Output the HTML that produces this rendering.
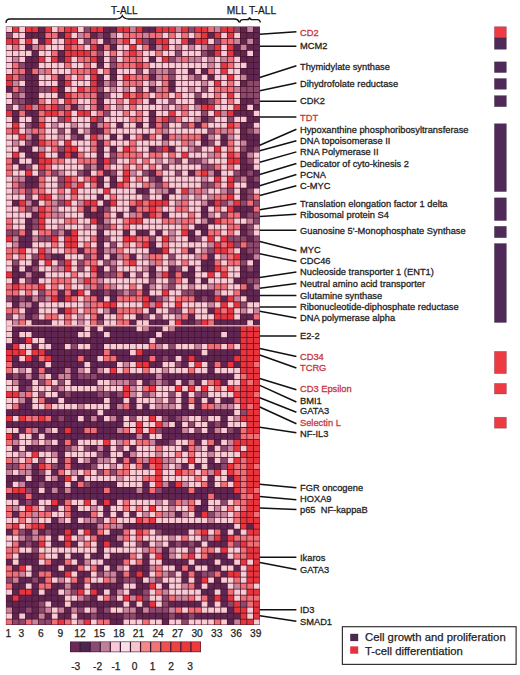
<!DOCTYPE html><html><head><meta charset="utf-8"><style>html,body{margin:0;padding:0;background:#fff;}svg{display:block}</style></head><body>
<svg width="520" height="675" viewBox="0 0 520 675">
<rect width="520" height="675" fill="#fff"/>
<defs><filter id="bl" x="-2%" y="-2%" width="104%" height="104%"><feGaussianBlur stdDeviation="0.35"/></filter></defs>
<g filter="url(#bl)">
<rect x="5.9" y="26.5" width="254.00" height="598.50" fill="#4a1226"/>
<path fill="#5e2652" d="M38.84 26.88h5.75v5.23h-5.75zM103.97 26.88h5.75v5.23h-5.75zM110.49 26.88h5.75v5.23h-5.75zM143.05 26.88h5.75v5.23h-5.75zM149.56 26.88h5.75v5.23h-5.75zM240.74 26.88h5.75v5.23h-5.75zM253.77 26.88h5.75v5.23h-5.75zM25.82 32.87h5.75v5.23h-5.75zM32.33 32.87h5.75v5.23h-5.75zM38.84 32.87h5.75v5.23h-5.75zM58.38 32.87h5.75v5.23h-5.75zM90.95 32.87h5.75v5.23h-5.75zM103.97 32.87h5.75v5.23h-5.75zM208.18 32.87h5.75v5.23h-5.75zM240.74 32.87h5.75v5.23h-5.75zM247.25 32.87h5.75v5.23h-5.75zM253.77 32.87h5.75v5.23h-5.75zM38.84 38.85h5.75v5.23h-5.75zM103.97 38.85h5.75v5.23h-5.75zM149.56 38.85h5.75v5.23h-5.75zM188.64 38.85h5.75v5.23h-5.75zM240.74 38.85h5.75v5.23h-5.75zM253.77 38.85h5.75v5.23h-5.75zM25.82 44.84h5.75v5.23h-5.75zM97.46 44.84h5.75v5.23h-5.75zM110.49 44.84h5.75v5.23h-5.75zM149.56 44.84h5.75v5.23h-5.75zM234.23 44.84h5.75v5.23h-5.75zM247.25 44.84h5.75v5.23h-5.75zM253.77 44.84h5.75v5.23h-5.75zM32.33 50.82h5.75v5.23h-5.75zM58.38 50.82h5.75v5.23h-5.75zM208.18 50.82h5.75v5.23h-5.75zM234.23 50.82h5.75v5.23h-5.75zM240.74 50.82h5.75v5.23h-5.75zM253.77 50.82h5.75v5.23h-5.75zM25.82 56.80h5.75v5.23h-5.75zM32.33 56.80h5.75v5.23h-5.75zM58.38 56.80h5.75v5.23h-5.75zM97.46 56.80h5.75v5.23h-5.75zM149.56 56.80h5.75v5.23h-5.75zM240.74 56.80h5.75v5.23h-5.75zM247.25 56.80h5.75v5.23h-5.75zM253.77 56.80h5.75v5.23h-5.75zM25.82 62.79h5.75v5.23h-5.75zM32.33 62.79h5.75v5.23h-5.75zM97.46 62.79h5.75v5.23h-5.75zM247.25 62.79h5.75v5.23h-5.75zM253.77 62.79h5.75v5.23h-5.75zM25.82 68.78h5.75v5.23h-5.75zM110.49 68.78h5.75v5.23h-5.75zM188.64 68.78h5.75v5.23h-5.75zM201.66 68.78h5.75v5.23h-5.75zM240.74 68.78h5.75v5.23h-5.75zM247.25 68.78h5.75v5.23h-5.75zM253.77 68.78h5.75v5.23h-5.75zM25.82 74.76h5.75v5.23h-5.75zM32.33 74.76h5.75v5.23h-5.75zM58.38 74.76h5.75v5.23h-5.75zM97.46 74.76h5.75v5.23h-5.75zM110.49 74.76h5.75v5.23h-5.75zM149.56 74.76h5.75v5.23h-5.75zM208.18 74.76h5.75v5.23h-5.75zM247.25 74.76h5.75v5.23h-5.75zM253.77 74.76h5.75v5.23h-5.75zM25.82 80.75h5.75v5.23h-5.75zM32.33 80.75h5.75v5.23h-5.75zM58.38 80.75h5.75v5.23h-5.75zM97.46 80.75h5.75v5.23h-5.75zM169.10 80.75h5.75v5.23h-5.75zM240.74 80.75h5.75v5.23h-5.75zM6.28 86.73h5.75v5.23h-5.75zM25.82 86.73h5.75v5.23h-5.75zM32.33 86.73h5.75v5.23h-5.75zM58.38 86.73h5.75v5.23h-5.75zM149.56 86.73h5.75v5.23h-5.75zM169.10 86.73h5.75v5.23h-5.75zM25.82 92.72h5.75v5.23h-5.75zM32.33 92.72h5.75v5.23h-5.75zM58.38 92.72h5.75v5.23h-5.75zM97.46 92.72h5.75v5.23h-5.75zM25.82 98.70h5.75v5.23h-5.75zM32.33 98.70h5.75v5.23h-5.75zM97.46 98.70h5.75v5.23h-5.75zM149.56 98.70h5.75v5.23h-5.75zM195.15 98.70h5.75v5.23h-5.75zM201.66 98.70h5.75v5.23h-5.75zM240.74 98.70h5.75v5.23h-5.75zM247.25 98.70h5.75v5.23h-5.75zM71.41 104.69h5.75v5.23h-5.75zM97.46 104.69h5.75v5.23h-5.75zM240.74 104.69h5.75v5.23h-5.75zM253.77 104.69h5.75v5.23h-5.75zM12.79 110.67h5.75v5.23h-5.75zM25.82 110.67h5.75v5.23h-5.75zM32.33 110.67h5.75v5.23h-5.75zM149.56 110.67h5.75v5.23h-5.75zM234.23 110.67h5.75v5.23h-5.75zM240.74 110.67h5.75v5.23h-5.75zM247.25 110.67h5.75v5.23h-5.75zM12.79 116.66h5.75v5.23h-5.75zM32.33 116.66h5.75v5.23h-5.75zM149.56 116.66h5.75v5.23h-5.75zM201.66 116.66h5.75v5.23h-5.75zM247.25 116.66h5.75v5.23h-5.75zM253.77 116.66h5.75v5.23h-5.75zM32.33 122.64h5.75v5.23h-5.75zM90.95 122.64h5.75v5.23h-5.75zM117.00 122.64h5.75v5.23h-5.75zM136.54 122.64h5.75v5.23h-5.75zM149.56 122.64h5.75v5.23h-5.75zM195.15 122.64h5.75v5.23h-5.75zM240.74 122.64h5.75v5.23h-5.75zM247.25 122.64h5.75v5.23h-5.75zM71.41 128.62h5.75v5.23h-5.75zM90.95 128.62h5.75v5.23h-5.75zM97.46 128.62h5.75v5.23h-5.75zM240.74 128.62h5.75v5.23h-5.75zM32.33 134.61h5.75v5.23h-5.75zM77.92 134.61h5.75v5.23h-5.75zM110.49 134.61h5.75v5.23h-5.75zM123.51 134.61h5.75v5.23h-5.75zM143.05 134.61h5.75v5.23h-5.75zM162.59 134.61h5.75v5.23h-5.75zM201.66 134.61h5.75v5.23h-5.75zM221.20 134.61h5.75v5.23h-5.75zM240.74 134.61h5.75v5.23h-5.75zM247.25 134.61h5.75v5.23h-5.75zM253.77 134.61h5.75v5.23h-5.75zM32.33 140.59h5.75v5.23h-5.75zM97.46 140.59h5.75v5.23h-5.75zM201.66 140.59h5.75v5.23h-5.75zM221.20 140.59h5.75v5.23h-5.75zM247.25 140.59h5.75v5.23h-5.75zM253.77 140.59h5.75v5.23h-5.75zM19.31 146.58h5.75v5.23h-5.75zM25.82 146.58h5.75v5.23h-5.75zM97.46 146.58h5.75v5.23h-5.75zM110.49 146.58h5.75v5.23h-5.75zM149.56 146.58h5.75v5.23h-5.75zM169.10 146.58h5.75v5.23h-5.75zM247.25 146.58h5.75v5.23h-5.75zM25.82 152.56h5.75v5.23h-5.75zM32.33 152.56h5.75v5.23h-5.75zM58.38 152.56h5.75v5.23h-5.75zM71.41 152.56h5.75v5.23h-5.75zM97.46 152.56h5.75v5.23h-5.75zM240.74 152.56h5.75v5.23h-5.75zM12.79 158.55h5.75v5.23h-5.75zM32.33 158.55h5.75v5.23h-5.75zM97.46 158.55h5.75v5.23h-5.75zM240.74 158.55h5.75v5.23h-5.75zM19.31 164.53h5.75v5.23h-5.75zM97.46 164.53h5.75v5.23h-5.75zM240.74 164.53h5.75v5.23h-5.75zM247.25 164.53h5.75v5.23h-5.75zM84.43 170.52h5.75v5.23h-5.75zM103.97 170.52h5.75v5.23h-5.75zM149.56 170.52h5.75v5.23h-5.75zM188.64 170.52h5.75v5.23h-5.75zM214.69 170.52h5.75v5.23h-5.75zM240.74 170.52h5.75v5.23h-5.75zM253.77 170.52h5.75v5.23h-5.75zM25.82 176.50h5.75v5.23h-5.75zM32.33 176.50h5.75v5.23h-5.75zM97.46 176.50h5.75v5.23h-5.75zM110.49 176.50h5.75v5.23h-5.75zM156.07 176.50h5.75v5.23h-5.75zM247.25 176.50h5.75v5.23h-5.75zM25.82 182.49h5.75v5.23h-5.75zM32.33 182.49h5.75v5.23h-5.75zM97.46 182.49h5.75v5.23h-5.75zM110.49 182.49h5.75v5.23h-5.75zM247.25 182.49h5.75v5.23h-5.75zM253.77 182.49h5.75v5.23h-5.75zM136.54 188.47h5.75v5.23h-5.75zM143.05 188.47h5.75v5.23h-5.75zM169.10 188.47h5.75v5.23h-5.75zM240.74 188.47h5.75v5.23h-5.75zM97.46 194.46h5.75v5.23h-5.75zM162.59 194.46h5.75v5.23h-5.75zM240.74 194.46h5.75v5.23h-5.75zM12.79 200.44h5.75v5.23h-5.75zM32.33 200.44h5.75v5.23h-5.75zM103.97 200.44h5.75v5.23h-5.75zM208.18 200.44h5.75v5.23h-5.75zM84.43 206.43h5.75v5.23h-5.75zM97.46 206.43h5.75v5.23h-5.75zM130.02 206.43h5.75v5.23h-5.75zM201.66 206.43h5.75v5.23h-5.75zM234.23 206.43h5.75v5.23h-5.75zM240.74 206.43h5.75v5.23h-5.75zM247.25 206.43h5.75v5.23h-5.75zM32.33 212.41h5.75v5.23h-5.75zM84.43 212.41h5.75v5.23h-5.75zM90.95 212.41h5.75v5.23h-5.75zM97.46 212.41h5.75v5.23h-5.75zM117.00 212.41h5.75v5.23h-5.75zM143.05 212.41h5.75v5.23h-5.75zM162.59 212.41h5.75v5.23h-5.75zM201.66 212.41h5.75v5.23h-5.75zM240.74 212.41h5.75v5.23h-5.75zM25.82 218.40h5.75v5.23h-5.75zM97.46 218.40h5.75v5.23h-5.75zM208.18 218.40h5.75v5.23h-5.75zM25.82 224.39h5.75v5.23h-5.75zM195.15 224.39h5.75v5.23h-5.75zM201.66 224.39h5.75v5.23h-5.75zM240.74 224.39h5.75v5.23h-5.75zM25.82 230.37h5.75v5.23h-5.75zM64.90 230.37h5.75v5.23h-5.75zM97.46 230.37h5.75v5.23h-5.75zM123.51 230.37h5.75v5.23h-5.75zM136.54 230.37h5.75v5.23h-5.75zM143.05 230.37h5.75v5.23h-5.75zM156.07 230.37h5.75v5.23h-5.75zM188.64 230.37h5.75v5.23h-5.75zM201.66 230.37h5.75v5.23h-5.75zM240.74 230.37h5.75v5.23h-5.75zM19.31 236.36h5.75v5.23h-5.75zM25.82 236.36h5.75v5.23h-5.75zM97.46 236.36h5.75v5.23h-5.75zM188.64 236.36h5.75v5.23h-5.75zM247.25 236.36h5.75v5.23h-5.75zM19.31 242.34h5.75v5.23h-5.75zM25.82 242.34h5.75v5.23h-5.75zM97.46 242.34h5.75v5.23h-5.75zM149.56 242.34h5.75v5.23h-5.75zM77.92 248.33h5.75v5.23h-5.75zM97.46 248.33h5.75v5.23h-5.75zM149.56 248.33h5.75v5.23h-5.75zM156.07 248.33h5.75v5.23h-5.75zM188.64 248.33h5.75v5.23h-5.75zM240.74 248.33h5.75v5.23h-5.75zM51.87 254.31h5.75v5.23h-5.75zM58.38 254.31h5.75v5.23h-5.75zM97.46 254.31h5.75v5.23h-5.75zM110.49 254.31h5.75v5.23h-5.75zM130.02 254.31h5.75v5.23h-5.75zM208.18 254.31h5.75v5.23h-5.75zM240.74 254.31h5.75v5.23h-5.75zM247.25 254.31h5.75v5.23h-5.75zM32.33 260.30h5.75v5.23h-5.75zM201.66 260.30h5.75v5.23h-5.75zM208.18 260.30h5.75v5.23h-5.75zM253.77 260.30h5.75v5.23h-5.75zM12.79 266.28h5.75v5.23h-5.75zM25.82 266.28h5.75v5.23h-5.75zM97.46 266.28h5.75v5.23h-5.75zM149.56 266.28h5.75v5.23h-5.75zM169.10 266.28h5.75v5.23h-5.75zM188.64 266.28h5.75v5.23h-5.75zM201.66 266.28h5.75v5.23h-5.75zM208.18 266.28h5.75v5.23h-5.75zM240.74 266.28h5.75v5.23h-5.75zM253.77 266.28h5.75v5.23h-5.75zM12.79 272.26h5.75v5.23h-5.75zM19.31 272.26h5.75v5.23h-5.75zM32.33 272.26h5.75v5.23h-5.75zM38.84 272.26h5.75v5.23h-5.75zM97.46 272.26h5.75v5.23h-5.75zM123.51 272.26h5.75v5.23h-5.75zM149.56 272.26h5.75v5.23h-5.75zM169.10 272.26h5.75v5.23h-5.75zM182.13 272.26h5.75v5.23h-5.75zM188.64 272.26h5.75v5.23h-5.75zM240.74 272.26h5.75v5.23h-5.75zM247.25 272.26h5.75v5.23h-5.75zM253.77 272.26h5.75v5.23h-5.75zM12.79 278.25h5.75v5.23h-5.75zM32.33 278.25h5.75v5.23h-5.75zM188.64 278.25h5.75v5.23h-5.75zM201.66 278.25h5.75v5.23h-5.75zM234.23 278.25h5.75v5.23h-5.75zM240.74 278.25h5.75v5.23h-5.75zM143.05 284.24h5.75v5.23h-5.75zM247.25 284.24h5.75v5.23h-5.75zM58.38 290.22h5.75v5.23h-5.75zM71.41 290.22h5.75v5.23h-5.75zM90.95 290.22h5.75v5.23h-5.75zM97.46 290.22h5.75v5.23h-5.75zM110.49 290.22h5.75v5.23h-5.75zM143.05 290.22h5.75v5.23h-5.75zM195.15 290.22h5.75v5.23h-5.75zM201.66 290.22h5.75v5.23h-5.75zM208.18 290.22h5.75v5.23h-5.75zM240.74 290.22h5.75v5.23h-5.75zM247.25 290.22h5.75v5.23h-5.75zM253.77 290.22h5.75v5.23h-5.75zM12.79 296.20h5.75v5.23h-5.75zM25.82 296.20h5.75v5.23h-5.75zM58.38 296.20h5.75v5.23h-5.75zM97.46 296.20h5.75v5.23h-5.75zM110.49 296.20h5.75v5.23h-5.75zM149.56 296.20h5.75v5.23h-5.75zM195.15 296.20h5.75v5.23h-5.75zM208.18 296.20h5.75v5.23h-5.75zM221.20 296.20h5.75v5.23h-5.75zM247.25 296.20h5.75v5.23h-5.75zM253.77 296.20h5.75v5.23h-5.75zM12.79 302.19h5.75v5.23h-5.75zM32.33 302.19h5.75v5.23h-5.75zM25.82 308.18h5.75v5.23h-5.75zM32.33 308.18h5.75v5.23h-5.75zM58.38 308.18h5.75v5.23h-5.75zM110.49 308.18h5.75v5.23h-5.75zM149.56 308.18h5.75v5.23h-5.75zM208.18 308.18h5.75v5.23h-5.75zM25.82 314.16h5.75v5.23h-5.75zM97.46 314.16h5.75v5.23h-5.75zM136.54 314.16h5.75v5.23h-5.75zM188.64 314.16h5.75v5.23h-5.75zM240.74 314.16h5.75v5.23h-5.75zM247.25 314.16h5.75v5.23h-5.75zM32.33 320.15h5.75v5.23h-5.75zM38.84 320.15h5.75v5.23h-5.75zM45.36 320.15h5.75v5.23h-5.75zM130.02 320.15h5.75v5.23h-5.75zM149.56 320.15h5.75v5.23h-5.75zM156.07 320.15h5.75v5.23h-5.75zM162.59 320.15h5.75v5.23h-5.75zM182.13 320.15h5.75v5.23h-5.75zM188.64 320.15h5.75v5.23h-5.75zM214.69 320.15h5.75v5.23h-5.75zM221.20 320.15h5.75v5.23h-5.75zM227.72 320.15h5.75v5.23h-5.75zM234.23 320.15h5.75v5.23h-5.75zM240.74 320.15h5.75v5.23h-5.75zM253.77 320.15h5.75v5.23h-5.75zM12.79 326.13h5.75v5.23h-5.75zM19.31 326.13h5.75v5.23h-5.75zM25.82 326.13h5.75v5.23h-5.75zM32.33 326.13h5.75v5.23h-5.75zM38.84 326.13h5.75v5.23h-5.75zM45.36 326.13h5.75v5.23h-5.75zM51.87 326.13h5.75v5.23h-5.75zM58.38 326.13h5.75v5.23h-5.75zM64.90 326.13h5.75v5.23h-5.75zM71.41 326.13h5.75v5.23h-5.75zM77.92 326.13h5.75v5.23h-5.75zM90.95 326.13h5.75v5.23h-5.75zM103.97 326.13h5.75v5.23h-5.75zM110.49 326.13h5.75v5.23h-5.75zM117.00 326.13h5.75v5.23h-5.75zM123.51 326.13h5.75v5.23h-5.75zM130.02 326.13h5.75v5.23h-5.75zM149.56 326.13h5.75v5.23h-5.75zM156.07 326.13h5.75v5.23h-5.75zM175.61 326.13h5.75v5.23h-5.75zM182.13 326.13h5.75v5.23h-5.75zM188.64 326.13h5.75v5.23h-5.75zM195.15 326.13h5.75v5.23h-5.75zM201.66 326.13h5.75v5.23h-5.75zM208.18 326.13h5.75v5.23h-5.75zM214.69 326.13h5.75v5.23h-5.75zM221.20 326.13h5.75v5.23h-5.75zM227.72 326.13h5.75v5.23h-5.75zM234.23 326.13h5.75v5.23h-5.75zM12.79 332.12h5.75v5.23h-5.75zM32.33 332.12h5.75v5.23h-5.75zM38.84 332.12h5.75v5.23h-5.75zM45.36 332.12h5.75v5.23h-5.75zM51.87 332.12h5.75v5.23h-5.75zM58.38 332.12h5.75v5.23h-5.75zM64.90 332.12h5.75v5.23h-5.75zM71.41 332.12h5.75v5.23h-5.75zM90.95 332.12h5.75v5.23h-5.75zM97.46 332.12h5.75v5.23h-5.75zM110.49 332.12h5.75v5.23h-5.75zM117.00 332.12h5.75v5.23h-5.75zM123.51 332.12h5.75v5.23h-5.75zM130.02 332.12h5.75v5.23h-5.75zM136.54 332.12h5.75v5.23h-5.75zM143.05 332.12h5.75v5.23h-5.75zM149.56 332.12h5.75v5.23h-5.75zM162.59 332.12h5.75v5.23h-5.75zM169.10 332.12h5.75v5.23h-5.75zM175.61 332.12h5.75v5.23h-5.75zM182.13 332.12h5.75v5.23h-5.75zM188.64 332.12h5.75v5.23h-5.75zM195.15 332.12h5.75v5.23h-5.75zM201.66 332.12h5.75v5.23h-5.75zM208.18 332.12h5.75v5.23h-5.75zM214.69 332.12h5.75v5.23h-5.75zM227.72 332.12h5.75v5.23h-5.75zM234.23 332.12h5.75v5.23h-5.75zM12.79 338.10h5.75v5.23h-5.75zM19.31 338.10h5.75v5.23h-5.75zM45.36 338.10h5.75v5.23h-5.75zM51.87 338.10h5.75v5.23h-5.75zM58.38 338.10h5.75v5.23h-5.75zM64.90 338.10h5.75v5.23h-5.75zM71.41 338.10h5.75v5.23h-5.75zM77.92 338.10h5.75v5.23h-5.75zM84.43 338.10h5.75v5.23h-5.75zM90.95 338.10h5.75v5.23h-5.75zM97.46 338.10h5.75v5.23h-5.75zM103.97 338.10h5.75v5.23h-5.75zM110.49 338.10h5.75v5.23h-5.75zM117.00 338.10h5.75v5.23h-5.75zM123.51 338.10h5.75v5.23h-5.75zM130.02 338.10h5.75v5.23h-5.75zM136.54 338.10h5.75v5.23h-5.75zM143.05 338.10h5.75v5.23h-5.75zM156.07 338.10h5.75v5.23h-5.75zM162.59 338.10h5.75v5.23h-5.75zM169.10 338.10h5.75v5.23h-5.75zM175.61 338.10h5.75v5.23h-5.75zM182.13 338.10h5.75v5.23h-5.75zM188.64 338.10h5.75v5.23h-5.75zM195.15 338.10h5.75v5.23h-5.75zM201.66 338.10h5.75v5.23h-5.75zM208.18 338.10h5.75v5.23h-5.75zM214.69 338.10h5.75v5.23h-5.75zM221.20 338.10h5.75v5.23h-5.75zM227.72 338.10h5.75v5.23h-5.75zM234.23 338.10h5.75v5.23h-5.75zM6.28 344.09h5.75v5.23h-5.75zM32.33 344.09h5.75v5.23h-5.75zM51.87 344.09h5.75v5.23h-5.75zM58.38 344.09h5.75v5.23h-5.75zM90.95 344.09h5.75v5.23h-5.75zM97.46 344.09h5.75v5.23h-5.75zM45.36 350.07h5.75v5.23h-5.75zM51.87 350.07h5.75v5.23h-5.75zM58.38 350.07h5.75v5.23h-5.75zM64.90 350.07h5.75v5.23h-5.75zM71.41 350.07h5.75v5.23h-5.75zM77.92 350.07h5.75v5.23h-5.75zM84.43 350.07h5.75v5.23h-5.75zM90.95 350.07h5.75v5.23h-5.75zM97.46 350.07h5.75v5.23h-5.75zM110.49 350.07h5.75v5.23h-5.75zM117.00 350.07h5.75v5.23h-5.75zM123.51 350.07h5.75v5.23h-5.75zM143.05 350.07h5.75v5.23h-5.75zM149.56 350.07h5.75v5.23h-5.75zM156.07 350.07h5.75v5.23h-5.75zM162.59 350.07h5.75v5.23h-5.75zM169.10 350.07h5.75v5.23h-5.75zM175.61 350.07h5.75v5.23h-5.75zM182.13 350.07h5.75v5.23h-5.75zM188.64 350.07h5.75v5.23h-5.75zM195.15 350.07h5.75v5.23h-5.75zM208.18 350.07h5.75v5.23h-5.75zM214.69 350.07h5.75v5.23h-5.75zM221.20 350.07h5.75v5.23h-5.75zM227.72 350.07h5.75v5.23h-5.75zM234.23 350.07h5.75v5.23h-5.75zM12.79 356.06h5.75v5.23h-5.75zM32.33 356.06h5.75v5.23h-5.75zM51.87 356.06h5.75v5.23h-5.75zM58.38 356.06h5.75v5.23h-5.75zM64.90 356.06h5.75v5.23h-5.75zM71.41 356.06h5.75v5.23h-5.75zM84.43 356.06h5.75v5.23h-5.75zM90.95 356.06h5.75v5.23h-5.75zM117.00 356.06h5.75v5.23h-5.75zM123.51 356.06h5.75v5.23h-5.75zM130.02 356.06h5.75v5.23h-5.75zM136.54 356.06h5.75v5.23h-5.75zM143.05 356.06h5.75v5.23h-5.75zM156.07 356.06h5.75v5.23h-5.75zM169.10 356.06h5.75v5.23h-5.75zM182.13 356.06h5.75v5.23h-5.75zM195.15 356.06h5.75v5.23h-5.75zM201.66 356.06h5.75v5.23h-5.75zM208.18 356.06h5.75v5.23h-5.75zM214.69 356.06h5.75v5.23h-5.75zM221.20 356.06h5.75v5.23h-5.75zM227.72 356.06h5.75v5.23h-5.75zM12.79 362.04h5.75v5.23h-5.75zM19.31 362.04h5.75v5.23h-5.75zM25.82 362.04h5.75v5.23h-5.75zM32.33 362.04h5.75v5.23h-5.75zM38.84 362.04h5.75v5.23h-5.75zM51.87 362.04h5.75v5.23h-5.75zM58.38 362.04h5.75v5.23h-5.75zM64.90 362.04h5.75v5.23h-5.75zM71.41 362.04h5.75v5.23h-5.75zM77.92 362.04h5.75v5.23h-5.75zM90.95 362.04h5.75v5.23h-5.75zM97.46 362.04h5.75v5.23h-5.75zM103.97 362.04h5.75v5.23h-5.75zM110.49 362.04h5.75v5.23h-5.75zM149.56 362.04h5.75v5.23h-5.75zM156.07 362.04h5.75v5.23h-5.75zM182.13 362.04h5.75v5.23h-5.75zM208.18 362.04h5.75v5.23h-5.75zM221.20 362.04h5.75v5.23h-5.75zM234.23 362.04h5.75v5.23h-5.75zM32.33 368.03h5.75v5.23h-5.75zM45.36 368.03h5.75v5.23h-5.75zM51.87 368.03h5.75v5.23h-5.75zM58.38 368.03h5.75v5.23h-5.75zM71.41 368.03h5.75v5.23h-5.75zM90.95 368.03h5.75v5.23h-5.75zM208.18 368.03h5.75v5.23h-5.75zM6.28 374.01h5.75v5.23h-5.75zM19.31 374.01h5.75v5.23h-5.75zM32.33 374.01h5.75v5.23h-5.75zM51.87 374.01h5.75v5.23h-5.75zM71.41 374.01h5.75v5.23h-5.75zM97.46 374.01h5.75v5.23h-5.75zM103.97 374.01h5.75v5.23h-5.75zM110.49 374.01h5.75v5.23h-5.75zM117.00 374.01h5.75v5.23h-5.75zM123.51 374.01h5.75v5.23h-5.75zM130.02 374.01h5.75v5.23h-5.75zM136.54 374.01h5.75v5.23h-5.75zM143.05 374.01h5.75v5.23h-5.75zM149.56 374.01h5.75v5.23h-5.75zM162.59 374.01h5.75v5.23h-5.75zM169.10 374.01h5.75v5.23h-5.75zM175.61 374.01h5.75v5.23h-5.75zM182.13 374.01h5.75v5.23h-5.75zM188.64 374.01h5.75v5.23h-5.75zM195.15 374.01h5.75v5.23h-5.75zM201.66 374.01h5.75v5.23h-5.75zM208.18 374.01h5.75v5.23h-5.75zM214.69 374.01h5.75v5.23h-5.75zM221.20 374.01h5.75v5.23h-5.75zM227.72 374.01h5.75v5.23h-5.75zM19.31 380.00h5.75v5.23h-5.75zM25.82 380.00h5.75v5.23h-5.75zM71.41 380.00h5.75v5.23h-5.75zM77.92 380.00h5.75v5.23h-5.75zM84.43 380.00h5.75v5.23h-5.75zM90.95 380.00h5.75v5.23h-5.75zM143.05 380.00h5.75v5.23h-5.75zM169.10 380.00h5.75v5.23h-5.75zM182.13 380.00h5.75v5.23h-5.75zM195.15 380.00h5.75v5.23h-5.75zM221.20 380.00h5.75v5.23h-5.75zM19.31 385.98h5.75v5.23h-5.75zM58.38 391.97h5.75v5.23h-5.75zM71.41 391.97h5.75v5.23h-5.75zM77.92 391.97h5.75v5.23h-5.75zM84.43 391.97h5.75v5.23h-5.75zM90.95 391.97h5.75v5.23h-5.75zM110.49 391.97h5.75v5.23h-5.75zM182.13 391.97h5.75v5.23h-5.75zM25.82 397.95h5.75v5.23h-5.75zM45.36 397.95h5.75v5.23h-5.75zM51.87 397.95h5.75v5.23h-5.75zM64.90 397.95h5.75v5.23h-5.75zM71.41 397.95h5.75v5.23h-5.75zM77.92 397.95h5.75v5.23h-5.75zM84.43 397.95h5.75v5.23h-5.75zM90.95 397.95h5.75v5.23h-5.75zM97.46 397.95h5.75v5.23h-5.75zM110.49 397.95h5.75v5.23h-5.75zM117.00 397.95h5.75v5.23h-5.75zM130.02 397.95h5.75v5.23h-5.75zM182.13 397.95h5.75v5.23h-5.75zM195.15 397.95h5.75v5.23h-5.75zM208.18 397.95h5.75v5.23h-5.75zM221.20 397.95h5.75v5.23h-5.75zM227.72 397.95h5.75v5.23h-5.75zM19.31 403.94h5.75v5.23h-5.75zM25.82 403.94h5.75v5.23h-5.75zM110.49 403.94h5.75v5.23h-5.75zM130.02 403.94h5.75v5.23h-5.75zM143.05 403.94h5.75v5.23h-5.75zM182.13 403.94h5.75v5.23h-5.75zM195.15 403.94h5.75v5.23h-5.75zM6.28 409.92h5.75v5.23h-5.75zM12.79 409.92h5.75v5.23h-5.75zM19.31 409.92h5.75v5.23h-5.75zM25.82 409.92h5.75v5.23h-5.75zM32.33 409.92h5.75v5.23h-5.75zM38.84 409.92h5.75v5.23h-5.75zM45.36 409.92h5.75v5.23h-5.75zM51.87 409.92h5.75v5.23h-5.75zM58.38 409.92h5.75v5.23h-5.75zM64.90 409.92h5.75v5.23h-5.75zM71.41 409.92h5.75v5.23h-5.75zM77.92 409.92h5.75v5.23h-5.75zM84.43 409.92h5.75v5.23h-5.75zM90.95 409.92h5.75v5.23h-5.75zM103.97 409.92h5.75v5.23h-5.75zM110.49 409.92h5.75v5.23h-5.75zM117.00 409.92h5.75v5.23h-5.75zM123.51 409.92h5.75v5.23h-5.75zM130.02 409.92h5.75v5.23h-5.75zM136.54 409.92h5.75v5.23h-5.75zM143.05 409.92h5.75v5.23h-5.75zM149.56 409.92h5.75v5.23h-5.75zM156.07 409.92h5.75v5.23h-5.75zM162.59 409.92h5.75v5.23h-5.75zM169.10 409.92h5.75v5.23h-5.75zM175.61 409.92h5.75v5.23h-5.75zM182.13 409.92h5.75v5.23h-5.75zM188.64 409.92h5.75v5.23h-5.75zM195.15 409.92h5.75v5.23h-5.75zM201.66 409.92h5.75v5.23h-5.75zM208.18 409.92h5.75v5.23h-5.75zM214.69 409.92h5.75v5.23h-5.75zM221.20 409.92h5.75v5.23h-5.75zM227.72 409.92h5.75v5.23h-5.75zM51.87 415.91h5.75v5.23h-5.75zM64.90 415.91h5.75v5.23h-5.75zM71.41 415.91h5.75v5.23h-5.75zM84.43 415.91h5.75v5.23h-5.75zM97.46 415.91h5.75v5.23h-5.75zM117.00 415.91h5.75v5.23h-5.75zM169.10 415.91h5.75v5.23h-5.75zM221.20 415.91h5.75v5.23h-5.75zM6.28 421.89h5.75v5.23h-5.75zM12.79 421.89h5.75v5.23h-5.75zM19.31 421.89h5.75v5.23h-5.75zM25.82 421.89h5.75v5.23h-5.75zM32.33 421.89h5.75v5.23h-5.75zM38.84 421.89h5.75v5.23h-5.75zM45.36 421.89h5.75v5.23h-5.75zM51.87 421.89h5.75v5.23h-5.75zM58.38 421.89h5.75v5.23h-5.75zM64.90 421.89h5.75v5.23h-5.75zM71.41 421.89h5.75v5.23h-5.75zM77.92 421.89h5.75v5.23h-5.75zM84.43 421.89h5.75v5.23h-5.75zM90.95 421.89h5.75v5.23h-5.75zM97.46 421.89h5.75v5.23h-5.75zM103.97 421.89h5.75v5.23h-5.75zM110.49 421.89h5.75v5.23h-5.75zM117.00 421.89h5.75v5.23h-5.75zM175.61 421.89h5.75v5.23h-5.75zM208.18 421.89h5.75v5.23h-5.75zM221.20 421.89h5.75v5.23h-5.75zM19.31 427.88h5.75v5.23h-5.75zM38.84 427.88h5.75v5.23h-5.75zM58.38 427.88h5.75v5.23h-5.75zM71.41 427.88h5.75v5.23h-5.75zM77.92 427.88h5.75v5.23h-5.75zM97.46 427.88h5.75v5.23h-5.75zM103.97 427.88h5.75v5.23h-5.75zM110.49 427.88h5.75v5.23h-5.75zM162.59 427.88h5.75v5.23h-5.75zM169.10 427.88h5.75v5.23h-5.75zM175.61 427.88h5.75v5.23h-5.75zM208.18 427.88h5.75v5.23h-5.75zM234.23 427.88h5.75v5.23h-5.75zM12.79 433.86h5.75v5.23h-5.75zM32.33 433.86h5.75v5.23h-5.75zM45.36 433.86h5.75v5.23h-5.75zM51.87 433.86h5.75v5.23h-5.75zM58.38 433.86h5.75v5.23h-5.75zM64.90 433.86h5.75v5.23h-5.75zM71.41 433.86h5.75v5.23h-5.75zM77.92 433.86h5.75v5.23h-5.75zM84.43 433.86h5.75v5.23h-5.75zM90.95 433.86h5.75v5.23h-5.75zM97.46 433.86h5.75v5.23h-5.75zM103.97 433.86h5.75v5.23h-5.75zM110.49 433.86h5.75v5.23h-5.75zM117.00 433.86h5.75v5.23h-5.75zM123.51 433.86h5.75v5.23h-5.75zM130.02 433.86h5.75v5.23h-5.75zM143.05 433.86h5.75v5.23h-5.75zM162.59 433.86h5.75v5.23h-5.75zM169.10 433.86h5.75v5.23h-5.75zM175.61 433.86h5.75v5.23h-5.75zM182.13 433.86h5.75v5.23h-5.75zM188.64 433.86h5.75v5.23h-5.75zM195.15 433.86h5.75v5.23h-5.75zM201.66 433.86h5.75v5.23h-5.75zM208.18 433.86h5.75v5.23h-5.75zM214.69 433.86h5.75v5.23h-5.75zM221.20 433.86h5.75v5.23h-5.75zM227.72 433.86h5.75v5.23h-5.75zM234.23 433.86h5.75v5.23h-5.75zM58.38 439.85h5.75v5.23h-5.75zM71.41 439.85h5.75v5.23h-5.75zM156.07 439.85h5.75v5.23h-5.75zM162.59 439.85h5.75v5.23h-5.75zM195.15 439.85h5.75v5.23h-5.75zM214.69 439.85h5.75v5.23h-5.75zM12.79 445.83h5.75v5.23h-5.75zM25.82 445.83h5.75v5.23h-5.75zM32.33 445.83h5.75v5.23h-5.75zM38.84 445.83h5.75v5.23h-5.75zM51.87 445.83h5.75v5.23h-5.75zM58.38 445.83h5.75v5.23h-5.75zM90.95 445.83h5.75v5.23h-5.75zM103.97 445.83h5.75v5.23h-5.75zM130.02 445.83h5.75v5.23h-5.75zM182.13 445.83h5.75v5.23h-5.75zM208.18 445.83h5.75v5.23h-5.75zM58.38 451.81h5.75v5.23h-5.75zM103.97 451.81h5.75v5.23h-5.75zM123.51 451.81h5.75v5.23h-5.75zM58.38 457.80h5.75v5.23h-5.75zM71.41 457.80h5.75v5.23h-5.75zM90.95 457.80h5.75v5.23h-5.75zM117.00 457.80h5.75v5.23h-5.75zM130.02 457.80h5.75v5.23h-5.75zM208.18 457.80h5.75v5.23h-5.75zM32.33 463.79h5.75v5.23h-5.75zM58.38 463.79h5.75v5.23h-5.75zM71.41 463.79h5.75v5.23h-5.75zM77.92 463.79h5.75v5.23h-5.75zM84.43 463.79h5.75v5.23h-5.75zM143.05 463.79h5.75v5.23h-5.75zM182.13 463.79h5.75v5.23h-5.75zM195.15 463.79h5.75v5.23h-5.75zM208.18 463.79h5.75v5.23h-5.75zM214.69 463.79h5.75v5.23h-5.75zM32.33 469.77h5.75v5.23h-5.75zM51.87 469.77h5.75v5.23h-5.75zM6.28 475.75h5.75v5.23h-5.75zM12.79 475.75h5.75v5.23h-5.75zM19.31 475.75h5.75v5.23h-5.75zM32.33 475.75h5.75v5.23h-5.75zM38.84 475.75h5.75v5.23h-5.75zM58.38 475.75h5.75v5.23h-5.75zM77.92 475.75h5.75v5.23h-5.75zM208.18 475.75h5.75v5.23h-5.75zM227.72 475.75h5.75v5.23h-5.75zM6.28 481.74h5.75v5.23h-5.75zM25.82 481.74h5.75v5.23h-5.75zM32.33 481.74h5.75v5.23h-5.75zM45.36 481.74h5.75v5.23h-5.75zM51.87 481.74h5.75v5.23h-5.75zM58.38 481.74h5.75v5.23h-5.75zM71.41 481.74h5.75v5.23h-5.75zM90.95 481.74h5.75v5.23h-5.75zM97.46 481.74h5.75v5.23h-5.75zM103.97 481.74h5.75v5.23h-5.75zM110.49 481.74h5.75v5.23h-5.75zM143.05 481.74h5.75v5.23h-5.75zM169.10 481.74h5.75v5.23h-5.75zM208.18 481.74h5.75v5.23h-5.75zM32.33 487.73h5.75v5.23h-5.75zM45.36 487.73h5.75v5.23h-5.75zM58.38 487.73h5.75v5.23h-5.75zM71.41 487.73h5.75v5.23h-5.75zM77.92 487.73h5.75v5.23h-5.75zM84.43 487.73h5.75v5.23h-5.75zM90.95 487.73h5.75v5.23h-5.75zM97.46 487.73h5.75v5.23h-5.75zM110.49 487.73h5.75v5.23h-5.75zM117.00 487.73h5.75v5.23h-5.75zM123.51 487.73h5.75v5.23h-5.75zM130.02 487.73h5.75v5.23h-5.75zM143.05 487.73h5.75v5.23h-5.75zM162.59 487.73h5.75v5.23h-5.75zM169.10 487.73h5.75v5.23h-5.75zM175.61 487.73h5.75v5.23h-5.75zM182.13 487.73h5.75v5.23h-5.75zM195.15 487.73h5.75v5.23h-5.75zM201.66 487.73h5.75v5.23h-5.75zM208.18 487.73h5.75v5.23h-5.75zM214.69 487.73h5.75v5.23h-5.75zM221.20 487.73h5.75v5.23h-5.75zM227.72 487.73h5.75v5.23h-5.75zM6.28 493.71h5.75v5.23h-5.75zM12.79 493.71h5.75v5.23h-5.75zM19.31 493.71h5.75v5.23h-5.75zM32.33 493.71h5.75v5.23h-5.75zM38.84 493.71h5.75v5.23h-5.75zM45.36 493.71h5.75v5.23h-5.75zM51.87 493.71h5.75v5.23h-5.75zM58.38 493.71h5.75v5.23h-5.75zM64.90 493.71h5.75v5.23h-5.75zM71.41 493.71h5.75v5.23h-5.75zM77.92 493.71h5.75v5.23h-5.75zM84.43 493.71h5.75v5.23h-5.75zM90.95 493.71h5.75v5.23h-5.75zM97.46 493.71h5.75v5.23h-5.75zM103.97 493.71h5.75v5.23h-5.75zM110.49 493.71h5.75v5.23h-5.75zM117.00 493.71h5.75v5.23h-5.75zM123.51 493.71h5.75v5.23h-5.75zM130.02 493.71h5.75v5.23h-5.75zM136.54 493.71h5.75v5.23h-5.75zM143.05 493.71h5.75v5.23h-5.75zM149.56 493.71h5.75v5.23h-5.75zM156.07 493.71h5.75v5.23h-5.75zM162.59 493.71h5.75v5.23h-5.75zM169.10 493.71h5.75v5.23h-5.75zM175.61 493.71h5.75v5.23h-5.75zM182.13 493.71h5.75v5.23h-5.75zM188.64 493.71h5.75v5.23h-5.75zM195.15 493.71h5.75v5.23h-5.75zM201.66 493.71h5.75v5.23h-5.75zM214.69 493.71h5.75v5.23h-5.75zM221.20 493.71h5.75v5.23h-5.75zM227.72 493.71h5.75v5.23h-5.75zM234.23 493.71h5.75v5.23h-5.75zM19.31 499.69h5.75v5.23h-5.75zM32.33 499.69h5.75v5.23h-5.75zM58.38 499.69h5.75v5.23h-5.75zM97.46 499.69h5.75v5.23h-5.75zM110.49 499.69h5.75v5.23h-5.75zM201.66 499.69h5.75v5.23h-5.75zM51.87 505.68h5.75v5.23h-5.75zM71.41 505.68h5.75v5.23h-5.75zM103.97 505.68h5.75v5.23h-5.75zM195.15 505.68h5.75v5.23h-5.75zM201.66 505.68h5.75v5.23h-5.75zM12.79 511.67h5.75v5.23h-5.75zM71.41 511.67h5.75v5.23h-5.75zM77.92 511.67h5.75v5.23h-5.75zM84.43 511.67h5.75v5.23h-5.75zM103.97 511.67h5.75v5.23h-5.75zM117.00 511.67h5.75v5.23h-5.75zM130.02 511.67h5.75v5.23h-5.75zM175.61 511.67h5.75v5.23h-5.75zM195.15 511.67h5.75v5.23h-5.75zM51.87 517.65h5.75v5.23h-5.75zM71.41 517.65h5.75v5.23h-5.75zM45.36 523.64h5.75v5.23h-5.75zM51.87 523.64h5.75v5.23h-5.75zM58.38 523.64h5.75v5.23h-5.75zM64.90 523.64h5.75v5.23h-5.75zM71.41 523.64h5.75v5.23h-5.75zM77.92 523.64h5.75v5.23h-5.75zM84.43 523.64h5.75v5.23h-5.75zM90.95 523.64h5.75v5.23h-5.75zM123.51 523.64h5.75v5.23h-5.75zM130.02 523.64h5.75v5.23h-5.75zM136.54 523.64h5.75v5.23h-5.75zM143.05 523.64h5.75v5.23h-5.75zM149.56 523.64h5.75v5.23h-5.75zM156.07 523.64h5.75v5.23h-5.75zM162.59 523.64h5.75v5.23h-5.75zM169.10 523.64h5.75v5.23h-5.75zM175.61 523.64h5.75v5.23h-5.75zM182.13 523.64h5.75v5.23h-5.75zM188.64 523.64h5.75v5.23h-5.75zM195.15 523.64h5.75v5.23h-5.75zM201.66 523.64h5.75v5.23h-5.75zM208.18 523.64h5.75v5.23h-5.75zM214.69 523.64h5.75v5.23h-5.75zM221.20 523.64h5.75v5.23h-5.75zM227.72 523.64h5.75v5.23h-5.75zM247.25 523.64h5.75v5.23h-5.75zM6.28 529.62h5.75v5.23h-5.75zM25.82 529.62h5.75v5.23h-5.75zM38.84 529.62h5.75v5.23h-5.75zM51.87 529.62h5.75v5.23h-5.75zM58.38 529.62h5.75v5.23h-5.75zM71.41 529.62h5.75v5.23h-5.75zM90.95 529.62h5.75v5.23h-5.75zM110.49 529.62h5.75v5.23h-5.75zM117.00 529.62h5.75v5.23h-5.75zM162.59 529.62h5.75v5.23h-5.75zM169.10 529.62h5.75v5.23h-5.75zM175.61 529.62h5.75v5.23h-5.75zM182.13 529.62h5.75v5.23h-5.75zM221.20 529.62h5.75v5.23h-5.75zM234.23 529.62h5.75v5.23h-5.75zM51.87 535.61h5.75v5.23h-5.75zM97.46 535.61h5.75v5.23h-5.75zM103.97 535.61h5.75v5.23h-5.75zM110.49 535.61h5.75v5.23h-5.75zM221.20 535.61h5.75v5.23h-5.75zM19.31 541.59h5.75v5.23h-5.75zM32.33 541.59h5.75v5.23h-5.75zM51.87 541.59h5.75v5.23h-5.75zM58.38 541.59h5.75v5.23h-5.75zM71.41 541.59h5.75v5.23h-5.75zM97.46 541.59h5.75v5.23h-5.75zM110.49 541.59h5.75v5.23h-5.75zM117.00 541.59h5.75v5.23h-5.75zM143.05 541.59h5.75v5.23h-5.75zM169.10 541.59h5.75v5.23h-5.75zM182.13 541.59h5.75v5.23h-5.75zM195.15 541.59h5.75v5.23h-5.75zM208.18 541.59h5.75v5.23h-5.75zM214.69 541.59h5.75v5.23h-5.75zM221.20 541.59h5.75v5.23h-5.75zM97.46 547.58h5.75v5.23h-5.75zM162.59 547.58h5.75v5.23h-5.75zM19.31 553.56h5.75v5.23h-5.75zM25.82 553.56h5.75v5.23h-5.75zM32.33 553.56h5.75v5.23h-5.75zM58.38 553.56h5.75v5.23h-5.75zM71.41 553.56h5.75v5.23h-5.75zM77.92 553.56h5.75v5.23h-5.75zM90.95 553.56h5.75v5.23h-5.75zM97.46 553.56h5.75v5.23h-5.75zM110.49 553.56h5.75v5.23h-5.75zM117.00 553.56h5.75v5.23h-5.75zM123.51 553.56h5.75v5.23h-5.75zM143.05 553.56h5.75v5.23h-5.75zM162.59 553.56h5.75v5.23h-5.75zM208.18 553.56h5.75v5.23h-5.75zM214.69 553.56h5.75v5.23h-5.75zM221.20 553.56h5.75v5.23h-5.75zM6.28 559.55h5.75v5.23h-5.75zM19.31 559.55h5.75v5.23h-5.75zM25.82 559.55h5.75v5.23h-5.75zM32.33 559.55h5.75v5.23h-5.75zM51.87 559.55h5.75v5.23h-5.75zM58.38 559.55h5.75v5.23h-5.75zM77.92 559.55h5.75v5.23h-5.75zM103.97 559.55h5.75v5.23h-5.75zM110.49 559.55h5.75v5.23h-5.75zM117.00 559.55h5.75v5.23h-5.75zM143.05 559.55h5.75v5.23h-5.75zM162.59 559.55h5.75v5.23h-5.75zM169.10 559.55h5.75v5.23h-5.75zM175.61 559.55h5.75v5.23h-5.75zM182.13 559.55h5.75v5.23h-5.75zM195.15 559.55h5.75v5.23h-5.75zM201.66 559.55h5.75v5.23h-5.75zM208.18 559.55h5.75v5.23h-5.75zM221.20 559.55h5.75v5.23h-5.75zM227.72 559.55h5.75v5.23h-5.75zM12.79 565.53h5.75v5.23h-5.75zM32.33 565.53h5.75v5.23h-5.75zM38.84 565.53h5.75v5.23h-5.75zM45.36 565.53h5.75v5.23h-5.75zM51.87 565.53h5.75v5.23h-5.75zM64.90 565.53h5.75v5.23h-5.75zM71.41 565.53h5.75v5.23h-5.75zM97.46 565.53h5.75v5.23h-5.75zM110.49 565.53h5.75v5.23h-5.75zM130.02 565.53h5.75v5.23h-5.75zM136.54 565.53h5.75v5.23h-5.75zM143.05 565.53h5.75v5.23h-5.75zM175.61 565.53h5.75v5.23h-5.75zM188.64 565.53h5.75v5.23h-5.75zM208.18 565.53h5.75v5.23h-5.75zM214.69 565.53h5.75v5.23h-5.75zM234.23 565.53h5.75v5.23h-5.75zM32.33 571.51h5.75v5.23h-5.75zM51.87 571.51h5.75v5.23h-5.75zM58.38 571.51h5.75v5.23h-5.75zM77.92 571.51h5.75v5.23h-5.75zM84.43 571.51h5.75v5.23h-5.75zM117.00 571.51h5.75v5.23h-5.75zM130.02 571.51h5.75v5.23h-5.75zM143.05 571.51h5.75v5.23h-5.75zM182.13 571.51h5.75v5.23h-5.75zM195.15 571.51h5.75v5.23h-5.75zM221.20 571.51h5.75v5.23h-5.75zM19.31 577.50h5.75v5.23h-5.75zM25.82 577.50h5.75v5.23h-5.75zM38.84 577.50h5.75v5.23h-5.75zM77.92 577.50h5.75v5.23h-5.75zM117.00 577.50h5.75v5.23h-5.75zM136.54 577.50h5.75v5.23h-5.75zM182.13 577.50h5.75v5.23h-5.75zM195.15 577.50h5.75v5.23h-5.75zM214.69 577.50h5.75v5.23h-5.75zM12.79 583.49h5.75v5.23h-5.75zM19.31 583.49h5.75v5.23h-5.75zM32.33 583.49h5.75v5.23h-5.75zM51.87 583.49h5.75v5.23h-5.75zM58.38 583.49h5.75v5.23h-5.75zM71.41 583.49h5.75v5.23h-5.75zM77.92 583.49h5.75v5.23h-5.75zM90.95 583.49h5.75v5.23h-5.75zM97.46 583.49h5.75v5.23h-5.75zM103.97 583.49h5.75v5.23h-5.75zM110.49 583.49h5.75v5.23h-5.75zM117.00 583.49h5.75v5.23h-5.75zM136.54 583.49h5.75v5.23h-5.75zM143.05 583.49h5.75v5.23h-5.75zM162.59 583.49h5.75v5.23h-5.75zM195.15 583.49h5.75v5.23h-5.75zM208.18 583.49h5.75v5.23h-5.75zM214.69 583.49h5.75v5.23h-5.75zM221.20 583.49h5.75v5.23h-5.75zM12.79 589.47h5.75v5.23h-5.75zM32.33 589.47h5.75v5.23h-5.75zM45.36 589.47h5.75v5.23h-5.75zM51.87 589.47h5.75v5.23h-5.75zM97.46 589.47h5.75v5.23h-5.75zM110.49 589.47h5.75v5.23h-5.75zM130.02 589.47h5.75v5.23h-5.75zM136.54 589.47h5.75v5.23h-5.75zM201.66 589.47h5.75v5.23h-5.75zM208.18 589.47h5.75v5.23h-5.75zM221.20 589.47h5.75v5.23h-5.75zM6.28 595.46h5.75v5.23h-5.75zM19.31 595.46h5.75v5.23h-5.75zM25.82 595.46h5.75v5.23h-5.75zM32.33 595.46h5.75v5.23h-5.75zM38.84 595.46h5.75v5.23h-5.75zM45.36 595.46h5.75v5.23h-5.75zM51.87 595.46h5.75v5.23h-5.75zM58.38 595.46h5.75v5.23h-5.75zM90.95 595.46h5.75v5.23h-5.75zM208.18 595.46h5.75v5.23h-5.75zM221.20 595.46h5.75v5.23h-5.75zM6.28 601.44h5.75v5.23h-5.75zM12.79 601.44h5.75v5.23h-5.75zM19.31 601.44h5.75v5.23h-5.75zM25.82 601.44h5.75v5.23h-5.75zM32.33 601.44h5.75v5.23h-5.75zM51.87 601.44h5.75v5.23h-5.75zM58.38 601.44h5.75v5.23h-5.75zM71.41 601.44h5.75v5.23h-5.75zM77.92 601.44h5.75v5.23h-5.75zM84.43 601.44h5.75v5.23h-5.75zM90.95 601.44h5.75v5.23h-5.75zM97.46 601.44h5.75v5.23h-5.75zM103.97 601.44h5.75v5.23h-5.75zM110.49 601.44h5.75v5.23h-5.75zM117.00 601.44h5.75v5.23h-5.75zM130.02 601.44h5.75v5.23h-5.75zM143.05 601.44h5.75v5.23h-5.75zM169.10 601.44h5.75v5.23h-5.75zM175.61 601.44h5.75v5.23h-5.75zM182.13 601.44h5.75v5.23h-5.75zM188.64 601.44h5.75v5.23h-5.75zM195.15 601.44h5.75v5.23h-5.75zM208.18 601.44h5.75v5.23h-5.75zM221.20 601.44h5.75v5.23h-5.75zM12.79 607.43h5.75v5.23h-5.75zM19.31 607.43h5.75v5.23h-5.75zM32.33 607.43h5.75v5.23h-5.75zM64.90 607.43h5.75v5.23h-5.75zM97.46 607.43h5.75v5.23h-5.75zM136.54 607.43h5.75v5.23h-5.75zM227.72 607.43h5.75v5.23h-5.75zM12.79 613.41h5.75v5.23h-5.75zM25.82 613.41h5.75v5.23h-5.75zM32.33 613.41h5.75v5.23h-5.75zM45.36 613.41h5.75v5.23h-5.75zM58.38 613.41h5.75v5.23h-5.75zM64.90 613.41h5.75v5.23h-5.75zM77.92 613.41h5.75v5.23h-5.75zM84.43 613.41h5.75v5.23h-5.75zM97.46 613.41h5.75v5.23h-5.75zM103.97 613.41h5.75v5.23h-5.75zM110.49 613.41h5.75v5.23h-5.75zM117.00 613.41h5.75v5.23h-5.75zM136.54 613.41h5.75v5.23h-5.75zM143.05 613.41h5.75v5.23h-5.75zM149.56 613.41h5.75v5.23h-5.75zM156.07 613.41h5.75v5.23h-5.75zM162.59 613.41h5.75v5.23h-5.75zM175.61 613.41h5.75v5.23h-5.75zM182.13 613.41h5.75v5.23h-5.75zM195.15 613.41h5.75v5.23h-5.75zM201.66 613.41h5.75v5.23h-5.75zM208.18 613.41h5.75v5.23h-5.75zM214.69 613.41h5.75v5.23h-5.75zM221.20 613.41h5.75v5.23h-5.75zM227.72 613.41h5.75v5.23h-5.75zM234.23 613.41h5.75v5.23h-5.75zM110.49 619.39h5.75v5.23h-5.75zM117.00 619.39h5.75v5.23h-5.75zM162.59 619.39h5.75v5.23h-5.75zM227.72 619.39h5.75v5.23h-5.75z"/>
<path fill="#8c4a6e" d="M84.43 26.88h5.75v5.23h-5.75zM188.64 26.88h5.75v5.23h-5.75zM234.23 26.88h5.75v5.23h-5.75zM6.28 32.87h5.75v5.23h-5.75zM97.46 32.87h5.75v5.23h-5.75zM84.43 38.85h5.75v5.23h-5.75zM110.49 38.85h5.75v5.23h-5.75zM143.05 38.85h5.75v5.23h-5.75zM214.69 38.85h5.75v5.23h-5.75zM208.18 44.84h5.75v5.23h-5.75zM97.46 50.82h5.75v5.23h-5.75zM175.61 50.82h5.75v5.23h-5.75zM201.66 50.82h5.75v5.23h-5.75zM110.49 56.80h5.75v5.23h-5.75zM169.10 56.80h5.75v5.23h-5.75zM19.31 62.79h5.75v5.23h-5.75zM110.49 62.79h5.75v5.23h-5.75zM136.54 68.78h5.75v5.23h-5.75zM149.56 68.78h5.75v5.23h-5.75zM169.10 68.78h5.75v5.23h-5.75zM19.31 74.76h5.75v5.23h-5.75zM169.10 74.76h5.75v5.23h-5.75zM195.15 74.76h5.75v5.23h-5.75zM110.49 80.75h5.75v5.23h-5.75zM247.25 80.75h5.75v5.23h-5.75zM253.77 80.75h5.75v5.23h-5.75zM19.31 86.73h5.75v5.23h-5.75zM38.84 86.73h5.75v5.23h-5.75zM45.36 86.73h5.75v5.23h-5.75zM97.46 86.73h5.75v5.23h-5.75zM136.54 86.73h5.75v5.23h-5.75zM201.66 86.73h5.75v5.23h-5.75zM240.74 86.73h5.75v5.23h-5.75zM247.25 86.73h5.75v5.23h-5.75zM253.77 86.73h5.75v5.23h-5.75zM12.79 92.72h5.75v5.23h-5.75zM103.97 92.72h5.75v5.23h-5.75zM195.15 92.72h5.75v5.23h-5.75zM240.74 92.72h5.75v5.23h-5.75zM247.25 92.72h5.75v5.23h-5.75zM253.77 92.72h5.75v5.23h-5.75zM12.79 98.70h5.75v5.23h-5.75zM19.31 98.70h5.75v5.23h-5.75zM169.10 98.70h5.75v5.23h-5.75zM208.18 98.70h5.75v5.23h-5.75zM253.77 98.70h5.75v5.23h-5.75zM6.28 104.69h5.75v5.23h-5.75zM19.31 104.69h5.75v5.23h-5.75zM58.38 104.69h5.75v5.23h-5.75zM103.97 110.67h5.75v5.23h-5.75zM201.66 110.67h5.75v5.23h-5.75zM58.38 116.66h5.75v5.23h-5.75zM97.46 116.66h5.75v5.23h-5.75zM169.10 116.66h5.75v5.23h-5.75zM208.18 116.66h5.75v5.23h-5.75zM227.72 116.66h5.75v5.23h-5.75zM25.82 122.64h5.75v5.23h-5.75zM162.59 122.64h5.75v5.23h-5.75zM182.13 122.64h5.75v5.23h-5.75zM58.38 128.62h5.75v5.23h-5.75zM208.18 128.62h5.75v5.23h-5.75zM247.25 128.62h5.75v5.23h-5.75zM71.41 134.61h5.75v5.23h-5.75zM25.82 140.59h5.75v5.23h-5.75zM208.18 140.59h5.75v5.23h-5.75zM58.38 146.58h5.75v5.23h-5.75zM156.07 146.58h5.75v5.23h-5.75zM195.15 146.58h5.75v5.23h-5.75zM240.74 146.58h5.75v5.23h-5.75zM253.77 146.58h5.75v5.23h-5.75zM110.49 152.56h5.75v5.23h-5.75zM110.49 158.55h5.75v5.23h-5.75zM175.61 158.55h5.75v5.23h-5.75zM188.64 158.55h5.75v5.23h-5.75zM195.15 158.55h5.75v5.23h-5.75zM247.25 158.55h5.75v5.23h-5.75zM25.82 164.53h5.75v5.23h-5.75zM84.43 164.53h5.75v5.23h-5.75zM162.59 164.53h5.75v5.23h-5.75zM201.66 164.53h5.75v5.23h-5.75zM208.18 164.53h5.75v5.23h-5.75zM38.84 170.52h5.75v5.23h-5.75zM51.87 170.52h5.75v5.23h-5.75zM77.92 170.52h5.75v5.23h-5.75zM110.49 170.52h5.75v5.23h-5.75zM143.05 170.52h5.75v5.23h-5.75zM175.61 170.52h5.75v5.23h-5.75zM234.23 170.52h5.75v5.23h-5.75zM247.25 170.52h5.75v5.23h-5.75zM58.38 176.50h5.75v5.23h-5.75zM149.56 176.50h5.75v5.23h-5.75zM234.23 176.50h5.75v5.23h-5.75zM253.77 176.50h5.75v5.23h-5.75zM19.31 182.49h5.75v5.23h-5.75zM58.38 182.49h5.75v5.23h-5.75zM156.07 182.49h5.75v5.23h-5.75zM201.66 182.49h5.75v5.23h-5.75zM208.18 182.49h5.75v5.23h-5.75zM25.82 188.47h5.75v5.23h-5.75zM227.72 188.47h5.75v5.23h-5.75zM247.25 188.47h5.75v5.23h-5.75zM25.82 194.46h5.75v5.23h-5.75zM143.05 194.46h5.75v5.23h-5.75zM247.25 194.46h5.75v5.23h-5.75zM58.38 200.44h5.75v5.23h-5.75zM221.20 200.44h5.75v5.23h-5.75zM240.74 200.44h5.75v5.23h-5.75zM253.77 200.44h5.75v5.23h-5.75zM25.82 206.43h5.75v5.23h-5.75zM103.97 206.43h5.75v5.23h-5.75zM221.20 212.41h5.75v5.23h-5.75zM247.25 212.41h5.75v5.23h-5.75zM253.77 212.41h5.75v5.23h-5.75zM32.33 218.40h5.75v5.23h-5.75zM253.77 218.40h5.75v5.23h-5.75zM32.33 224.39h5.75v5.23h-5.75zM97.46 224.39h5.75v5.23h-5.75zM103.97 224.39h5.75v5.23h-5.75zM247.25 224.39h5.75v5.23h-5.75zM6.28 230.37h5.75v5.23h-5.75zM12.79 230.37h5.75v5.23h-5.75zM51.87 230.37h5.75v5.23h-5.75zM247.25 230.37h5.75v5.23h-5.75zM38.84 236.36h5.75v5.23h-5.75zM45.36 236.36h5.75v5.23h-5.75zM103.97 236.36h5.75v5.23h-5.75zM149.56 236.36h5.75v5.23h-5.75zM195.15 236.36h5.75v5.23h-5.75zM227.72 236.36h5.75v5.23h-5.75zM234.23 236.36h5.75v5.23h-5.75zM240.74 236.36h5.75v5.23h-5.75zM253.77 236.36h5.75v5.23h-5.75zM110.49 242.34h5.75v5.23h-5.75zM234.23 242.34h5.75v5.23h-5.75zM247.25 242.34h5.75v5.23h-5.75zM253.77 242.34h5.75v5.23h-5.75zM208.18 248.33h5.75v5.23h-5.75zM247.25 248.33h5.75v5.23h-5.75zM253.77 248.33h5.75v5.23h-5.75zM32.33 254.31h5.75v5.23h-5.75zM45.36 254.31h5.75v5.23h-5.75zM84.43 254.31h5.75v5.23h-5.75zM169.10 254.31h5.75v5.23h-5.75zM12.79 260.30h5.75v5.23h-5.75zM58.38 260.30h5.75v5.23h-5.75zM77.92 260.30h5.75v5.23h-5.75zM103.97 260.30h5.75v5.23h-5.75zM240.74 260.30h5.75v5.23h-5.75zM32.33 266.28h5.75v5.23h-5.75zM77.92 266.28h5.75v5.23h-5.75zM110.49 266.28h5.75v5.23h-5.75zM175.61 266.28h5.75v5.23h-5.75zM247.25 266.28h5.75v5.23h-5.75zM103.97 272.26h5.75v5.23h-5.75zM110.49 272.26h5.75v5.23h-5.75zM136.54 272.26h5.75v5.23h-5.75zM25.82 278.25h5.75v5.23h-5.75zM149.56 278.25h5.75v5.23h-5.75zM169.10 278.25h5.75v5.23h-5.75zM247.25 278.25h5.75v5.23h-5.75zM253.77 278.25h5.75v5.23h-5.75zM97.46 284.24h5.75v5.23h-5.75zM169.10 284.24h5.75v5.23h-5.75zM38.84 290.22h5.75v5.23h-5.75zM103.97 290.22h5.75v5.23h-5.75zM117.00 290.22h5.75v5.23h-5.75zM130.02 290.22h5.75v5.23h-5.75zM182.13 290.22h5.75v5.23h-5.75zM188.64 290.22h5.75v5.23h-5.75zM6.28 296.20h5.75v5.23h-5.75zM19.31 296.20h5.75v5.23h-5.75zM38.84 296.20h5.75v5.23h-5.75zM156.07 296.20h5.75v5.23h-5.75zM201.66 296.20h5.75v5.23h-5.75zM240.74 302.19h5.75v5.23h-5.75zM169.10 308.18h5.75v5.23h-5.75zM175.61 308.18h5.75v5.23h-5.75zM6.28 314.16h5.75v5.23h-5.75zM32.33 314.16h5.75v5.23h-5.75zM143.05 314.16h5.75v5.23h-5.75zM156.07 314.16h5.75v5.23h-5.75zM97.46 320.15h5.75v5.23h-5.75zM195.15 320.15h5.75v5.23h-5.75zM71.41 344.09h5.75v5.23h-5.75zM169.10 344.09h5.75v5.23h-5.75zM162.59 356.06h5.75v5.23h-5.75zM175.61 362.04h5.75v5.23h-5.75zM12.79 374.01h5.75v5.23h-5.75zM77.92 374.01h5.75v5.23h-5.75zM84.43 374.01h5.75v5.23h-5.75zM90.95 374.01h5.75v5.23h-5.75zM38.84 380.00h5.75v5.23h-5.75zM58.38 380.00h5.75v5.23h-5.75zM130.02 380.00h5.75v5.23h-5.75zM149.56 380.00h5.75v5.23h-5.75zM162.59 380.00h5.75v5.23h-5.75zM25.82 385.98h5.75v5.23h-5.75zM51.87 385.98h5.75v5.23h-5.75zM38.84 391.97h5.75v5.23h-5.75zM64.90 391.97h5.75v5.23h-5.75zM97.46 391.97h5.75v5.23h-5.75zM103.97 391.97h5.75v5.23h-5.75zM117.00 391.97h5.75v5.23h-5.75zM143.05 391.97h5.75v5.23h-5.75zM169.10 391.97h5.75v5.23h-5.75zM195.15 391.97h5.75v5.23h-5.75zM201.66 391.97h5.75v5.23h-5.75zM169.10 397.95h5.75v5.23h-5.75zM240.74 409.92h5.75v5.23h-5.75zM58.38 415.91h5.75v5.23h-5.75zM130.02 415.91h5.75v5.23h-5.75zM162.59 415.91h5.75v5.23h-5.75zM175.61 415.91h5.75v5.23h-5.75zM201.66 415.91h5.75v5.23h-5.75zM188.64 421.89h5.75v5.23h-5.75zM214.69 421.89h5.75v5.23h-5.75zM156.07 427.88h5.75v5.23h-5.75zM195.15 427.88h5.75v5.23h-5.75zM227.72 427.88h5.75v5.23h-5.75zM169.10 439.85h5.75v5.23h-5.75zM45.36 445.83h5.75v5.23h-5.75zM64.90 445.83h5.75v5.23h-5.75zM84.43 445.83h5.75v5.23h-5.75zM117.00 445.83h5.75v5.23h-5.75zM221.20 445.83h5.75v5.23h-5.75zM97.46 451.81h5.75v5.23h-5.75zM38.84 457.80h5.75v5.23h-5.75zM221.20 457.80h5.75v5.23h-5.75zM6.28 463.79h5.75v5.23h-5.75zM12.79 463.79h5.75v5.23h-5.75zM51.87 463.79h5.75v5.23h-5.75zM90.95 463.79h5.75v5.23h-5.75zM221.20 463.79h5.75v5.23h-5.75zM38.84 469.77h5.75v5.23h-5.75zM97.46 469.77h5.75v5.23h-5.75zM110.49 469.77h5.75v5.23h-5.75zM38.84 481.74h5.75v5.23h-5.75zM84.43 481.74h5.75v5.23h-5.75zM25.82 487.73h5.75v5.23h-5.75zM156.07 487.73h5.75v5.23h-5.75zM25.82 499.69h5.75v5.23h-5.75zM169.10 499.69h5.75v5.23h-5.75zM221.20 499.69h5.75v5.23h-5.75zM45.36 505.68h5.75v5.23h-5.75zM208.18 511.67h5.75v5.23h-5.75zM97.46 517.65h5.75v5.23h-5.75zM19.31 529.62h5.75v5.23h-5.75zM45.36 529.62h5.75v5.23h-5.75zM156.07 529.62h5.75v5.23h-5.75zM25.82 535.61h5.75v5.23h-5.75zM201.66 535.61h5.75v5.23h-5.75zM25.82 541.59h5.75v5.23h-5.75zM136.54 541.59h5.75v5.23h-5.75zM175.61 541.59h5.75v5.23h-5.75zM188.64 541.59h5.75v5.23h-5.75zM234.23 541.59h5.75v5.23h-5.75zM32.33 547.58h5.75v5.23h-5.75zM188.64 547.58h5.75v5.23h-5.75zM97.46 571.51h5.75v5.23h-5.75zM169.10 571.51h5.75v5.23h-5.75zM201.66 571.51h5.75v5.23h-5.75zM208.18 571.51h5.75v5.23h-5.75zM6.28 577.50h5.75v5.23h-5.75zM32.33 577.50h5.75v5.23h-5.75zM123.51 577.50h5.75v5.23h-5.75zM130.02 577.50h5.75v5.23h-5.75zM156.07 577.50h5.75v5.23h-5.75zM71.41 589.47h5.75v5.23h-5.75zM143.05 589.47h5.75v5.23h-5.75zM84.43 595.46h5.75v5.23h-5.75zM110.49 595.46h5.75v5.23h-5.75zM143.05 595.46h5.75v5.23h-5.75zM162.59 595.46h5.75v5.23h-5.75zM38.84 601.44h5.75v5.23h-5.75zM162.59 601.44h5.75v5.23h-5.75zM227.72 601.44h5.75v5.23h-5.75zM240.74 601.44h5.75v5.23h-5.75zM25.82 607.43h5.75v5.23h-5.75zM38.84 607.43h5.75v5.23h-5.75zM77.92 607.43h5.75v5.23h-5.75zM103.97 607.43h5.75v5.23h-5.75zM149.56 607.43h5.75v5.23h-5.75zM156.07 607.43h5.75v5.23h-5.75zM162.59 607.43h5.75v5.23h-5.75zM90.95 613.41h5.75v5.23h-5.75zM123.51 613.41h5.75v5.23h-5.75zM130.02 613.41h5.75v5.23h-5.75zM169.10 613.41h5.75v5.23h-5.75zM188.64 613.41h5.75v5.23h-5.75zM12.79 619.39h5.75v5.23h-5.75zM19.31 619.39h5.75v5.23h-5.75zM38.84 619.39h5.75v5.23h-5.75zM45.36 619.39h5.75v5.23h-5.75zM182.13 619.39h5.75v5.23h-5.75z"/>
<path fill="#c8849c" d="M130.02 26.88h5.75v5.23h-5.75zM175.61 26.88h5.75v5.23h-5.75zM214.69 26.88h5.75v5.23h-5.75zM247.25 26.88h5.75v5.23h-5.75zM77.92 32.87h5.75v5.23h-5.75zM110.49 32.87h5.75v5.23h-5.75zM143.05 32.87h5.75v5.23h-5.75zM234.23 38.85h5.75v5.23h-5.75zM247.25 38.85h5.75v5.23h-5.75zM32.33 44.84h5.75v5.23h-5.75zM156.07 44.84h5.75v5.23h-5.75zM175.61 44.84h5.75v5.23h-5.75zM188.64 44.84h5.75v5.23h-5.75zM201.66 44.84h5.75v5.23h-5.75zM240.74 44.84h5.75v5.23h-5.75zM12.79 56.80h5.75v5.23h-5.75zM175.61 56.80h5.75v5.23h-5.75zM188.64 56.80h5.75v5.23h-5.75zM195.15 56.80h5.75v5.23h-5.75zM208.18 56.80h5.75v5.23h-5.75zM221.20 56.80h5.75v5.23h-5.75zM208.18 62.79h5.75v5.23h-5.75zM38.84 68.78h5.75v5.23h-5.75zM156.07 68.78h5.75v5.23h-5.75zM162.59 68.78h5.75v5.23h-5.75zM156.07 74.76h5.75v5.23h-5.75zM188.64 74.76h5.75v5.23h-5.75zM240.74 74.76h5.75v5.23h-5.75zM12.79 80.75h5.75v5.23h-5.75zM103.97 80.75h5.75v5.23h-5.75zM149.56 80.75h5.75v5.23h-5.75zM201.66 80.75h5.75v5.23h-5.75zM110.49 86.73h5.75v5.23h-5.75zM123.51 86.73h5.75v5.23h-5.75zM156.07 86.73h5.75v5.23h-5.75zM188.64 86.73h5.75v5.23h-5.75zM234.23 86.73h5.75v5.23h-5.75zM19.31 92.72h5.75v5.23h-5.75zM32.33 104.69h5.75v5.23h-5.75zM77.92 104.69h5.75v5.23h-5.75zM117.00 104.69h5.75v5.23h-5.75zM162.59 104.69h5.75v5.23h-5.75zM175.61 104.69h5.75v5.23h-5.75zM195.15 104.69h5.75v5.23h-5.75zM221.20 110.67h5.75v5.23h-5.75zM195.15 116.66h5.75v5.23h-5.75zM51.87 122.64h5.75v5.23h-5.75zM71.41 122.64h5.75v5.23h-5.75zM97.46 122.64h5.75v5.23h-5.75zM25.82 128.62h5.75v5.23h-5.75zM84.43 128.62h5.75v5.23h-5.75zM162.59 128.62h5.75v5.23h-5.75zM221.20 128.62h5.75v5.23h-5.75zM253.77 128.62h5.75v5.23h-5.75zM25.82 134.61h5.75v5.23h-5.75zM58.38 134.61h5.75v5.23h-5.75zM97.46 134.61h5.75v5.23h-5.75zM175.61 134.61h5.75v5.23h-5.75zM208.18 134.61h5.75v5.23h-5.75zM227.72 134.61h5.75v5.23h-5.75zM12.79 140.59h5.75v5.23h-5.75zM162.59 140.59h5.75v5.23h-5.75zM188.64 140.59h5.75v5.23h-5.75zM240.74 140.59h5.75v5.23h-5.75zM38.84 146.58h5.75v5.23h-5.75zM188.64 146.58h5.75v5.23h-5.75zM208.18 152.56h5.75v5.23h-5.75zM247.25 152.56h5.75v5.23h-5.75zM156.07 158.55h5.75v5.23h-5.75zM169.10 158.55h5.75v5.23h-5.75zM201.66 158.55h5.75v5.23h-5.75zM90.95 164.53h5.75v5.23h-5.75zM58.38 170.52h5.75v5.23h-5.75zM130.02 170.52h5.75v5.23h-5.75zM208.18 170.52h5.75v5.23h-5.75zM12.79 176.50h5.75v5.23h-5.75zM19.31 176.50h5.75v5.23h-5.75zM201.66 176.50h5.75v5.23h-5.75zM240.74 176.50h5.75v5.23h-5.75zM71.41 182.49h5.75v5.23h-5.75zM149.56 182.49h5.75v5.23h-5.75zM12.79 188.47h5.75v5.23h-5.75zM156.07 188.47h5.75v5.23h-5.75zM162.59 188.47h5.75v5.23h-5.75zM188.64 188.47h5.75v5.23h-5.75zM201.66 188.47h5.75v5.23h-5.75zM221.20 188.47h5.75v5.23h-5.75zM58.38 194.46h5.75v5.23h-5.75zM182.13 194.46h5.75v5.23h-5.75zM195.15 194.46h5.75v5.23h-5.75zM208.18 194.46h5.75v5.23h-5.75zM25.82 200.44h5.75v5.23h-5.75zM51.87 200.44h5.75v5.23h-5.75zM77.92 200.44h5.75v5.23h-5.75zM175.61 200.44h5.75v5.23h-5.75zM201.66 200.44h5.75v5.23h-5.75zM227.72 200.44h5.75v5.23h-5.75zM32.33 206.43h5.75v5.23h-5.75zM51.87 206.43h5.75v5.23h-5.75zM51.87 212.41h5.75v5.23h-5.75zM58.38 212.41h5.75v5.23h-5.75zM130.02 212.41h5.75v5.23h-5.75zM208.18 212.41h5.75v5.23h-5.75zM103.97 218.40h5.75v5.23h-5.75zM175.61 218.40h5.75v5.23h-5.75zM201.66 218.40h5.75v5.23h-5.75zM247.25 218.40h5.75v5.23h-5.75zM58.38 224.39h5.75v5.23h-5.75zM84.43 224.39h5.75v5.23h-5.75zM58.38 230.37h5.75v5.23h-5.75zM169.10 230.37h5.75v5.23h-5.75zM12.79 236.36h5.75v5.23h-5.75zM32.33 236.36h5.75v5.23h-5.75zM169.10 236.36h5.75v5.23h-5.75zM12.79 242.34h5.75v5.23h-5.75zM208.18 242.34h5.75v5.23h-5.75zM45.36 248.33h5.75v5.23h-5.75zM103.97 248.33h5.75v5.23h-5.75zM110.49 248.33h5.75v5.23h-5.75zM201.66 248.33h5.75v5.23h-5.75zM117.00 254.31h5.75v5.23h-5.75zM143.05 254.31h5.75v5.23h-5.75zM195.15 254.31h5.75v5.23h-5.75zM221.20 254.31h5.75v5.23h-5.75zM253.77 254.31h5.75v5.23h-5.75zM110.49 260.30h5.75v5.23h-5.75zM149.56 260.30h5.75v5.23h-5.75zM169.10 260.30h5.75v5.23h-5.75zM51.87 266.28h5.75v5.23h-5.75zM58.38 266.28h5.75v5.23h-5.75zM143.05 266.28h5.75v5.23h-5.75zM25.82 272.26h5.75v5.23h-5.75zM156.07 272.26h5.75v5.23h-5.75zM77.92 278.25h5.75v5.23h-5.75zM97.46 278.25h5.75v5.23h-5.75zM84.43 284.24h5.75v5.23h-5.75zM110.49 284.24h5.75v5.23h-5.75zM149.56 284.24h5.75v5.23h-5.75zM162.59 284.24h5.75v5.23h-5.75zM188.64 284.24h5.75v5.23h-5.75zM208.18 284.24h5.75v5.23h-5.75zM253.77 284.24h5.75v5.23h-5.75zM123.51 290.22h5.75v5.23h-5.75zM214.69 290.22h5.75v5.23h-5.75zM32.33 296.20h5.75v5.23h-5.75zM45.36 296.20h5.75v5.23h-5.75zM162.59 296.20h5.75v5.23h-5.75zM234.23 296.20h5.75v5.23h-5.75zM19.31 302.19h5.75v5.23h-5.75zM25.82 302.19h5.75v5.23h-5.75zM84.43 302.19h5.75v5.23h-5.75zM149.56 302.19h5.75v5.23h-5.75zM208.18 302.19h5.75v5.23h-5.75zM103.97 308.18h5.75v5.23h-5.75zM240.74 308.18h5.75v5.23h-5.75zM253.77 308.18h5.75v5.23h-5.75zM19.31 314.16h5.75v5.23h-5.75zM77.92 314.16h5.75v5.23h-5.75zM175.61 314.16h5.75v5.23h-5.75zM12.79 320.15h5.75v5.23h-5.75zM77.92 320.15h5.75v5.23h-5.75zM143.05 326.13h5.75v5.23h-5.75zM169.10 326.13h5.75v5.23h-5.75zM156.07 344.09h5.75v5.23h-5.75zM195.15 344.09h5.75v5.23h-5.75zM123.51 362.04h5.75v5.23h-5.75zM19.31 368.03h5.75v5.23h-5.75zM64.90 368.03h5.75v5.23h-5.75zM77.92 368.03h5.75v5.23h-5.75zM97.46 368.03h5.75v5.23h-5.75zM162.59 368.03h5.75v5.23h-5.75zM25.82 374.01h5.75v5.23h-5.75zM38.84 374.01h5.75v5.23h-5.75zM58.38 374.01h5.75v5.23h-5.75zM64.90 374.01h5.75v5.23h-5.75zM156.07 374.01h5.75v5.23h-5.75zM12.79 380.00h5.75v5.23h-5.75zM110.49 380.00h5.75v5.23h-5.75zM117.00 380.00h5.75v5.23h-5.75zM123.51 380.00h5.75v5.23h-5.75zM156.07 380.00h5.75v5.23h-5.75zM188.64 380.00h5.75v5.23h-5.75zM58.38 385.98h5.75v5.23h-5.75zM97.46 385.98h5.75v5.23h-5.75zM130.02 385.98h5.75v5.23h-5.75zM19.31 391.97h5.75v5.23h-5.75zM130.02 391.97h5.75v5.23h-5.75zM149.56 391.97h5.75v5.23h-5.75zM19.31 397.95h5.75v5.23h-5.75zM156.07 397.95h5.75v5.23h-5.75zM77.92 403.94h5.75v5.23h-5.75zM117.00 403.94h5.75v5.23h-5.75zM156.07 403.94h5.75v5.23h-5.75zM162.59 403.94h5.75v5.23h-5.75zM169.10 403.94h5.75v5.23h-5.75zM214.69 403.94h5.75v5.23h-5.75zM221.20 403.94h5.75v5.23h-5.75zM227.72 403.94h5.75v5.23h-5.75zM90.95 415.91h5.75v5.23h-5.75zM110.49 415.91h5.75v5.23h-5.75zM182.13 415.91h5.75v5.23h-5.75zM234.23 415.91h5.75v5.23h-5.75zM162.59 421.89h5.75v5.23h-5.75zM32.33 427.88h5.75v5.23h-5.75zM45.36 427.88h5.75v5.23h-5.75zM117.00 427.88h5.75v5.23h-5.75zM182.13 427.88h5.75v5.23h-5.75zM214.69 427.88h5.75v5.23h-5.75zM136.54 433.86h5.75v5.23h-5.75zM12.79 439.85h5.75v5.23h-5.75zM32.33 439.85h5.75v5.23h-5.75zM45.36 439.85h5.75v5.23h-5.75zM117.00 439.85h5.75v5.23h-5.75zM149.56 439.85h5.75v5.23h-5.75zM227.72 439.85h5.75v5.23h-5.75zM71.41 445.83h5.75v5.23h-5.75zM97.46 445.83h5.75v5.23h-5.75zM195.15 445.83h5.75v5.23h-5.75zM227.72 445.83h5.75v5.23h-5.75zM19.31 451.81h5.75v5.23h-5.75zM51.87 451.81h5.75v5.23h-5.75zM130.02 451.81h5.75v5.23h-5.75zM156.07 451.81h5.75v5.23h-5.75zM208.18 451.81h5.75v5.23h-5.75zM12.79 457.80h5.75v5.23h-5.75zM84.43 457.80h5.75v5.23h-5.75zM97.46 457.80h5.75v5.23h-5.75zM103.97 457.80h5.75v5.23h-5.75zM143.05 457.80h5.75v5.23h-5.75zM162.59 457.80h5.75v5.23h-5.75zM169.10 457.80h5.75v5.23h-5.75zM25.82 463.79h5.75v5.23h-5.75zM110.49 463.79h5.75v5.23h-5.75zM162.59 463.79h5.75v5.23h-5.75zM175.61 463.79h5.75v5.23h-5.75zM6.28 469.77h5.75v5.23h-5.75zM19.31 469.77h5.75v5.23h-5.75zM25.82 469.77h5.75v5.23h-5.75zM71.41 469.77h5.75v5.23h-5.75zM208.18 469.77h5.75v5.23h-5.75zM51.87 475.75h5.75v5.23h-5.75zM117.00 475.75h5.75v5.23h-5.75zM19.31 481.74h5.75v5.23h-5.75zM162.59 481.74h5.75v5.23h-5.75zM182.13 481.74h5.75v5.23h-5.75zM51.87 487.73h5.75v5.23h-5.75zM64.90 487.73h5.75v5.23h-5.75zM136.54 487.73h5.75v5.23h-5.75zM156.07 499.69h5.75v5.23h-5.75zM182.13 499.69h5.75v5.23h-5.75zM12.79 505.68h5.75v5.23h-5.75zM90.95 505.68h5.75v5.23h-5.75zM169.10 505.68h5.75v5.23h-5.75zM214.69 505.68h5.75v5.23h-5.75zM32.33 511.67h5.75v5.23h-5.75zM143.05 511.67h5.75v5.23h-5.75zM162.59 511.67h5.75v5.23h-5.75zM169.10 511.67h5.75v5.23h-5.75zM182.13 511.67h5.75v5.23h-5.75zM214.69 511.67h5.75v5.23h-5.75zM221.20 511.67h5.75v5.23h-5.75zM32.33 517.65h5.75v5.23h-5.75zM58.38 517.65h5.75v5.23h-5.75zM84.43 517.65h5.75v5.23h-5.75zM90.95 517.65h5.75v5.23h-5.75zM208.18 517.65h5.75v5.23h-5.75zM97.46 523.64h5.75v5.23h-5.75zM110.49 523.64h5.75v5.23h-5.75zM117.00 523.64h5.75v5.23h-5.75zM32.33 529.62h5.75v5.23h-5.75zM19.31 535.61h5.75v5.23h-5.75zM32.33 535.61h5.75v5.23h-5.75zM77.92 535.61h5.75v5.23h-5.75zM117.00 535.61h5.75v5.23h-5.75zM169.10 535.61h5.75v5.23h-5.75zM208.18 535.61h5.75v5.23h-5.75zM156.07 541.59h5.75v5.23h-5.75zM143.05 547.58h5.75v5.23h-5.75zM156.07 547.58h5.75v5.23h-5.75zM169.10 547.58h5.75v5.23h-5.75zM169.10 553.56h5.75v5.23h-5.75zM84.43 559.55h5.75v5.23h-5.75zM117.00 565.53h5.75v5.23h-5.75zM149.56 565.53h5.75v5.23h-5.75zM19.31 571.51h5.75v5.23h-5.75zM103.97 571.51h5.75v5.23h-5.75zM110.49 571.51h5.75v5.23h-5.75zM162.59 571.51h5.75v5.23h-5.75zM12.79 577.50h5.75v5.23h-5.75zM58.38 577.50h5.75v5.23h-5.75zM110.49 577.50h5.75v5.23h-5.75zM149.56 577.50h5.75v5.23h-5.75zM64.90 583.49h5.75v5.23h-5.75zM182.13 583.49h5.75v5.23h-5.75zM234.23 583.49h5.75v5.23h-5.75zM64.90 589.47h5.75v5.23h-5.75zM117.00 589.47h5.75v5.23h-5.75zM162.59 589.47h5.75v5.23h-5.75zM77.92 595.46h5.75v5.23h-5.75zM130.02 595.46h5.75v5.23h-5.75zM175.61 595.46h5.75v5.23h-5.75zM182.13 595.46h5.75v5.23h-5.75zM6.28 607.43h5.75v5.23h-5.75zM45.36 607.43h5.75v5.23h-5.75zM58.38 607.43h5.75v5.23h-5.75zM71.41 607.43h5.75v5.23h-5.75zM90.95 607.43h5.75v5.23h-5.75zM123.51 607.43h5.75v5.23h-5.75zM130.02 607.43h5.75v5.23h-5.75zM143.05 607.43h5.75v5.23h-5.75zM169.10 607.43h5.75v5.23h-5.75zM38.84 613.41h5.75v5.23h-5.75zM32.33 619.39h5.75v5.23h-5.75zM77.92 619.39h5.75v5.23h-5.75zM234.23 619.39h5.75v5.23h-5.75z"/>
<path fill="#f8ccd5" d="M6.28 26.88h5.75v5.23h-5.75zM19.31 26.88h5.75v5.23h-5.75zM51.87 26.88h5.75v5.23h-5.75zM77.92 26.88h5.75v5.23h-5.75zM12.79 32.87h5.75v5.23h-5.75zM19.31 32.87h5.75v5.23h-5.75zM71.41 32.87h5.75v5.23h-5.75zM117.00 32.87h5.75v5.23h-5.75zM162.59 32.87h5.75v5.23h-5.75zM175.61 32.87h5.75v5.23h-5.75zM188.64 32.87h5.75v5.23h-5.75zM221.20 32.87h5.75v5.23h-5.75zM234.23 32.87h5.75v5.23h-5.75zM19.31 38.85h5.75v5.23h-5.75zM32.33 38.85h5.75v5.23h-5.75zM51.87 38.85h5.75v5.23h-5.75zM58.38 38.85h5.75v5.23h-5.75zM77.92 38.85h5.75v5.23h-5.75zM97.46 38.85h5.75v5.23h-5.75zM130.02 38.85h5.75v5.23h-5.75zM169.10 38.85h5.75v5.23h-5.75zM175.61 38.85h5.75v5.23h-5.75zM208.18 38.85h5.75v5.23h-5.75zM6.28 44.84h5.75v5.23h-5.75zM19.31 44.84h5.75v5.23h-5.75zM45.36 44.84h5.75v5.23h-5.75zM51.87 44.84h5.75v5.23h-5.75zM58.38 44.84h5.75v5.23h-5.75zM84.43 44.84h5.75v5.23h-5.75zM117.00 44.84h5.75v5.23h-5.75zM123.51 44.84h5.75v5.23h-5.75zM136.54 44.84h5.75v5.23h-5.75zM169.10 44.84h5.75v5.23h-5.75zM182.13 44.84h5.75v5.23h-5.75zM195.15 44.84h5.75v5.23h-5.75zM221.20 44.84h5.75v5.23h-5.75zM6.28 50.82h5.75v5.23h-5.75zM12.79 50.82h5.75v5.23h-5.75zM19.31 50.82h5.75v5.23h-5.75zM25.82 50.82h5.75v5.23h-5.75zM38.84 50.82h5.75v5.23h-5.75zM45.36 50.82h5.75v5.23h-5.75zM103.97 50.82h5.75v5.23h-5.75zM117.00 50.82h5.75v5.23h-5.75zM143.05 50.82h5.75v5.23h-5.75zM149.56 50.82h5.75v5.23h-5.75zM162.59 50.82h5.75v5.23h-5.75zM169.10 50.82h5.75v5.23h-5.75zM182.13 50.82h5.75v5.23h-5.75zM188.64 50.82h5.75v5.23h-5.75zM195.15 50.82h5.75v5.23h-5.75zM221.20 50.82h5.75v5.23h-5.75zM247.25 50.82h5.75v5.23h-5.75zM6.28 56.80h5.75v5.23h-5.75zM19.31 56.80h5.75v5.23h-5.75zM45.36 56.80h5.75v5.23h-5.75zM71.41 56.80h5.75v5.23h-5.75zM103.97 56.80h5.75v5.23h-5.75zM117.00 56.80h5.75v5.23h-5.75zM143.05 56.80h5.75v5.23h-5.75zM156.07 56.80h5.75v5.23h-5.75zM201.66 56.80h5.75v5.23h-5.75zM214.69 56.80h5.75v5.23h-5.75zM234.23 56.80h5.75v5.23h-5.75zM6.28 62.79h5.75v5.23h-5.75zM38.84 62.79h5.75v5.23h-5.75zM45.36 62.79h5.75v5.23h-5.75zM51.87 62.79h5.75v5.23h-5.75zM58.38 62.79h5.75v5.23h-5.75zM71.41 62.79h5.75v5.23h-5.75zM77.92 62.79h5.75v5.23h-5.75zM90.95 62.79h5.75v5.23h-5.75zM103.97 62.79h5.75v5.23h-5.75zM149.56 62.79h5.75v5.23h-5.75zM156.07 62.79h5.75v5.23h-5.75zM162.59 62.79h5.75v5.23h-5.75zM169.10 62.79h5.75v5.23h-5.75zM175.61 62.79h5.75v5.23h-5.75zM182.13 62.79h5.75v5.23h-5.75zM188.64 62.79h5.75v5.23h-5.75zM195.15 62.79h5.75v5.23h-5.75zM201.66 62.79h5.75v5.23h-5.75zM214.69 62.79h5.75v5.23h-5.75zM234.23 62.79h5.75v5.23h-5.75zM240.74 62.79h5.75v5.23h-5.75zM6.28 68.78h5.75v5.23h-5.75zM51.87 68.78h5.75v5.23h-5.75zM58.38 68.78h5.75v5.23h-5.75zM64.90 68.78h5.75v5.23h-5.75zM97.46 68.78h5.75v5.23h-5.75zM117.00 68.78h5.75v5.23h-5.75zM123.51 68.78h5.75v5.23h-5.75zM130.02 68.78h5.75v5.23h-5.75zM143.05 68.78h5.75v5.23h-5.75zM175.61 68.78h5.75v5.23h-5.75zM182.13 68.78h5.75v5.23h-5.75zM195.15 68.78h5.75v5.23h-5.75zM214.69 68.78h5.75v5.23h-5.75zM227.72 68.78h5.75v5.23h-5.75zM234.23 68.78h5.75v5.23h-5.75zM38.84 74.76h5.75v5.23h-5.75zM45.36 74.76h5.75v5.23h-5.75zM71.41 74.76h5.75v5.23h-5.75zM84.43 74.76h5.75v5.23h-5.75zM103.97 74.76h5.75v5.23h-5.75zM117.00 74.76h5.75v5.23h-5.75zM175.61 74.76h5.75v5.23h-5.75zM182.13 74.76h5.75v5.23h-5.75zM201.66 74.76h5.75v5.23h-5.75zM214.69 74.76h5.75v5.23h-5.75zM221.20 74.76h5.75v5.23h-5.75zM234.23 74.76h5.75v5.23h-5.75zM19.31 80.75h5.75v5.23h-5.75zM38.84 80.75h5.75v5.23h-5.75zM45.36 80.75h5.75v5.23h-5.75zM51.87 80.75h5.75v5.23h-5.75zM71.41 80.75h5.75v5.23h-5.75zM77.92 80.75h5.75v5.23h-5.75zM84.43 80.75h5.75v5.23h-5.75zM117.00 80.75h5.75v5.23h-5.75zM143.05 80.75h5.75v5.23h-5.75zM156.07 80.75h5.75v5.23h-5.75zM175.61 80.75h5.75v5.23h-5.75zM182.13 80.75h5.75v5.23h-5.75zM188.64 80.75h5.75v5.23h-5.75zM195.15 80.75h5.75v5.23h-5.75zM208.18 80.75h5.75v5.23h-5.75zM221.20 80.75h5.75v5.23h-5.75zM234.23 80.75h5.75v5.23h-5.75zM64.90 86.73h5.75v5.23h-5.75zM71.41 86.73h5.75v5.23h-5.75zM103.97 86.73h5.75v5.23h-5.75zM117.00 86.73h5.75v5.23h-5.75zM130.02 86.73h5.75v5.23h-5.75zM143.05 86.73h5.75v5.23h-5.75zM175.61 86.73h5.75v5.23h-5.75zM182.13 86.73h5.75v5.23h-5.75zM195.15 86.73h5.75v5.23h-5.75zM208.18 86.73h5.75v5.23h-5.75zM6.28 92.72h5.75v5.23h-5.75zM38.84 92.72h5.75v5.23h-5.75zM45.36 92.72h5.75v5.23h-5.75zM51.87 92.72h5.75v5.23h-5.75zM110.49 92.72h5.75v5.23h-5.75zM117.00 92.72h5.75v5.23h-5.75zM149.56 92.72h5.75v5.23h-5.75zM169.10 92.72h5.75v5.23h-5.75zM182.13 92.72h5.75v5.23h-5.75zM188.64 92.72h5.75v5.23h-5.75zM201.66 92.72h5.75v5.23h-5.75zM208.18 92.72h5.75v5.23h-5.75zM221.20 92.72h5.75v5.23h-5.75zM234.23 92.72h5.75v5.23h-5.75zM6.28 98.70h5.75v5.23h-5.75zM45.36 98.70h5.75v5.23h-5.75zM58.38 98.70h5.75v5.23h-5.75zM77.92 98.70h5.75v5.23h-5.75zM84.43 98.70h5.75v5.23h-5.75zM103.97 98.70h5.75v5.23h-5.75zM110.49 98.70h5.75v5.23h-5.75zM123.51 98.70h5.75v5.23h-5.75zM143.05 98.70h5.75v5.23h-5.75zM156.07 98.70h5.75v5.23h-5.75zM162.59 98.70h5.75v5.23h-5.75zM175.61 98.70h5.75v5.23h-5.75zM182.13 98.70h5.75v5.23h-5.75zM188.64 98.70h5.75v5.23h-5.75zM221.20 98.70h5.75v5.23h-5.75zM234.23 98.70h5.75v5.23h-5.75zM12.79 104.69h5.75v5.23h-5.75zM84.43 104.69h5.75v5.23h-5.75zM110.49 104.69h5.75v5.23h-5.75zM123.51 104.69h5.75v5.23h-5.75zM136.54 104.69h5.75v5.23h-5.75zM143.05 104.69h5.75v5.23h-5.75zM149.56 104.69h5.75v5.23h-5.75zM156.07 104.69h5.75v5.23h-5.75zM169.10 104.69h5.75v5.23h-5.75zM188.64 104.69h5.75v5.23h-5.75zM214.69 104.69h5.75v5.23h-5.75zM221.20 104.69h5.75v5.23h-5.75zM227.72 104.69h5.75v5.23h-5.75zM247.25 104.69h5.75v5.23h-5.75zM71.41 110.67h5.75v5.23h-5.75zM90.95 110.67h5.75v5.23h-5.75zM110.49 110.67h5.75v5.23h-5.75zM117.00 110.67h5.75v5.23h-5.75zM130.02 110.67h5.75v5.23h-5.75zM143.05 110.67h5.75v5.23h-5.75zM156.07 110.67h5.75v5.23h-5.75zM162.59 110.67h5.75v5.23h-5.75zM175.61 110.67h5.75v5.23h-5.75zM188.64 110.67h5.75v5.23h-5.75zM195.15 110.67h5.75v5.23h-5.75zM208.18 110.67h5.75v5.23h-5.75zM253.77 110.67h5.75v5.23h-5.75zM6.28 116.66h5.75v5.23h-5.75zM19.31 116.66h5.75v5.23h-5.75zM25.82 116.66h5.75v5.23h-5.75zM45.36 116.66h5.75v5.23h-5.75zM51.87 116.66h5.75v5.23h-5.75zM71.41 116.66h5.75v5.23h-5.75zM77.92 116.66h5.75v5.23h-5.75zM84.43 116.66h5.75v5.23h-5.75zM103.97 116.66h5.75v5.23h-5.75zM110.49 116.66h5.75v5.23h-5.75zM117.00 116.66h5.75v5.23h-5.75zM123.51 116.66h5.75v5.23h-5.75zM143.05 116.66h5.75v5.23h-5.75zM182.13 116.66h5.75v5.23h-5.75zM188.64 116.66h5.75v5.23h-5.75zM214.69 116.66h5.75v5.23h-5.75zM221.20 116.66h5.75v5.23h-5.75zM234.23 116.66h5.75v5.23h-5.75zM240.74 116.66h5.75v5.23h-5.75zM6.28 122.64h5.75v5.23h-5.75zM19.31 122.64h5.75v5.23h-5.75zM45.36 122.64h5.75v5.23h-5.75zM58.38 122.64h5.75v5.23h-5.75zM64.90 122.64h5.75v5.23h-5.75zM77.92 122.64h5.75v5.23h-5.75zM84.43 122.64h5.75v5.23h-5.75zM110.49 122.64h5.75v5.23h-5.75zM123.51 122.64h5.75v5.23h-5.75zM130.02 122.64h5.75v5.23h-5.75zM143.05 122.64h5.75v5.23h-5.75zM169.10 122.64h5.75v5.23h-5.75zM175.61 122.64h5.75v5.23h-5.75zM208.18 122.64h5.75v5.23h-5.75zM214.69 122.64h5.75v5.23h-5.75zM221.20 122.64h5.75v5.23h-5.75zM253.77 122.64h5.75v5.23h-5.75zM19.31 128.62h5.75v5.23h-5.75zM45.36 128.62h5.75v5.23h-5.75zM51.87 128.62h5.75v5.23h-5.75zM64.90 128.62h5.75v5.23h-5.75zM77.92 128.62h5.75v5.23h-5.75zM110.49 128.62h5.75v5.23h-5.75zM117.00 128.62h5.75v5.23h-5.75zM123.51 128.62h5.75v5.23h-5.75zM130.02 128.62h5.75v5.23h-5.75zM136.54 128.62h5.75v5.23h-5.75zM143.05 128.62h5.75v5.23h-5.75zM149.56 128.62h5.75v5.23h-5.75zM169.10 128.62h5.75v5.23h-5.75zM175.61 128.62h5.75v5.23h-5.75zM182.13 128.62h5.75v5.23h-5.75zM188.64 128.62h5.75v5.23h-5.75zM195.15 128.62h5.75v5.23h-5.75zM201.66 128.62h5.75v5.23h-5.75zM234.23 128.62h5.75v5.23h-5.75zM6.28 134.61h5.75v5.23h-5.75zM12.79 134.61h5.75v5.23h-5.75zM45.36 134.61h5.75v5.23h-5.75zM51.87 134.61h5.75v5.23h-5.75zM64.90 134.61h5.75v5.23h-5.75zM84.43 134.61h5.75v5.23h-5.75zM103.97 134.61h5.75v5.23h-5.75zM117.00 134.61h5.75v5.23h-5.75zM130.02 134.61h5.75v5.23h-5.75zM156.07 134.61h5.75v5.23h-5.75zM214.69 134.61h5.75v5.23h-5.75zM234.23 134.61h5.75v5.23h-5.75zM6.28 140.59h5.75v5.23h-5.75zM19.31 140.59h5.75v5.23h-5.75zM58.38 140.59h5.75v5.23h-5.75zM71.41 140.59h5.75v5.23h-5.75zM77.92 140.59h5.75v5.23h-5.75zM84.43 140.59h5.75v5.23h-5.75zM110.49 140.59h5.75v5.23h-5.75zM117.00 140.59h5.75v5.23h-5.75zM123.51 140.59h5.75v5.23h-5.75zM136.54 140.59h5.75v5.23h-5.75zM143.05 140.59h5.75v5.23h-5.75zM149.56 140.59h5.75v5.23h-5.75zM156.07 140.59h5.75v5.23h-5.75zM169.10 140.59h5.75v5.23h-5.75zM175.61 140.59h5.75v5.23h-5.75zM195.15 140.59h5.75v5.23h-5.75zM214.69 140.59h5.75v5.23h-5.75zM234.23 140.59h5.75v5.23h-5.75zM6.28 146.58h5.75v5.23h-5.75zM12.79 146.58h5.75v5.23h-5.75zM32.33 146.58h5.75v5.23h-5.75zM45.36 146.58h5.75v5.23h-5.75zM77.92 146.58h5.75v5.23h-5.75zM84.43 146.58h5.75v5.23h-5.75zM103.97 146.58h5.75v5.23h-5.75zM117.00 146.58h5.75v5.23h-5.75zM136.54 146.58h5.75v5.23h-5.75zM143.05 146.58h5.75v5.23h-5.75zM175.61 146.58h5.75v5.23h-5.75zM182.13 146.58h5.75v5.23h-5.75zM201.66 146.58h5.75v5.23h-5.75zM208.18 146.58h5.75v5.23h-5.75zM221.20 146.58h5.75v5.23h-5.75zM234.23 146.58h5.75v5.23h-5.75zM6.28 152.56h5.75v5.23h-5.75zM19.31 152.56h5.75v5.23h-5.75zM45.36 152.56h5.75v5.23h-5.75zM51.87 152.56h5.75v5.23h-5.75zM84.43 152.56h5.75v5.23h-5.75zM90.95 152.56h5.75v5.23h-5.75zM103.97 152.56h5.75v5.23h-5.75zM143.05 152.56h5.75v5.23h-5.75zM162.59 152.56h5.75v5.23h-5.75zM175.61 152.56h5.75v5.23h-5.75zM188.64 152.56h5.75v5.23h-5.75zM195.15 152.56h5.75v5.23h-5.75zM201.66 152.56h5.75v5.23h-5.75zM221.20 152.56h5.75v5.23h-5.75zM253.77 152.56h5.75v5.23h-5.75zM19.31 158.55h5.75v5.23h-5.75zM25.82 158.55h5.75v5.23h-5.75zM64.90 158.55h5.75v5.23h-5.75zM71.41 158.55h5.75v5.23h-5.75zM117.00 158.55h5.75v5.23h-5.75zM123.51 158.55h5.75v5.23h-5.75zM136.54 158.55h5.75v5.23h-5.75zM149.56 158.55h5.75v5.23h-5.75zM162.59 158.55h5.75v5.23h-5.75zM182.13 158.55h5.75v5.23h-5.75zM208.18 158.55h5.75v5.23h-5.75zM214.69 158.55h5.75v5.23h-5.75zM221.20 158.55h5.75v5.23h-5.75zM253.77 158.55h5.75v5.23h-5.75zM12.79 164.53h5.75v5.23h-5.75zM32.33 164.53h5.75v5.23h-5.75zM51.87 164.53h5.75v5.23h-5.75zM58.38 164.53h5.75v5.23h-5.75zM64.90 164.53h5.75v5.23h-5.75zM71.41 164.53h5.75v5.23h-5.75zM77.92 164.53h5.75v5.23h-5.75zM110.49 164.53h5.75v5.23h-5.75zM117.00 164.53h5.75v5.23h-5.75zM130.02 164.53h5.75v5.23h-5.75zM143.05 164.53h5.75v5.23h-5.75zM156.07 164.53h5.75v5.23h-5.75zM169.10 164.53h5.75v5.23h-5.75zM175.61 164.53h5.75v5.23h-5.75zM182.13 164.53h5.75v5.23h-5.75zM188.64 164.53h5.75v5.23h-5.75zM195.15 164.53h5.75v5.23h-5.75zM221.20 164.53h5.75v5.23h-5.75zM234.23 164.53h5.75v5.23h-5.75zM253.77 164.53h5.75v5.23h-5.75zM12.79 170.52h5.75v5.23h-5.75zM19.31 170.52h5.75v5.23h-5.75zM32.33 170.52h5.75v5.23h-5.75zM64.90 170.52h5.75v5.23h-5.75zM71.41 170.52h5.75v5.23h-5.75zM90.95 170.52h5.75v5.23h-5.75zM117.00 170.52h5.75v5.23h-5.75zM136.54 170.52h5.75v5.23h-5.75zM162.59 170.52h5.75v5.23h-5.75zM169.10 170.52h5.75v5.23h-5.75zM182.13 170.52h5.75v5.23h-5.75zM221.20 170.52h5.75v5.23h-5.75zM227.72 170.52h5.75v5.23h-5.75zM6.28 176.50h5.75v5.23h-5.75zM45.36 176.50h5.75v5.23h-5.75zM51.87 176.50h5.75v5.23h-5.75zM77.92 176.50h5.75v5.23h-5.75zM103.97 176.50h5.75v5.23h-5.75zM117.00 176.50h5.75v5.23h-5.75zM130.02 176.50h5.75v5.23h-5.75zM143.05 176.50h5.75v5.23h-5.75zM162.59 176.50h5.75v5.23h-5.75zM169.10 176.50h5.75v5.23h-5.75zM175.61 176.50h5.75v5.23h-5.75zM182.13 176.50h5.75v5.23h-5.75zM188.64 176.50h5.75v5.23h-5.75zM195.15 176.50h5.75v5.23h-5.75zM208.18 176.50h5.75v5.23h-5.75zM221.20 176.50h5.75v5.23h-5.75zM6.28 182.49h5.75v5.23h-5.75zM45.36 182.49h5.75v5.23h-5.75zM51.87 182.49h5.75v5.23h-5.75zM84.43 182.49h5.75v5.23h-5.75zM103.97 182.49h5.75v5.23h-5.75zM130.02 182.49h5.75v5.23h-5.75zM136.54 182.49h5.75v5.23h-5.75zM169.10 182.49h5.75v5.23h-5.75zM175.61 182.49h5.75v5.23h-5.75zM182.13 182.49h5.75v5.23h-5.75zM188.64 182.49h5.75v5.23h-5.75zM195.15 182.49h5.75v5.23h-5.75zM221.20 182.49h5.75v5.23h-5.75zM234.23 182.49h5.75v5.23h-5.75zM240.74 182.49h5.75v5.23h-5.75zM6.28 188.47h5.75v5.23h-5.75zM45.36 188.47h5.75v5.23h-5.75zM51.87 188.47h5.75v5.23h-5.75zM64.90 188.47h5.75v5.23h-5.75zM77.92 188.47h5.75v5.23h-5.75zM84.43 188.47h5.75v5.23h-5.75zM90.95 188.47h5.75v5.23h-5.75zM97.46 188.47h5.75v5.23h-5.75zM110.49 188.47h5.75v5.23h-5.75zM117.00 188.47h5.75v5.23h-5.75zM123.51 188.47h5.75v5.23h-5.75zM130.02 188.47h5.75v5.23h-5.75zM149.56 188.47h5.75v5.23h-5.75zM175.61 188.47h5.75v5.23h-5.75zM208.18 188.47h5.75v5.23h-5.75zM214.69 188.47h5.75v5.23h-5.75zM234.23 188.47h5.75v5.23h-5.75zM253.77 188.47h5.75v5.23h-5.75zM6.28 194.46h5.75v5.23h-5.75zM12.79 194.46h5.75v5.23h-5.75zM19.31 194.46h5.75v5.23h-5.75zM32.33 194.46h5.75v5.23h-5.75zM51.87 194.46h5.75v5.23h-5.75zM64.90 194.46h5.75v5.23h-5.75zM77.92 194.46h5.75v5.23h-5.75zM84.43 194.46h5.75v5.23h-5.75zM90.95 194.46h5.75v5.23h-5.75zM103.97 194.46h5.75v5.23h-5.75zM117.00 194.46h5.75v5.23h-5.75zM123.51 194.46h5.75v5.23h-5.75zM130.02 194.46h5.75v5.23h-5.75zM136.54 194.46h5.75v5.23h-5.75zM149.56 194.46h5.75v5.23h-5.75zM156.07 194.46h5.75v5.23h-5.75zM169.10 194.46h5.75v5.23h-5.75zM175.61 194.46h5.75v5.23h-5.75zM188.64 194.46h5.75v5.23h-5.75zM201.66 194.46h5.75v5.23h-5.75zM234.23 194.46h5.75v5.23h-5.75zM6.28 200.44h5.75v5.23h-5.75zM38.84 200.44h5.75v5.23h-5.75zM71.41 200.44h5.75v5.23h-5.75zM97.46 200.44h5.75v5.23h-5.75zM117.00 200.44h5.75v5.23h-5.75zM123.51 200.44h5.75v5.23h-5.75zM169.10 200.44h5.75v5.23h-5.75zM188.64 200.44h5.75v5.23h-5.75zM195.15 200.44h5.75v5.23h-5.75zM6.28 206.43h5.75v5.23h-5.75zM12.79 206.43h5.75v5.23h-5.75zM58.38 206.43h5.75v5.23h-5.75zM64.90 206.43h5.75v5.23h-5.75zM71.41 206.43h5.75v5.23h-5.75zM110.49 206.43h5.75v5.23h-5.75zM117.00 206.43h5.75v5.23h-5.75zM123.51 206.43h5.75v5.23h-5.75zM162.59 206.43h5.75v5.23h-5.75zM169.10 206.43h5.75v5.23h-5.75zM188.64 206.43h5.75v5.23h-5.75zM195.15 206.43h5.75v5.23h-5.75zM208.18 206.43h5.75v5.23h-5.75zM221.20 206.43h5.75v5.23h-5.75zM6.28 212.41h5.75v5.23h-5.75zM12.79 212.41h5.75v5.23h-5.75zM19.31 212.41h5.75v5.23h-5.75zM25.82 212.41h5.75v5.23h-5.75zM64.90 212.41h5.75v5.23h-5.75zM71.41 212.41h5.75v5.23h-5.75zM77.92 212.41h5.75v5.23h-5.75zM110.49 212.41h5.75v5.23h-5.75zM123.51 212.41h5.75v5.23h-5.75zM169.10 212.41h5.75v5.23h-5.75zM175.61 212.41h5.75v5.23h-5.75zM182.13 212.41h5.75v5.23h-5.75zM195.15 212.41h5.75v5.23h-5.75zM214.69 212.41h5.75v5.23h-5.75zM12.79 218.40h5.75v5.23h-5.75zM19.31 218.40h5.75v5.23h-5.75zM45.36 218.40h5.75v5.23h-5.75zM51.87 218.40h5.75v5.23h-5.75zM58.38 218.40h5.75v5.23h-5.75zM77.92 218.40h5.75v5.23h-5.75zM84.43 218.40h5.75v5.23h-5.75zM110.49 218.40h5.75v5.23h-5.75zM117.00 218.40h5.75v5.23h-5.75zM143.05 218.40h5.75v5.23h-5.75zM149.56 218.40h5.75v5.23h-5.75zM156.07 218.40h5.75v5.23h-5.75zM195.15 218.40h5.75v5.23h-5.75zM234.23 218.40h5.75v5.23h-5.75zM240.74 218.40h5.75v5.23h-5.75zM12.79 224.39h5.75v5.23h-5.75zM19.31 224.39h5.75v5.23h-5.75zM45.36 224.39h5.75v5.23h-5.75zM51.87 224.39h5.75v5.23h-5.75zM64.90 224.39h5.75v5.23h-5.75zM71.41 224.39h5.75v5.23h-5.75zM77.92 224.39h5.75v5.23h-5.75zM90.95 224.39h5.75v5.23h-5.75zM117.00 224.39h5.75v5.23h-5.75zM130.02 224.39h5.75v5.23h-5.75zM136.54 224.39h5.75v5.23h-5.75zM143.05 224.39h5.75v5.23h-5.75zM149.56 224.39h5.75v5.23h-5.75zM156.07 224.39h5.75v5.23h-5.75zM162.59 224.39h5.75v5.23h-5.75zM169.10 224.39h5.75v5.23h-5.75zM175.61 224.39h5.75v5.23h-5.75zM188.64 224.39h5.75v5.23h-5.75zM208.18 224.39h5.75v5.23h-5.75zM214.69 224.39h5.75v5.23h-5.75zM221.20 224.39h5.75v5.23h-5.75zM253.77 224.39h5.75v5.23h-5.75zM32.33 230.37h5.75v5.23h-5.75zM77.92 230.37h5.75v5.23h-5.75zM84.43 230.37h5.75v5.23h-5.75zM90.95 230.37h5.75v5.23h-5.75zM103.97 230.37h5.75v5.23h-5.75zM110.49 230.37h5.75v5.23h-5.75zM117.00 230.37h5.75v5.23h-5.75zM130.02 230.37h5.75v5.23h-5.75zM149.56 230.37h5.75v5.23h-5.75zM162.59 230.37h5.75v5.23h-5.75zM175.61 230.37h5.75v5.23h-5.75zM195.15 230.37h5.75v5.23h-5.75zM221.20 230.37h5.75v5.23h-5.75zM234.23 230.37h5.75v5.23h-5.75zM253.77 230.37h5.75v5.23h-5.75zM58.38 236.36h5.75v5.23h-5.75zM77.92 236.36h5.75v5.23h-5.75zM84.43 236.36h5.75v5.23h-5.75zM110.49 236.36h5.75v5.23h-5.75zM117.00 236.36h5.75v5.23h-5.75zM156.07 236.36h5.75v5.23h-5.75zM175.61 236.36h5.75v5.23h-5.75zM182.13 236.36h5.75v5.23h-5.75zM201.66 236.36h5.75v5.23h-5.75zM214.69 236.36h5.75v5.23h-5.75zM6.28 242.34h5.75v5.23h-5.75zM32.33 242.34h5.75v5.23h-5.75zM38.84 242.34h5.75v5.23h-5.75zM45.36 242.34h5.75v5.23h-5.75zM58.38 242.34h5.75v5.23h-5.75zM77.92 242.34h5.75v5.23h-5.75zM90.95 242.34h5.75v5.23h-5.75zM103.97 242.34h5.75v5.23h-5.75zM117.00 242.34h5.75v5.23h-5.75zM130.02 242.34h5.75v5.23h-5.75zM156.07 242.34h5.75v5.23h-5.75zM169.10 242.34h5.75v5.23h-5.75zM175.61 242.34h5.75v5.23h-5.75zM182.13 242.34h5.75v5.23h-5.75zM188.64 242.34h5.75v5.23h-5.75zM195.15 242.34h5.75v5.23h-5.75zM201.66 242.34h5.75v5.23h-5.75zM25.82 248.33h5.75v5.23h-5.75zM32.33 248.33h5.75v5.23h-5.75zM51.87 248.33h5.75v5.23h-5.75zM58.38 248.33h5.75v5.23h-5.75zM123.51 248.33h5.75v5.23h-5.75zM130.02 248.33h5.75v5.23h-5.75zM136.54 248.33h5.75v5.23h-5.75zM143.05 248.33h5.75v5.23h-5.75zM169.10 248.33h5.75v5.23h-5.75zM175.61 248.33h5.75v5.23h-5.75zM195.15 248.33h5.75v5.23h-5.75zM234.23 248.33h5.75v5.23h-5.75zM12.79 254.31h5.75v5.23h-5.75zM25.82 254.31h5.75v5.23h-5.75zM64.90 254.31h5.75v5.23h-5.75zM71.41 254.31h5.75v5.23h-5.75zM77.92 254.31h5.75v5.23h-5.75zM103.97 254.31h5.75v5.23h-5.75zM136.54 254.31h5.75v5.23h-5.75zM162.59 254.31h5.75v5.23h-5.75zM175.61 254.31h5.75v5.23h-5.75zM182.13 254.31h5.75v5.23h-5.75zM188.64 254.31h5.75v5.23h-5.75zM214.69 254.31h5.75v5.23h-5.75zM6.28 260.30h5.75v5.23h-5.75zM19.31 260.30h5.75v5.23h-5.75zM25.82 260.30h5.75v5.23h-5.75zM38.84 260.30h5.75v5.23h-5.75zM51.87 260.30h5.75v5.23h-5.75zM71.41 260.30h5.75v5.23h-5.75zM97.46 260.30h5.75v5.23h-5.75zM117.00 260.30h5.75v5.23h-5.75zM136.54 260.30h5.75v5.23h-5.75zM143.05 260.30h5.75v5.23h-5.75zM162.59 260.30h5.75v5.23h-5.75zM175.61 260.30h5.75v5.23h-5.75zM188.64 260.30h5.75v5.23h-5.75zM195.15 260.30h5.75v5.23h-5.75zM221.20 260.30h5.75v5.23h-5.75zM247.25 260.30h5.75v5.23h-5.75zM6.28 266.28h5.75v5.23h-5.75zM19.31 266.28h5.75v5.23h-5.75zM38.84 266.28h5.75v5.23h-5.75zM45.36 266.28h5.75v5.23h-5.75zM71.41 266.28h5.75v5.23h-5.75zM84.43 266.28h5.75v5.23h-5.75zM103.97 266.28h5.75v5.23h-5.75zM117.00 266.28h5.75v5.23h-5.75zM123.51 266.28h5.75v5.23h-5.75zM130.02 266.28h5.75v5.23h-5.75zM136.54 266.28h5.75v5.23h-5.75zM156.07 266.28h5.75v5.23h-5.75zM162.59 266.28h5.75v5.23h-5.75zM182.13 266.28h5.75v5.23h-5.75zM195.15 266.28h5.75v5.23h-5.75zM227.72 266.28h5.75v5.23h-5.75zM234.23 266.28h5.75v5.23h-5.75zM45.36 272.26h5.75v5.23h-5.75zM51.87 272.26h5.75v5.23h-5.75zM58.38 272.26h5.75v5.23h-5.75zM64.90 272.26h5.75v5.23h-5.75zM77.92 272.26h5.75v5.23h-5.75zM84.43 272.26h5.75v5.23h-5.75zM130.02 272.26h5.75v5.23h-5.75zM143.05 272.26h5.75v5.23h-5.75zM195.15 272.26h5.75v5.23h-5.75zM201.66 272.26h5.75v5.23h-5.75zM214.69 272.26h5.75v5.23h-5.75zM227.72 272.26h5.75v5.23h-5.75zM234.23 272.26h5.75v5.23h-5.75zM6.28 278.25h5.75v5.23h-5.75zM19.31 278.25h5.75v5.23h-5.75zM38.84 278.25h5.75v5.23h-5.75zM45.36 278.25h5.75v5.23h-5.75zM71.41 278.25h5.75v5.23h-5.75zM103.97 278.25h5.75v5.23h-5.75zM110.49 278.25h5.75v5.23h-5.75zM117.00 278.25h5.75v5.23h-5.75zM123.51 278.25h5.75v5.23h-5.75zM130.02 278.25h5.75v5.23h-5.75zM136.54 278.25h5.75v5.23h-5.75zM143.05 278.25h5.75v5.23h-5.75zM156.07 278.25h5.75v5.23h-5.75zM162.59 278.25h5.75v5.23h-5.75zM182.13 278.25h5.75v5.23h-5.75zM195.15 278.25h5.75v5.23h-5.75zM208.18 278.25h5.75v5.23h-5.75zM214.69 278.25h5.75v5.23h-5.75zM221.20 278.25h5.75v5.23h-5.75zM227.72 278.25h5.75v5.23h-5.75zM45.36 284.24h5.75v5.23h-5.75zM58.38 284.24h5.75v5.23h-5.75zM71.41 284.24h5.75v5.23h-5.75zM77.92 284.24h5.75v5.23h-5.75zM117.00 284.24h5.75v5.23h-5.75zM123.51 284.24h5.75v5.23h-5.75zM136.54 284.24h5.75v5.23h-5.75zM156.07 284.24h5.75v5.23h-5.75zM175.61 284.24h5.75v5.23h-5.75zM182.13 284.24h5.75v5.23h-5.75zM195.15 284.24h5.75v5.23h-5.75zM201.66 284.24h5.75v5.23h-5.75zM227.72 284.24h5.75v5.23h-5.75zM234.23 284.24h5.75v5.23h-5.75zM19.31 290.22h5.75v5.23h-5.75zM32.33 290.22h5.75v5.23h-5.75zM84.43 290.22h5.75v5.23h-5.75zM149.56 290.22h5.75v5.23h-5.75zM156.07 290.22h5.75v5.23h-5.75zM169.10 290.22h5.75v5.23h-5.75zM175.61 290.22h5.75v5.23h-5.75zM221.20 290.22h5.75v5.23h-5.75zM227.72 290.22h5.75v5.23h-5.75zM77.92 296.20h5.75v5.23h-5.75zM103.97 296.20h5.75v5.23h-5.75zM169.10 296.20h5.75v5.23h-5.75zM240.74 296.20h5.75v5.23h-5.75zM6.28 302.19h5.75v5.23h-5.75zM38.84 302.19h5.75v5.23h-5.75zM45.36 302.19h5.75v5.23h-5.75zM51.87 302.19h5.75v5.23h-5.75zM58.38 302.19h5.75v5.23h-5.75zM64.90 302.19h5.75v5.23h-5.75zM71.41 302.19h5.75v5.23h-5.75zM77.92 302.19h5.75v5.23h-5.75zM117.00 302.19h5.75v5.23h-5.75zM123.51 302.19h5.75v5.23h-5.75zM130.02 302.19h5.75v5.23h-5.75zM136.54 302.19h5.75v5.23h-5.75zM162.59 302.19h5.75v5.23h-5.75zM169.10 302.19h5.75v5.23h-5.75zM182.13 302.19h5.75v5.23h-5.75zM188.64 302.19h5.75v5.23h-5.75zM195.15 302.19h5.75v5.23h-5.75zM201.66 302.19h5.75v5.23h-5.75zM214.69 302.19h5.75v5.23h-5.75zM227.72 302.19h5.75v5.23h-5.75zM247.25 302.19h5.75v5.23h-5.75zM253.77 302.19h5.75v5.23h-5.75zM19.31 308.18h5.75v5.23h-5.75zM38.84 308.18h5.75v5.23h-5.75zM45.36 308.18h5.75v5.23h-5.75zM51.87 308.18h5.75v5.23h-5.75zM77.92 308.18h5.75v5.23h-5.75zM97.46 308.18h5.75v5.23h-5.75zM143.05 308.18h5.75v5.23h-5.75zM156.07 308.18h5.75v5.23h-5.75zM162.59 308.18h5.75v5.23h-5.75zM182.13 308.18h5.75v5.23h-5.75zM195.15 308.18h5.75v5.23h-5.75zM201.66 308.18h5.75v5.23h-5.75zM234.23 308.18h5.75v5.23h-5.75zM247.25 308.18h5.75v5.23h-5.75zM12.79 314.16h5.75v5.23h-5.75zM38.84 314.16h5.75v5.23h-5.75zM58.38 314.16h5.75v5.23h-5.75zM71.41 314.16h5.75v5.23h-5.75zM84.43 314.16h5.75v5.23h-5.75zM103.97 314.16h5.75v5.23h-5.75zM110.49 314.16h5.75v5.23h-5.75zM123.51 314.16h5.75v5.23h-5.75zM130.02 314.16h5.75v5.23h-5.75zM149.56 314.16h5.75v5.23h-5.75zM162.59 314.16h5.75v5.23h-5.75zM169.10 314.16h5.75v5.23h-5.75zM195.15 314.16h5.75v5.23h-5.75zM201.66 314.16h5.75v5.23h-5.75zM208.18 314.16h5.75v5.23h-5.75zM234.23 314.16h5.75v5.23h-5.75zM6.28 320.15h5.75v5.23h-5.75zM25.82 320.15h5.75v5.23h-5.75zM51.87 320.15h5.75v5.23h-5.75zM58.38 320.15h5.75v5.23h-5.75zM71.41 320.15h5.75v5.23h-5.75zM84.43 320.15h5.75v5.23h-5.75zM103.97 320.15h5.75v5.23h-5.75zM110.49 320.15h5.75v5.23h-5.75zM136.54 320.15h5.75v5.23h-5.75zM143.05 320.15h5.75v5.23h-5.75zM169.10 320.15h5.75v5.23h-5.75zM247.25 320.15h5.75v5.23h-5.75zM6.28 326.13h5.75v5.23h-5.75zM84.43 326.13h5.75v5.23h-5.75zM97.46 326.13h5.75v5.23h-5.75zM136.54 326.13h5.75v5.23h-5.75zM162.59 326.13h5.75v5.23h-5.75zM6.28 332.12h5.75v5.23h-5.75zM19.31 332.12h5.75v5.23h-5.75zM25.82 332.12h5.75v5.23h-5.75zM77.92 332.12h5.75v5.23h-5.75zM84.43 332.12h5.75v5.23h-5.75zM103.97 332.12h5.75v5.23h-5.75zM156.07 332.12h5.75v5.23h-5.75zM221.20 332.12h5.75v5.23h-5.75zM6.28 338.10h5.75v5.23h-5.75zM32.33 338.10h5.75v5.23h-5.75zM38.84 338.10h5.75v5.23h-5.75zM149.56 338.10h5.75v5.23h-5.75zM19.31 344.09h5.75v5.23h-5.75zM25.82 344.09h5.75v5.23h-5.75zM38.84 344.09h5.75v5.23h-5.75zM45.36 344.09h5.75v5.23h-5.75zM64.90 344.09h5.75v5.23h-5.75zM77.92 344.09h5.75v5.23h-5.75zM84.43 344.09h5.75v5.23h-5.75zM103.97 344.09h5.75v5.23h-5.75zM110.49 344.09h5.75v5.23h-5.75zM117.00 344.09h5.75v5.23h-5.75zM123.51 344.09h5.75v5.23h-5.75zM130.02 344.09h5.75v5.23h-5.75zM136.54 344.09h5.75v5.23h-5.75zM143.05 344.09h5.75v5.23h-5.75zM162.59 344.09h5.75v5.23h-5.75zM175.61 344.09h5.75v5.23h-5.75zM182.13 344.09h5.75v5.23h-5.75zM188.64 344.09h5.75v5.23h-5.75zM201.66 344.09h5.75v5.23h-5.75zM221.20 344.09h5.75v5.23h-5.75zM234.23 344.09h5.75v5.23h-5.75zM25.82 350.07h5.75v5.23h-5.75zM130.02 350.07h5.75v5.23h-5.75zM201.66 350.07h5.75v5.23h-5.75zM19.31 356.06h5.75v5.23h-5.75zM97.46 356.06h5.75v5.23h-5.75zM175.61 356.06h5.75v5.23h-5.75zM45.36 362.04h5.75v5.23h-5.75zM84.43 362.04h5.75v5.23h-5.75zM117.00 362.04h5.75v5.23h-5.75zM130.02 362.04h5.75v5.23h-5.75zM162.59 362.04h5.75v5.23h-5.75zM169.10 362.04h5.75v5.23h-5.75zM188.64 362.04h5.75v5.23h-5.75zM201.66 362.04h5.75v5.23h-5.75zM12.79 368.03h5.75v5.23h-5.75zM25.82 368.03h5.75v5.23h-5.75zM84.43 368.03h5.75v5.23h-5.75zM103.97 368.03h5.75v5.23h-5.75zM117.00 368.03h5.75v5.23h-5.75zM130.02 368.03h5.75v5.23h-5.75zM136.54 368.03h5.75v5.23h-5.75zM149.56 368.03h5.75v5.23h-5.75zM156.07 368.03h5.75v5.23h-5.75zM169.10 368.03h5.75v5.23h-5.75zM175.61 368.03h5.75v5.23h-5.75zM182.13 368.03h5.75v5.23h-5.75zM195.15 368.03h5.75v5.23h-5.75zM201.66 368.03h5.75v5.23h-5.75zM214.69 368.03h5.75v5.23h-5.75zM221.20 368.03h5.75v5.23h-5.75zM227.72 368.03h5.75v5.23h-5.75zM234.23 368.03h5.75v5.23h-5.75zM45.36 374.01h5.75v5.23h-5.75zM234.23 374.01h5.75v5.23h-5.75zM6.28 380.00h5.75v5.23h-5.75zM32.33 380.00h5.75v5.23h-5.75zM51.87 380.00h5.75v5.23h-5.75zM64.90 380.00h5.75v5.23h-5.75zM97.46 380.00h5.75v5.23h-5.75zM103.97 380.00h5.75v5.23h-5.75zM136.54 380.00h5.75v5.23h-5.75zM175.61 380.00h5.75v5.23h-5.75zM201.66 380.00h5.75v5.23h-5.75zM227.72 380.00h5.75v5.23h-5.75zM234.23 380.00h5.75v5.23h-5.75zM6.28 385.98h5.75v5.23h-5.75zM12.79 385.98h5.75v5.23h-5.75zM32.33 385.98h5.75v5.23h-5.75zM38.84 385.98h5.75v5.23h-5.75zM45.36 385.98h5.75v5.23h-5.75zM64.90 385.98h5.75v5.23h-5.75zM71.41 385.98h5.75v5.23h-5.75zM77.92 385.98h5.75v5.23h-5.75zM84.43 385.98h5.75v5.23h-5.75zM90.95 385.98h5.75v5.23h-5.75zM103.97 385.98h5.75v5.23h-5.75zM110.49 385.98h5.75v5.23h-5.75zM117.00 385.98h5.75v5.23h-5.75zM136.54 385.98h5.75v5.23h-5.75zM156.07 385.98h5.75v5.23h-5.75zM162.59 385.98h5.75v5.23h-5.75zM169.10 385.98h5.75v5.23h-5.75zM182.13 385.98h5.75v5.23h-5.75zM195.15 385.98h5.75v5.23h-5.75zM208.18 385.98h5.75v5.23h-5.75zM221.20 385.98h5.75v5.23h-5.75zM32.33 391.97h5.75v5.23h-5.75zM45.36 391.97h5.75v5.23h-5.75zM51.87 391.97h5.75v5.23h-5.75zM136.54 391.97h5.75v5.23h-5.75zM156.07 391.97h5.75v5.23h-5.75zM162.59 391.97h5.75v5.23h-5.75zM175.61 391.97h5.75v5.23h-5.75zM188.64 391.97h5.75v5.23h-5.75zM208.18 391.97h5.75v5.23h-5.75zM214.69 391.97h5.75v5.23h-5.75zM221.20 391.97h5.75v5.23h-5.75zM227.72 391.97h5.75v5.23h-5.75zM6.28 397.95h5.75v5.23h-5.75zM12.79 397.95h5.75v5.23h-5.75zM32.33 397.95h5.75v5.23h-5.75zM58.38 397.95h5.75v5.23h-5.75zM103.97 397.95h5.75v5.23h-5.75zM123.51 397.95h5.75v5.23h-5.75zM136.54 397.95h5.75v5.23h-5.75zM143.05 397.95h5.75v5.23h-5.75zM149.56 397.95h5.75v5.23h-5.75zM162.59 397.95h5.75v5.23h-5.75zM175.61 397.95h5.75v5.23h-5.75zM201.66 397.95h5.75v5.23h-5.75zM214.69 397.95h5.75v5.23h-5.75zM6.28 403.94h5.75v5.23h-5.75zM32.33 403.94h5.75v5.23h-5.75zM38.84 403.94h5.75v5.23h-5.75zM51.87 403.94h5.75v5.23h-5.75zM58.38 403.94h5.75v5.23h-5.75zM64.90 403.94h5.75v5.23h-5.75zM71.41 403.94h5.75v5.23h-5.75zM84.43 403.94h5.75v5.23h-5.75zM90.95 403.94h5.75v5.23h-5.75zM97.46 403.94h5.75v5.23h-5.75zM103.97 403.94h5.75v5.23h-5.75zM136.54 403.94h5.75v5.23h-5.75zM149.56 403.94h5.75v5.23h-5.75zM175.61 403.94h5.75v5.23h-5.75zM188.64 403.94h5.75v5.23h-5.75zM234.23 403.94h5.75v5.23h-5.75zM97.46 409.92h5.75v5.23h-5.75zM234.23 409.92h5.75v5.23h-5.75zM12.79 415.91h5.75v5.23h-5.75zM77.92 415.91h5.75v5.23h-5.75zM103.97 415.91h5.75v5.23h-5.75zM123.51 415.91h5.75v5.23h-5.75zM136.54 415.91h5.75v5.23h-5.75zM143.05 415.91h5.75v5.23h-5.75zM156.07 415.91h5.75v5.23h-5.75zM188.64 415.91h5.75v5.23h-5.75zM195.15 415.91h5.75v5.23h-5.75zM208.18 415.91h5.75v5.23h-5.75zM214.69 415.91h5.75v5.23h-5.75zM227.72 415.91h5.75v5.23h-5.75zM123.51 421.89h5.75v5.23h-5.75zM130.02 421.89h5.75v5.23h-5.75zM143.05 421.89h5.75v5.23h-5.75zM149.56 421.89h5.75v5.23h-5.75zM169.10 421.89h5.75v5.23h-5.75zM182.13 421.89h5.75v5.23h-5.75zM195.15 421.89h5.75v5.23h-5.75zM201.66 421.89h5.75v5.23h-5.75zM227.72 421.89h5.75v5.23h-5.75zM234.23 421.89h5.75v5.23h-5.75zM240.74 421.89h5.75v5.23h-5.75zM6.28 427.88h5.75v5.23h-5.75zM12.79 427.88h5.75v5.23h-5.75zM51.87 427.88h5.75v5.23h-5.75zM130.02 427.88h5.75v5.23h-5.75zM143.05 427.88h5.75v5.23h-5.75zM188.64 427.88h5.75v5.23h-5.75zM201.66 427.88h5.75v5.23h-5.75zM221.20 427.88h5.75v5.23h-5.75zM19.31 433.86h5.75v5.23h-5.75zM25.82 433.86h5.75v5.23h-5.75zM38.84 433.86h5.75v5.23h-5.75zM149.56 433.86h5.75v5.23h-5.75zM156.07 433.86h5.75v5.23h-5.75zM19.31 439.85h5.75v5.23h-5.75zM25.82 439.85h5.75v5.23h-5.75zM38.84 439.85h5.75v5.23h-5.75zM51.87 439.85h5.75v5.23h-5.75zM77.92 439.85h5.75v5.23h-5.75zM84.43 439.85h5.75v5.23h-5.75zM90.95 439.85h5.75v5.23h-5.75zM97.46 439.85h5.75v5.23h-5.75zM110.49 439.85h5.75v5.23h-5.75zM130.02 439.85h5.75v5.23h-5.75zM175.61 439.85h5.75v5.23h-5.75zM182.13 439.85h5.75v5.23h-5.75zM201.66 439.85h5.75v5.23h-5.75zM221.20 439.85h5.75v5.23h-5.75zM6.28 445.83h5.75v5.23h-5.75zM19.31 445.83h5.75v5.23h-5.75zM77.92 445.83h5.75v5.23h-5.75zM110.49 445.83h5.75v5.23h-5.75zM123.51 445.83h5.75v5.23h-5.75zM136.54 445.83h5.75v5.23h-5.75zM143.05 445.83h5.75v5.23h-5.75zM149.56 445.83h5.75v5.23h-5.75zM162.59 445.83h5.75v5.23h-5.75zM169.10 445.83h5.75v5.23h-5.75zM175.61 445.83h5.75v5.23h-5.75zM201.66 445.83h5.75v5.23h-5.75zM214.69 445.83h5.75v5.23h-5.75zM240.74 445.83h5.75v5.23h-5.75zM6.28 451.81h5.75v5.23h-5.75zM12.79 451.81h5.75v5.23h-5.75zM25.82 451.81h5.75v5.23h-5.75zM38.84 451.81h5.75v5.23h-5.75zM45.36 451.81h5.75v5.23h-5.75zM64.90 451.81h5.75v5.23h-5.75zM71.41 451.81h5.75v5.23h-5.75zM77.92 451.81h5.75v5.23h-5.75zM84.43 451.81h5.75v5.23h-5.75zM90.95 451.81h5.75v5.23h-5.75zM110.49 451.81h5.75v5.23h-5.75zM117.00 451.81h5.75v5.23h-5.75zM136.54 451.81h5.75v5.23h-5.75zM143.05 451.81h5.75v5.23h-5.75zM149.56 451.81h5.75v5.23h-5.75zM162.59 451.81h5.75v5.23h-5.75zM169.10 451.81h5.75v5.23h-5.75zM182.13 451.81h5.75v5.23h-5.75zM195.15 451.81h5.75v5.23h-5.75zM201.66 451.81h5.75v5.23h-5.75zM214.69 451.81h5.75v5.23h-5.75zM221.20 451.81h5.75v5.23h-5.75zM227.72 451.81h5.75v5.23h-5.75zM234.23 451.81h5.75v5.23h-5.75zM19.31 457.80h5.75v5.23h-5.75zM32.33 457.80h5.75v5.23h-5.75zM45.36 457.80h5.75v5.23h-5.75zM51.87 457.80h5.75v5.23h-5.75zM77.92 457.80h5.75v5.23h-5.75zM110.49 457.80h5.75v5.23h-5.75zM175.61 457.80h5.75v5.23h-5.75zM182.13 457.80h5.75v5.23h-5.75zM195.15 457.80h5.75v5.23h-5.75zM201.66 457.80h5.75v5.23h-5.75zM214.69 457.80h5.75v5.23h-5.75zM227.72 457.80h5.75v5.23h-5.75zM97.46 463.79h5.75v5.23h-5.75zM103.97 463.79h5.75v5.23h-5.75zM117.00 463.79h5.75v5.23h-5.75zM130.02 463.79h5.75v5.23h-5.75zM169.10 463.79h5.75v5.23h-5.75zM188.64 463.79h5.75v5.23h-5.75zM201.66 463.79h5.75v5.23h-5.75zM12.79 469.77h5.75v5.23h-5.75zM45.36 469.77h5.75v5.23h-5.75zM64.90 469.77h5.75v5.23h-5.75zM77.92 469.77h5.75v5.23h-5.75zM90.95 469.77h5.75v5.23h-5.75zM130.02 469.77h5.75v5.23h-5.75zM136.54 469.77h5.75v5.23h-5.75zM143.05 469.77h5.75v5.23h-5.75zM149.56 469.77h5.75v5.23h-5.75zM162.59 469.77h5.75v5.23h-5.75zM169.10 469.77h5.75v5.23h-5.75zM195.15 469.77h5.75v5.23h-5.75zM221.20 469.77h5.75v5.23h-5.75zM25.82 475.75h5.75v5.23h-5.75zM45.36 475.75h5.75v5.23h-5.75zM71.41 475.75h5.75v5.23h-5.75zM84.43 475.75h5.75v5.23h-5.75zM90.95 475.75h5.75v5.23h-5.75zM97.46 475.75h5.75v5.23h-5.75zM103.97 475.75h5.75v5.23h-5.75zM110.49 475.75h5.75v5.23h-5.75zM123.51 475.75h5.75v5.23h-5.75zM130.02 475.75h5.75v5.23h-5.75zM136.54 475.75h5.75v5.23h-5.75zM162.59 475.75h5.75v5.23h-5.75zM169.10 475.75h5.75v5.23h-5.75zM175.61 475.75h5.75v5.23h-5.75zM182.13 475.75h5.75v5.23h-5.75zM188.64 475.75h5.75v5.23h-5.75zM201.66 475.75h5.75v5.23h-5.75zM214.69 475.75h5.75v5.23h-5.75zM221.20 475.75h5.75v5.23h-5.75zM12.79 481.74h5.75v5.23h-5.75zM64.90 481.74h5.75v5.23h-5.75zM117.00 481.74h5.75v5.23h-5.75zM123.51 481.74h5.75v5.23h-5.75zM130.02 481.74h5.75v5.23h-5.75zM136.54 481.74h5.75v5.23h-5.75zM149.56 481.74h5.75v5.23h-5.75zM188.64 481.74h5.75v5.23h-5.75zM195.15 481.74h5.75v5.23h-5.75zM214.69 481.74h5.75v5.23h-5.75zM227.72 481.74h5.75v5.23h-5.75zM38.84 487.73h5.75v5.23h-5.75zM6.28 499.69h5.75v5.23h-5.75zM12.79 499.69h5.75v5.23h-5.75zM38.84 499.69h5.75v5.23h-5.75zM45.36 499.69h5.75v5.23h-5.75zM71.41 499.69h5.75v5.23h-5.75zM77.92 499.69h5.75v5.23h-5.75zM90.95 499.69h5.75v5.23h-5.75zM117.00 499.69h5.75v5.23h-5.75zM130.02 499.69h5.75v5.23h-5.75zM136.54 499.69h5.75v5.23h-5.75zM143.05 499.69h5.75v5.23h-5.75zM149.56 499.69h5.75v5.23h-5.75zM162.59 499.69h5.75v5.23h-5.75zM195.15 499.69h5.75v5.23h-5.75zM208.18 499.69h5.75v5.23h-5.75zM214.69 499.69h5.75v5.23h-5.75zM227.72 499.69h5.75v5.23h-5.75zM19.31 505.68h5.75v5.23h-5.75zM38.84 505.68h5.75v5.23h-5.75zM58.38 505.68h5.75v5.23h-5.75zM77.92 505.68h5.75v5.23h-5.75zM84.43 505.68h5.75v5.23h-5.75zM97.46 505.68h5.75v5.23h-5.75zM110.49 505.68h5.75v5.23h-5.75zM117.00 505.68h5.75v5.23h-5.75zM130.02 505.68h5.75v5.23h-5.75zM143.05 505.68h5.75v5.23h-5.75zM156.07 505.68h5.75v5.23h-5.75zM162.59 505.68h5.75v5.23h-5.75zM175.61 505.68h5.75v5.23h-5.75zM182.13 505.68h5.75v5.23h-5.75zM208.18 505.68h5.75v5.23h-5.75zM221.20 505.68h5.75v5.23h-5.75zM234.23 505.68h5.75v5.23h-5.75zM51.87 511.67h5.75v5.23h-5.75zM58.38 511.67h5.75v5.23h-5.75zM97.46 511.67h5.75v5.23h-5.75zM110.49 511.67h5.75v5.23h-5.75zM123.51 511.67h5.75v5.23h-5.75zM136.54 511.67h5.75v5.23h-5.75zM149.56 511.67h5.75v5.23h-5.75zM188.64 511.67h5.75v5.23h-5.75zM227.72 511.67h5.75v5.23h-5.75zM6.28 517.65h5.75v5.23h-5.75zM12.79 517.65h5.75v5.23h-5.75zM25.82 517.65h5.75v5.23h-5.75zM38.84 517.65h5.75v5.23h-5.75zM45.36 517.65h5.75v5.23h-5.75zM64.90 517.65h5.75v5.23h-5.75zM77.92 517.65h5.75v5.23h-5.75zM103.97 517.65h5.75v5.23h-5.75zM117.00 517.65h5.75v5.23h-5.75zM123.51 517.65h5.75v5.23h-5.75zM130.02 517.65h5.75v5.23h-5.75zM156.07 517.65h5.75v5.23h-5.75zM162.59 517.65h5.75v5.23h-5.75zM169.10 517.65h5.75v5.23h-5.75zM175.61 517.65h5.75v5.23h-5.75zM182.13 517.65h5.75v5.23h-5.75zM188.64 517.65h5.75v5.23h-5.75zM195.15 517.65h5.75v5.23h-5.75zM201.66 517.65h5.75v5.23h-5.75zM214.69 517.65h5.75v5.23h-5.75zM221.20 517.65h5.75v5.23h-5.75zM227.72 517.65h5.75v5.23h-5.75zM19.31 523.64h5.75v5.23h-5.75zM234.23 523.64h5.75v5.23h-5.75zM77.92 529.62h5.75v5.23h-5.75zM103.97 529.62h5.75v5.23h-5.75zM130.02 529.62h5.75v5.23h-5.75zM149.56 529.62h5.75v5.23h-5.75zM188.64 529.62h5.75v5.23h-5.75zM208.18 529.62h5.75v5.23h-5.75zM227.72 529.62h5.75v5.23h-5.75zM240.74 529.62h5.75v5.23h-5.75zM6.28 535.61h5.75v5.23h-5.75zM12.79 535.61h5.75v5.23h-5.75zM45.36 535.61h5.75v5.23h-5.75zM58.38 535.61h5.75v5.23h-5.75zM71.41 535.61h5.75v5.23h-5.75zM84.43 535.61h5.75v5.23h-5.75zM130.02 535.61h5.75v5.23h-5.75zM143.05 535.61h5.75v5.23h-5.75zM149.56 535.61h5.75v5.23h-5.75zM156.07 535.61h5.75v5.23h-5.75zM162.59 535.61h5.75v5.23h-5.75zM175.61 535.61h5.75v5.23h-5.75zM188.64 535.61h5.75v5.23h-5.75zM195.15 535.61h5.75v5.23h-5.75zM6.28 541.59h5.75v5.23h-5.75zM45.36 541.59h5.75v5.23h-5.75zM77.92 541.59h5.75v5.23h-5.75zM90.95 541.59h5.75v5.23h-5.75zM123.51 541.59h5.75v5.23h-5.75zM130.02 541.59h5.75v5.23h-5.75zM149.56 541.59h5.75v5.23h-5.75zM162.59 541.59h5.75v5.23h-5.75zM201.66 541.59h5.75v5.23h-5.75zM19.31 547.58h5.75v5.23h-5.75zM25.82 547.58h5.75v5.23h-5.75zM38.84 547.58h5.75v5.23h-5.75zM45.36 547.58h5.75v5.23h-5.75zM51.87 547.58h5.75v5.23h-5.75zM58.38 547.58h5.75v5.23h-5.75zM64.90 547.58h5.75v5.23h-5.75zM71.41 547.58h5.75v5.23h-5.75zM77.92 547.58h5.75v5.23h-5.75zM84.43 547.58h5.75v5.23h-5.75zM90.95 547.58h5.75v5.23h-5.75zM103.97 547.58h5.75v5.23h-5.75zM110.49 547.58h5.75v5.23h-5.75zM117.00 547.58h5.75v5.23h-5.75zM123.51 547.58h5.75v5.23h-5.75zM130.02 547.58h5.75v5.23h-5.75zM136.54 547.58h5.75v5.23h-5.75zM175.61 547.58h5.75v5.23h-5.75zM182.13 547.58h5.75v5.23h-5.75zM195.15 547.58h5.75v5.23h-5.75zM214.69 547.58h5.75v5.23h-5.75zM227.72 547.58h5.75v5.23h-5.75zM234.23 547.58h5.75v5.23h-5.75zM12.79 553.56h5.75v5.23h-5.75zM45.36 553.56h5.75v5.23h-5.75zM51.87 553.56h5.75v5.23h-5.75zM64.90 553.56h5.75v5.23h-5.75zM84.43 553.56h5.75v5.23h-5.75zM103.97 553.56h5.75v5.23h-5.75zM136.54 553.56h5.75v5.23h-5.75zM149.56 553.56h5.75v5.23h-5.75zM175.61 553.56h5.75v5.23h-5.75zM195.15 553.56h5.75v5.23h-5.75zM227.72 553.56h5.75v5.23h-5.75zM12.79 559.55h5.75v5.23h-5.75zM38.84 559.55h5.75v5.23h-5.75zM71.41 559.55h5.75v5.23h-5.75zM90.95 559.55h5.75v5.23h-5.75zM97.46 559.55h5.75v5.23h-5.75zM130.02 559.55h5.75v5.23h-5.75zM149.56 559.55h5.75v5.23h-5.75zM156.07 559.55h5.75v5.23h-5.75zM188.64 559.55h5.75v5.23h-5.75zM214.69 559.55h5.75v5.23h-5.75zM234.23 559.55h5.75v5.23h-5.75zM247.25 559.55h5.75v5.23h-5.75zM25.82 565.53h5.75v5.23h-5.75zM58.38 565.53h5.75v5.23h-5.75zM84.43 565.53h5.75v5.23h-5.75zM103.97 565.53h5.75v5.23h-5.75zM123.51 565.53h5.75v5.23h-5.75zM162.59 565.53h5.75v5.23h-5.75zM169.10 565.53h5.75v5.23h-5.75zM195.15 565.53h5.75v5.23h-5.75zM201.66 565.53h5.75v5.23h-5.75zM221.20 565.53h5.75v5.23h-5.75zM227.72 565.53h5.75v5.23h-5.75zM240.74 565.53h5.75v5.23h-5.75zM25.82 571.51h5.75v5.23h-5.75zM71.41 571.51h5.75v5.23h-5.75zM90.95 571.51h5.75v5.23h-5.75zM149.56 571.51h5.75v5.23h-5.75zM175.61 571.51h5.75v5.23h-5.75zM240.74 571.51h5.75v5.23h-5.75zM51.87 577.50h5.75v5.23h-5.75zM64.90 577.50h5.75v5.23h-5.75zM90.95 577.50h5.75v5.23h-5.75zM97.46 577.50h5.75v5.23h-5.75zM143.05 577.50h5.75v5.23h-5.75zM162.59 577.50h5.75v5.23h-5.75zM169.10 577.50h5.75v5.23h-5.75zM175.61 577.50h5.75v5.23h-5.75zM188.64 577.50h5.75v5.23h-5.75zM208.18 577.50h5.75v5.23h-5.75zM221.20 577.50h5.75v5.23h-5.75zM227.72 577.50h5.75v5.23h-5.75zM240.74 577.50h5.75v5.23h-5.75zM25.82 583.49h5.75v5.23h-5.75zM84.43 583.49h5.75v5.23h-5.75zM123.51 583.49h5.75v5.23h-5.75zM130.02 583.49h5.75v5.23h-5.75zM156.07 583.49h5.75v5.23h-5.75zM169.10 583.49h5.75v5.23h-5.75zM175.61 583.49h5.75v5.23h-5.75zM201.66 583.49h5.75v5.23h-5.75zM227.72 583.49h5.75v5.23h-5.75zM253.77 583.49h5.75v5.23h-5.75zM6.28 589.47h5.75v5.23h-5.75zM38.84 589.47h5.75v5.23h-5.75zM58.38 589.47h5.75v5.23h-5.75zM84.43 589.47h5.75v5.23h-5.75zM103.97 589.47h5.75v5.23h-5.75zM123.51 589.47h5.75v5.23h-5.75zM149.56 589.47h5.75v5.23h-5.75zM169.10 589.47h5.75v5.23h-5.75zM175.61 589.47h5.75v5.23h-5.75zM182.13 589.47h5.75v5.23h-5.75zM188.64 589.47h5.75v5.23h-5.75zM195.15 589.47h5.75v5.23h-5.75zM214.69 589.47h5.75v5.23h-5.75zM234.23 589.47h5.75v5.23h-5.75zM240.74 589.47h5.75v5.23h-5.75zM64.90 595.46h5.75v5.23h-5.75zM71.41 595.46h5.75v5.23h-5.75zM97.46 595.46h5.75v5.23h-5.75zM117.00 595.46h5.75v5.23h-5.75zM149.56 595.46h5.75v5.23h-5.75zM156.07 595.46h5.75v5.23h-5.75zM195.15 595.46h5.75v5.23h-5.75zM234.23 595.46h5.75v5.23h-5.75zM45.36 601.44h5.75v5.23h-5.75zM64.90 601.44h5.75v5.23h-5.75zM123.51 601.44h5.75v5.23h-5.75zM136.54 601.44h5.75v5.23h-5.75zM156.07 601.44h5.75v5.23h-5.75zM201.66 601.44h5.75v5.23h-5.75zM214.69 601.44h5.75v5.23h-5.75zM51.87 607.43h5.75v5.23h-5.75zM84.43 607.43h5.75v5.23h-5.75zM110.49 607.43h5.75v5.23h-5.75zM117.00 607.43h5.75v5.23h-5.75zM182.13 607.43h5.75v5.23h-5.75zM201.66 607.43h5.75v5.23h-5.75zM208.18 607.43h5.75v5.23h-5.75zM214.69 607.43h5.75v5.23h-5.75zM221.20 607.43h5.75v5.23h-5.75zM247.25 607.43h5.75v5.23h-5.75zM6.28 613.41h5.75v5.23h-5.75zM19.31 613.41h5.75v5.23h-5.75zM51.87 613.41h5.75v5.23h-5.75zM71.41 613.41h5.75v5.23h-5.75zM247.25 613.41h5.75v5.23h-5.75zM71.41 619.39h5.75v5.23h-5.75zM90.95 619.39h5.75v5.23h-5.75zM123.51 619.39h5.75v5.23h-5.75zM130.02 619.39h5.75v5.23h-5.75zM136.54 619.39h5.75v5.23h-5.75zM149.56 619.39h5.75v5.23h-5.75zM156.07 619.39h5.75v5.23h-5.75zM169.10 619.39h5.75v5.23h-5.75zM175.61 619.39h5.75v5.23h-5.75zM188.64 619.39h5.75v5.23h-5.75zM195.15 619.39h5.75v5.23h-5.75zM201.66 619.39h5.75v5.23h-5.75zM208.18 619.39h5.75v5.23h-5.75zM221.20 619.39h5.75v5.23h-5.75zM253.77 619.39h5.75v5.23h-5.75z"/>
<path fill="#f06e74" d="M58.38 26.88h5.75v5.23h-5.75zM208.18 26.88h5.75v5.23h-5.75zM45.36 32.87h5.75v5.23h-5.75zM51.87 32.87h5.75v5.23h-5.75zM84.43 32.87h5.75v5.23h-5.75zM123.51 32.87h5.75v5.23h-5.75zM130.02 32.87h5.75v5.23h-5.75zM136.54 32.87h5.75v5.23h-5.75zM149.56 32.87h5.75v5.23h-5.75zM156.07 32.87h5.75v5.23h-5.75zM169.10 32.87h5.75v5.23h-5.75zM182.13 32.87h5.75v5.23h-5.75zM195.15 32.87h5.75v5.23h-5.75zM90.95 38.85h5.75v5.23h-5.75zM117.00 38.85h5.75v5.23h-5.75zM221.20 38.85h5.75v5.23h-5.75zM227.72 38.85h5.75v5.23h-5.75zM12.79 44.84h5.75v5.23h-5.75zM38.84 44.84h5.75v5.23h-5.75zM71.41 44.84h5.75v5.23h-5.75zM77.92 44.84h5.75v5.23h-5.75zM103.97 44.84h5.75v5.23h-5.75zM143.05 44.84h5.75v5.23h-5.75zM51.87 50.82h5.75v5.23h-5.75zM90.95 50.82h5.75v5.23h-5.75zM110.49 50.82h5.75v5.23h-5.75zM123.51 50.82h5.75v5.23h-5.75zM136.54 50.82h5.75v5.23h-5.75zM156.07 50.82h5.75v5.23h-5.75zM77.92 56.80h5.75v5.23h-5.75zM84.43 56.80h5.75v5.23h-5.75zM123.51 56.80h5.75v5.23h-5.75zM130.02 56.80h5.75v5.23h-5.75zM136.54 56.80h5.75v5.23h-5.75zM182.13 56.80h5.75v5.23h-5.75zM227.72 56.80h5.75v5.23h-5.75zM12.79 62.79h5.75v5.23h-5.75zM64.90 62.79h5.75v5.23h-5.75zM84.43 62.79h5.75v5.23h-5.75zM117.00 62.79h5.75v5.23h-5.75zM123.51 62.79h5.75v5.23h-5.75zM130.02 62.79h5.75v5.23h-5.75zM143.05 62.79h5.75v5.23h-5.75zM227.72 62.79h5.75v5.23h-5.75zM12.79 68.78h5.75v5.23h-5.75zM19.31 68.78h5.75v5.23h-5.75zM32.33 68.78h5.75v5.23h-5.75zM45.36 68.78h5.75v5.23h-5.75zM71.41 68.78h5.75v5.23h-5.75zM77.92 68.78h5.75v5.23h-5.75zM84.43 68.78h5.75v5.23h-5.75zM103.97 68.78h5.75v5.23h-5.75zM208.18 68.78h5.75v5.23h-5.75zM12.79 74.76h5.75v5.23h-5.75zM51.87 74.76h5.75v5.23h-5.75zM64.90 74.76h5.75v5.23h-5.75zM77.92 74.76h5.75v5.23h-5.75zM130.02 74.76h5.75v5.23h-5.75zM136.54 74.76h5.75v5.23h-5.75zM143.05 74.76h5.75v5.23h-5.75zM162.59 74.76h5.75v5.23h-5.75zM123.51 80.75h5.75v5.23h-5.75zM130.02 80.75h5.75v5.23h-5.75zM136.54 80.75h5.75v5.23h-5.75zM162.59 80.75h5.75v5.23h-5.75zM227.72 80.75h5.75v5.23h-5.75zM12.79 86.73h5.75v5.23h-5.75zM84.43 86.73h5.75v5.23h-5.75zM162.59 86.73h5.75v5.23h-5.75zM214.69 86.73h5.75v5.23h-5.75zM221.20 86.73h5.75v5.23h-5.75zM227.72 86.73h5.75v5.23h-5.75zM71.41 92.72h5.75v5.23h-5.75zM77.92 92.72h5.75v5.23h-5.75zM84.43 92.72h5.75v5.23h-5.75zM90.95 92.72h5.75v5.23h-5.75zM130.02 92.72h5.75v5.23h-5.75zM143.05 92.72h5.75v5.23h-5.75zM156.07 92.72h5.75v5.23h-5.75zM162.59 92.72h5.75v5.23h-5.75zM175.61 92.72h5.75v5.23h-5.75zM214.69 92.72h5.75v5.23h-5.75zM38.84 98.70h5.75v5.23h-5.75zM51.87 98.70h5.75v5.23h-5.75zM71.41 98.70h5.75v5.23h-5.75zM90.95 98.70h5.75v5.23h-5.75zM117.00 98.70h5.75v5.23h-5.75zM136.54 98.70h5.75v5.23h-5.75zM214.69 98.70h5.75v5.23h-5.75zM227.72 98.70h5.75v5.23h-5.75zM45.36 104.69h5.75v5.23h-5.75zM64.90 104.69h5.75v5.23h-5.75zM90.95 104.69h5.75v5.23h-5.75zM103.97 104.69h5.75v5.23h-5.75zM130.02 104.69h5.75v5.23h-5.75zM182.13 104.69h5.75v5.23h-5.75zM19.31 110.67h5.75v5.23h-5.75zM38.84 110.67h5.75v5.23h-5.75zM58.38 110.67h5.75v5.23h-5.75zM97.46 110.67h5.75v5.23h-5.75zM123.51 110.67h5.75v5.23h-5.75zM136.54 110.67h5.75v5.23h-5.75zM182.13 110.67h5.75v5.23h-5.75zM38.84 116.66h5.75v5.23h-5.75zM130.02 116.66h5.75v5.23h-5.75zM136.54 116.66h5.75v5.23h-5.75zM156.07 116.66h5.75v5.23h-5.75zM175.61 116.66h5.75v5.23h-5.75zM103.97 122.64h5.75v5.23h-5.75zM156.07 122.64h5.75v5.23h-5.75zM188.64 122.64h5.75v5.23h-5.75zM201.66 122.64h5.75v5.23h-5.75zM234.23 122.64h5.75v5.23h-5.75zM6.28 128.62h5.75v5.23h-5.75zM32.33 128.62h5.75v5.23h-5.75zM38.84 128.62h5.75v5.23h-5.75zM103.97 128.62h5.75v5.23h-5.75zM156.07 128.62h5.75v5.23h-5.75zM214.69 128.62h5.75v5.23h-5.75zM227.72 128.62h5.75v5.23h-5.75zM38.84 134.61h5.75v5.23h-5.75zM136.54 134.61h5.75v5.23h-5.75zM149.56 134.61h5.75v5.23h-5.75zM169.10 134.61h5.75v5.23h-5.75zM182.13 134.61h5.75v5.23h-5.75zM188.64 134.61h5.75v5.23h-5.75zM195.15 134.61h5.75v5.23h-5.75zM45.36 140.59h5.75v5.23h-5.75zM51.87 140.59h5.75v5.23h-5.75zM90.95 140.59h5.75v5.23h-5.75zM103.97 140.59h5.75v5.23h-5.75zM130.02 140.59h5.75v5.23h-5.75zM182.13 140.59h5.75v5.23h-5.75zM227.72 140.59h5.75v5.23h-5.75zM51.87 146.58h5.75v5.23h-5.75zM90.95 146.58h5.75v5.23h-5.75zM130.02 146.58h5.75v5.23h-5.75zM227.72 146.58h5.75v5.23h-5.75zM77.92 152.56h5.75v5.23h-5.75zM117.00 152.56h5.75v5.23h-5.75zM123.51 152.56h5.75v5.23h-5.75zM130.02 152.56h5.75v5.23h-5.75zM136.54 152.56h5.75v5.23h-5.75zM149.56 152.56h5.75v5.23h-5.75zM156.07 152.56h5.75v5.23h-5.75zM169.10 152.56h5.75v5.23h-5.75zM214.69 152.56h5.75v5.23h-5.75zM234.23 152.56h5.75v5.23h-5.75zM6.28 158.55h5.75v5.23h-5.75zM51.87 158.55h5.75v5.23h-5.75zM58.38 158.55h5.75v5.23h-5.75zM77.92 158.55h5.75v5.23h-5.75zM84.43 158.55h5.75v5.23h-5.75zM90.95 158.55h5.75v5.23h-5.75zM130.02 158.55h5.75v5.23h-5.75zM143.05 158.55h5.75v5.23h-5.75zM6.28 164.53h5.75v5.23h-5.75zM45.36 164.53h5.75v5.23h-5.75zM103.97 164.53h5.75v5.23h-5.75zM123.51 164.53h5.75v5.23h-5.75zM136.54 164.53h5.75v5.23h-5.75zM149.56 164.53h5.75v5.23h-5.75zM214.69 164.53h5.75v5.23h-5.75zM227.72 164.53h5.75v5.23h-5.75zM6.28 170.52h5.75v5.23h-5.75zM45.36 170.52h5.75v5.23h-5.75zM97.46 170.52h5.75v5.23h-5.75zM156.07 170.52h5.75v5.23h-5.75zM195.15 170.52h5.75v5.23h-5.75zM38.84 176.50h5.75v5.23h-5.75zM71.41 176.50h5.75v5.23h-5.75zM84.43 176.50h5.75v5.23h-5.75zM136.54 176.50h5.75v5.23h-5.75zM12.79 182.49h5.75v5.23h-5.75zM38.84 182.49h5.75v5.23h-5.75zM90.95 182.49h5.75v5.23h-5.75zM123.51 182.49h5.75v5.23h-5.75zM143.05 182.49h5.75v5.23h-5.75zM162.59 182.49h5.75v5.23h-5.75zM214.69 182.49h5.75v5.23h-5.75zM19.31 188.47h5.75v5.23h-5.75zM32.33 188.47h5.75v5.23h-5.75zM38.84 188.47h5.75v5.23h-5.75zM58.38 188.47h5.75v5.23h-5.75zM195.15 188.47h5.75v5.23h-5.75zM71.41 194.46h5.75v5.23h-5.75zM110.49 194.46h5.75v5.23h-5.75zM214.69 194.46h5.75v5.23h-5.75zM221.20 194.46h5.75v5.23h-5.75zM253.77 194.46h5.75v5.23h-5.75zM45.36 200.44h5.75v5.23h-5.75zM130.02 200.44h5.75v5.23h-5.75zM143.05 200.44h5.75v5.23h-5.75zM182.13 200.44h5.75v5.23h-5.75zM247.25 200.44h5.75v5.23h-5.75zM19.31 206.43h5.75v5.23h-5.75zM45.36 206.43h5.75v5.23h-5.75zM77.92 206.43h5.75v5.23h-5.75zM90.95 206.43h5.75v5.23h-5.75zM136.54 206.43h5.75v5.23h-5.75zM143.05 206.43h5.75v5.23h-5.75zM156.07 206.43h5.75v5.23h-5.75zM175.61 206.43h5.75v5.23h-5.75zM182.13 206.43h5.75v5.23h-5.75zM214.69 206.43h5.75v5.23h-5.75zM253.77 206.43h5.75v5.23h-5.75zM45.36 212.41h5.75v5.23h-5.75zM103.97 212.41h5.75v5.23h-5.75zM136.54 212.41h5.75v5.23h-5.75zM156.07 212.41h5.75v5.23h-5.75zM188.64 212.41h5.75v5.23h-5.75zM227.72 212.41h5.75v5.23h-5.75zM234.23 212.41h5.75v5.23h-5.75zM6.28 218.40h5.75v5.23h-5.75zM64.90 218.40h5.75v5.23h-5.75zM71.41 218.40h5.75v5.23h-5.75zM123.51 218.40h5.75v5.23h-5.75zM162.59 218.40h5.75v5.23h-5.75zM169.10 218.40h5.75v5.23h-5.75zM182.13 218.40h5.75v5.23h-5.75zM188.64 218.40h5.75v5.23h-5.75zM221.20 218.40h5.75v5.23h-5.75zM227.72 218.40h5.75v5.23h-5.75zM6.28 224.39h5.75v5.23h-5.75zM110.49 224.39h5.75v5.23h-5.75zM123.51 224.39h5.75v5.23h-5.75zM182.13 224.39h5.75v5.23h-5.75zM227.72 224.39h5.75v5.23h-5.75zM234.23 224.39h5.75v5.23h-5.75zM19.31 230.37h5.75v5.23h-5.75zM38.84 230.37h5.75v5.23h-5.75zM45.36 230.37h5.75v5.23h-5.75zM208.18 230.37h5.75v5.23h-5.75zM214.69 230.37h5.75v5.23h-5.75zM227.72 230.37h5.75v5.23h-5.75zM90.95 236.36h5.75v5.23h-5.75zM136.54 236.36h5.75v5.23h-5.75zM143.05 236.36h5.75v5.23h-5.75zM51.87 242.34h5.75v5.23h-5.75zM84.43 242.34h5.75v5.23h-5.75zM123.51 242.34h5.75v5.23h-5.75zM136.54 242.34h5.75v5.23h-5.75zM162.59 242.34h5.75v5.23h-5.75zM221.20 242.34h5.75v5.23h-5.75zM240.74 242.34h5.75v5.23h-5.75zM6.28 248.33h5.75v5.23h-5.75zM12.79 248.33h5.75v5.23h-5.75zM64.90 248.33h5.75v5.23h-5.75zM71.41 248.33h5.75v5.23h-5.75zM84.43 248.33h5.75v5.23h-5.75zM90.95 248.33h5.75v5.23h-5.75zM117.00 248.33h5.75v5.23h-5.75zM182.13 248.33h5.75v5.23h-5.75zM227.72 248.33h5.75v5.23h-5.75zM6.28 254.31h5.75v5.23h-5.75zM19.31 254.31h5.75v5.23h-5.75zM90.95 254.31h5.75v5.23h-5.75zM123.51 254.31h5.75v5.23h-5.75zM149.56 254.31h5.75v5.23h-5.75zM156.07 254.31h5.75v5.23h-5.75zM201.66 254.31h5.75v5.23h-5.75zM227.72 254.31h5.75v5.23h-5.75zM84.43 260.30h5.75v5.23h-5.75zM90.95 260.30h5.75v5.23h-5.75zM123.51 260.30h5.75v5.23h-5.75zM156.07 260.30h5.75v5.23h-5.75zM182.13 260.30h5.75v5.23h-5.75zM214.69 260.30h5.75v5.23h-5.75zM227.72 260.30h5.75v5.23h-5.75zM234.23 260.30h5.75v5.23h-5.75zM221.20 266.28h5.75v5.23h-5.75zM71.41 272.26h5.75v5.23h-5.75zM90.95 272.26h5.75v5.23h-5.75zM117.00 272.26h5.75v5.23h-5.75zM175.61 272.26h5.75v5.23h-5.75zM51.87 278.25h5.75v5.23h-5.75zM58.38 278.25h5.75v5.23h-5.75zM64.90 278.25h5.75v5.23h-5.75zM90.95 278.25h5.75v5.23h-5.75zM175.61 278.25h5.75v5.23h-5.75zM6.28 284.24h5.75v5.23h-5.75zM19.31 284.24h5.75v5.23h-5.75zM25.82 284.24h5.75v5.23h-5.75zM32.33 284.24h5.75v5.23h-5.75zM51.87 284.24h5.75v5.23h-5.75zM64.90 284.24h5.75v5.23h-5.75zM90.95 284.24h5.75v5.23h-5.75zM103.97 284.24h5.75v5.23h-5.75zM130.02 284.24h5.75v5.23h-5.75zM214.69 284.24h5.75v5.23h-5.75zM221.20 284.24h5.75v5.23h-5.75zM240.74 284.24h5.75v5.23h-5.75zM6.28 290.22h5.75v5.23h-5.75zM12.79 290.22h5.75v5.23h-5.75zM25.82 290.22h5.75v5.23h-5.75zM45.36 290.22h5.75v5.23h-5.75zM51.87 290.22h5.75v5.23h-5.75zM64.90 290.22h5.75v5.23h-5.75zM136.54 290.22h5.75v5.23h-5.75zM234.23 290.22h5.75v5.23h-5.75zM71.41 296.20h5.75v5.23h-5.75zM84.43 296.20h5.75v5.23h-5.75zM90.95 296.20h5.75v5.23h-5.75zM117.00 296.20h5.75v5.23h-5.75zM123.51 296.20h5.75v5.23h-5.75zM130.02 296.20h5.75v5.23h-5.75zM136.54 296.20h5.75v5.23h-5.75zM175.61 296.20h5.75v5.23h-5.75zM182.13 296.20h5.75v5.23h-5.75zM188.64 296.20h5.75v5.23h-5.75zM90.95 302.19h5.75v5.23h-5.75zM97.46 302.19h5.75v5.23h-5.75zM6.28 308.18h5.75v5.23h-5.75zM12.79 308.18h5.75v5.23h-5.75zM71.41 308.18h5.75v5.23h-5.75zM84.43 308.18h5.75v5.23h-5.75zM90.95 308.18h5.75v5.23h-5.75zM117.00 308.18h5.75v5.23h-5.75zM123.51 308.18h5.75v5.23h-5.75zM130.02 308.18h5.75v5.23h-5.75zM136.54 308.18h5.75v5.23h-5.75zM188.64 308.18h5.75v5.23h-5.75zM221.20 308.18h5.75v5.23h-5.75zM45.36 314.16h5.75v5.23h-5.75zM51.87 314.16h5.75v5.23h-5.75zM64.90 314.16h5.75v5.23h-5.75zM90.95 314.16h5.75v5.23h-5.75zM117.00 314.16h5.75v5.23h-5.75zM182.13 314.16h5.75v5.23h-5.75zM253.77 314.16h5.75v5.23h-5.75zM19.31 320.15h5.75v5.23h-5.75zM64.90 320.15h5.75v5.23h-5.75zM90.95 320.15h5.75v5.23h-5.75zM117.00 320.15h5.75v5.23h-5.75zM123.51 320.15h5.75v5.23h-5.75zM208.18 320.15h5.75v5.23h-5.75zM149.56 344.09h5.75v5.23h-5.75zM208.18 344.09h5.75v5.23h-5.75zM214.69 344.09h5.75v5.23h-5.75zM227.72 344.09h5.75v5.23h-5.75zM103.97 350.07h5.75v5.23h-5.75zM38.84 356.06h5.75v5.23h-5.75zM77.92 356.06h5.75v5.23h-5.75zM103.97 356.06h5.75v5.23h-5.75zM110.49 356.06h5.75v5.23h-5.75zM149.56 356.06h5.75v5.23h-5.75zM6.28 362.04h5.75v5.23h-5.75zM214.69 362.04h5.75v5.23h-5.75zM253.77 362.04h5.75v5.23h-5.75zM6.28 368.03h5.75v5.23h-5.75zM38.84 368.03h5.75v5.23h-5.75zM123.51 368.03h5.75v5.23h-5.75zM143.05 368.03h5.75v5.23h-5.75zM188.64 368.03h5.75v5.23h-5.75zM240.74 374.01h5.75v5.23h-5.75zM45.36 380.00h5.75v5.23h-5.75zM208.18 380.00h5.75v5.23h-5.75zM247.25 380.00h5.75v5.23h-5.75zM143.05 385.98h5.75v5.23h-5.75zM214.69 385.98h5.75v5.23h-5.75zM234.23 385.98h5.75v5.23h-5.75zM25.82 391.97h5.75v5.23h-5.75zM253.77 391.97h5.75v5.23h-5.75zM38.84 397.95h5.75v5.23h-5.75zM188.64 397.95h5.75v5.23h-5.75zM234.23 397.95h5.75v5.23h-5.75zM12.79 403.94h5.75v5.23h-5.75zM45.36 403.94h5.75v5.23h-5.75zM123.51 403.94h5.75v5.23h-5.75zM201.66 403.94h5.75v5.23h-5.75zM208.18 403.94h5.75v5.23h-5.75zM247.25 403.94h5.75v5.23h-5.75zM25.82 415.91h5.75v5.23h-5.75zM32.33 415.91h5.75v5.23h-5.75zM45.36 415.91h5.75v5.23h-5.75zM25.82 427.88h5.75v5.23h-5.75zM84.43 427.88h5.75v5.23h-5.75zM90.95 427.88h5.75v5.23h-5.75zM123.51 427.88h5.75v5.23h-5.75zM240.74 427.88h5.75v5.23h-5.75zM240.74 433.86h5.75v5.23h-5.75zM247.25 433.86h5.75v5.23h-5.75zM253.77 433.86h5.75v5.23h-5.75zM6.28 439.85h5.75v5.23h-5.75zM64.90 439.85h5.75v5.23h-5.75zM123.51 439.85h5.75v5.23h-5.75zM136.54 439.85h5.75v5.23h-5.75zM143.05 439.85h5.75v5.23h-5.75zM188.64 439.85h5.75v5.23h-5.75zM208.18 439.85h5.75v5.23h-5.75zM156.07 445.83h5.75v5.23h-5.75zM188.64 445.83h5.75v5.23h-5.75zM175.61 451.81h5.75v5.23h-5.75zM188.64 451.81h5.75v5.23h-5.75zM6.28 457.80h5.75v5.23h-5.75zM25.82 457.80h5.75v5.23h-5.75zM64.90 457.80h5.75v5.23h-5.75zM123.51 457.80h5.75v5.23h-5.75zM136.54 457.80h5.75v5.23h-5.75zM240.74 457.80h5.75v5.23h-5.75zM19.31 463.79h5.75v5.23h-5.75zM45.36 463.79h5.75v5.23h-5.75zM64.90 463.79h5.75v5.23h-5.75zM123.51 463.79h5.75v5.23h-5.75zM136.54 463.79h5.75v5.23h-5.75zM149.56 463.79h5.75v5.23h-5.75zM234.23 463.79h5.75v5.23h-5.75zM240.74 463.79h5.75v5.23h-5.75zM253.77 463.79h5.75v5.23h-5.75zM58.38 469.77h5.75v5.23h-5.75zM84.43 469.77h5.75v5.23h-5.75zM103.97 469.77h5.75v5.23h-5.75zM117.00 469.77h5.75v5.23h-5.75zM123.51 469.77h5.75v5.23h-5.75zM182.13 469.77h5.75v5.23h-5.75zM188.64 469.77h5.75v5.23h-5.75zM201.66 469.77h5.75v5.23h-5.75zM234.23 469.77h5.75v5.23h-5.75zM240.74 469.77h5.75v5.23h-5.75zM143.05 475.75h5.75v5.23h-5.75zM149.56 475.75h5.75v5.23h-5.75zM195.15 475.75h5.75v5.23h-5.75zM240.74 475.75h5.75v5.23h-5.75zM77.92 481.74h5.75v5.23h-5.75zM201.66 481.74h5.75v5.23h-5.75zM221.20 481.74h5.75v5.23h-5.75zM240.74 481.74h5.75v5.23h-5.75zM6.28 487.73h5.75v5.23h-5.75zM103.97 487.73h5.75v5.23h-5.75zM149.56 487.73h5.75v5.23h-5.75zM188.64 487.73h5.75v5.23h-5.75zM240.74 487.73h5.75v5.23h-5.75zM253.77 487.73h5.75v5.23h-5.75zM25.82 493.71h5.75v5.23h-5.75zM208.18 493.71h5.75v5.23h-5.75zM240.74 493.71h5.75v5.23h-5.75zM247.25 493.71h5.75v5.23h-5.75zM64.90 499.69h5.75v5.23h-5.75zM123.51 499.69h5.75v5.23h-5.75zM175.61 499.69h5.75v5.23h-5.75zM188.64 499.69h5.75v5.23h-5.75zM234.23 499.69h5.75v5.23h-5.75zM240.74 499.69h5.75v5.23h-5.75zM6.28 505.68h5.75v5.23h-5.75zM32.33 505.68h5.75v5.23h-5.75zM64.90 505.68h5.75v5.23h-5.75zM123.51 505.68h5.75v5.23h-5.75zM136.54 505.68h5.75v5.23h-5.75zM188.64 505.68h5.75v5.23h-5.75zM227.72 505.68h5.75v5.23h-5.75zM240.74 505.68h5.75v5.23h-5.75zM6.28 511.67h5.75v5.23h-5.75zM19.31 511.67h5.75v5.23h-5.75zM25.82 511.67h5.75v5.23h-5.75zM38.84 511.67h5.75v5.23h-5.75zM45.36 511.67h5.75v5.23h-5.75zM64.90 511.67h5.75v5.23h-5.75zM90.95 511.67h5.75v5.23h-5.75zM156.07 511.67h5.75v5.23h-5.75zM234.23 511.67h5.75v5.23h-5.75zM253.77 511.67h5.75v5.23h-5.75zM19.31 517.65h5.75v5.23h-5.75zM110.49 517.65h5.75v5.23h-5.75zM143.05 517.65h5.75v5.23h-5.75zM234.23 517.65h5.75v5.23h-5.75zM6.28 523.64h5.75v5.23h-5.75zM25.82 523.64h5.75v5.23h-5.75zM103.97 523.64h5.75v5.23h-5.75zM12.79 529.62h5.75v5.23h-5.75zM97.46 529.62h5.75v5.23h-5.75zM123.51 529.62h5.75v5.23h-5.75zM143.05 529.62h5.75v5.23h-5.75zM195.15 529.62h5.75v5.23h-5.75zM214.69 529.62h5.75v5.23h-5.75zM38.84 535.61h5.75v5.23h-5.75zM90.95 535.61h5.75v5.23h-5.75zM123.51 535.61h5.75v5.23h-5.75zM136.54 535.61h5.75v5.23h-5.75zM182.13 535.61h5.75v5.23h-5.75zM234.23 535.61h5.75v5.23h-5.75zM240.74 535.61h5.75v5.23h-5.75zM247.25 535.61h5.75v5.23h-5.75zM253.77 535.61h5.75v5.23h-5.75zM12.79 541.59h5.75v5.23h-5.75zM84.43 541.59h5.75v5.23h-5.75zM227.72 541.59h5.75v5.23h-5.75zM247.25 541.59h5.75v5.23h-5.75zM253.77 541.59h5.75v5.23h-5.75zM6.28 547.58h5.75v5.23h-5.75zM12.79 547.58h5.75v5.23h-5.75zM149.56 547.58h5.75v5.23h-5.75zM201.66 547.58h5.75v5.23h-5.75zM208.18 547.58h5.75v5.23h-5.75zM240.74 547.58h5.75v5.23h-5.75zM6.28 553.56h5.75v5.23h-5.75zM38.84 553.56h5.75v5.23h-5.75zM130.02 553.56h5.75v5.23h-5.75zM182.13 553.56h5.75v5.23h-5.75zM201.66 553.56h5.75v5.23h-5.75zM234.23 553.56h5.75v5.23h-5.75zM240.74 553.56h5.75v5.23h-5.75zM45.36 559.55h5.75v5.23h-5.75zM64.90 559.55h5.75v5.23h-5.75zM123.51 559.55h5.75v5.23h-5.75zM136.54 559.55h5.75v5.23h-5.75zM6.28 565.53h5.75v5.23h-5.75zM77.92 565.53h5.75v5.23h-5.75zM90.95 565.53h5.75v5.23h-5.75zM156.07 565.53h5.75v5.23h-5.75zM182.13 565.53h5.75v5.23h-5.75zM6.28 571.51h5.75v5.23h-5.75zM12.79 571.51h5.75v5.23h-5.75zM38.84 571.51h5.75v5.23h-5.75zM45.36 571.51h5.75v5.23h-5.75zM123.51 571.51h5.75v5.23h-5.75zM156.07 571.51h5.75v5.23h-5.75zM188.64 571.51h5.75v5.23h-5.75zM214.69 571.51h5.75v5.23h-5.75zM45.36 577.50h5.75v5.23h-5.75zM71.41 577.50h5.75v5.23h-5.75zM84.43 577.50h5.75v5.23h-5.75zM103.97 577.50h5.75v5.23h-5.75zM234.23 577.50h5.75v5.23h-5.75zM6.28 583.49h5.75v5.23h-5.75zM38.84 583.49h5.75v5.23h-5.75zM45.36 583.49h5.75v5.23h-5.75zM188.64 583.49h5.75v5.23h-5.75zM240.74 583.49h5.75v5.23h-5.75zM247.25 583.49h5.75v5.23h-5.75zM156.07 589.47h5.75v5.23h-5.75zM227.72 589.47h5.75v5.23h-5.75zM103.97 595.46h5.75v5.23h-5.75zM169.10 595.46h5.75v5.23h-5.75zM188.64 595.46h5.75v5.23h-5.75zM201.66 595.46h5.75v5.23h-5.75zM240.74 595.46h5.75v5.23h-5.75zM247.25 595.46h5.75v5.23h-5.75zM253.77 595.46h5.75v5.23h-5.75zM247.25 601.44h5.75v5.23h-5.75zM175.61 607.43h5.75v5.23h-5.75zM188.64 607.43h5.75v5.23h-5.75zM195.15 607.43h5.75v5.23h-5.75zM6.28 619.39h5.75v5.23h-5.75zM25.82 619.39h5.75v5.23h-5.75zM51.87 619.39h5.75v5.23h-5.75zM64.90 619.39h5.75v5.23h-5.75zM97.46 619.39h5.75v5.23h-5.75zM103.97 619.39h5.75v5.23h-5.75zM143.05 619.39h5.75v5.23h-5.75zM214.69 619.39h5.75v5.23h-5.75z"/>
<path fill="#e8363e" d="M12.79 26.88h5.75v5.23h-5.75zM25.82 26.88h5.75v5.23h-5.75zM32.33 26.88h5.75v5.23h-5.75zM45.36 26.88h5.75v5.23h-5.75zM64.90 26.88h5.75v5.23h-5.75zM71.41 26.88h5.75v5.23h-5.75zM90.95 26.88h5.75v5.23h-5.75zM97.46 26.88h5.75v5.23h-5.75zM117.00 26.88h5.75v5.23h-5.75zM123.51 26.88h5.75v5.23h-5.75zM136.54 26.88h5.75v5.23h-5.75zM156.07 26.88h5.75v5.23h-5.75zM162.59 26.88h5.75v5.23h-5.75zM169.10 26.88h5.75v5.23h-5.75zM182.13 26.88h5.75v5.23h-5.75zM195.15 26.88h5.75v5.23h-5.75zM201.66 26.88h5.75v5.23h-5.75zM221.20 26.88h5.75v5.23h-5.75zM227.72 26.88h5.75v5.23h-5.75zM64.90 32.87h5.75v5.23h-5.75zM201.66 32.87h5.75v5.23h-5.75zM214.69 32.87h5.75v5.23h-5.75zM227.72 32.87h5.75v5.23h-5.75zM6.28 38.85h5.75v5.23h-5.75zM12.79 38.85h5.75v5.23h-5.75zM25.82 38.85h5.75v5.23h-5.75zM45.36 38.85h5.75v5.23h-5.75zM64.90 38.85h5.75v5.23h-5.75zM71.41 38.85h5.75v5.23h-5.75zM123.51 38.85h5.75v5.23h-5.75zM136.54 38.85h5.75v5.23h-5.75zM156.07 38.85h5.75v5.23h-5.75zM162.59 38.85h5.75v5.23h-5.75zM182.13 38.85h5.75v5.23h-5.75zM195.15 38.85h5.75v5.23h-5.75zM201.66 38.85h5.75v5.23h-5.75zM64.90 44.84h5.75v5.23h-5.75zM90.95 44.84h5.75v5.23h-5.75zM130.02 44.84h5.75v5.23h-5.75zM162.59 44.84h5.75v5.23h-5.75zM214.69 44.84h5.75v5.23h-5.75zM227.72 44.84h5.75v5.23h-5.75zM64.90 50.82h5.75v5.23h-5.75zM71.41 50.82h5.75v5.23h-5.75zM77.92 50.82h5.75v5.23h-5.75zM84.43 50.82h5.75v5.23h-5.75zM130.02 50.82h5.75v5.23h-5.75zM214.69 50.82h5.75v5.23h-5.75zM227.72 50.82h5.75v5.23h-5.75zM38.84 56.80h5.75v5.23h-5.75zM51.87 56.80h5.75v5.23h-5.75zM64.90 56.80h5.75v5.23h-5.75zM90.95 56.80h5.75v5.23h-5.75zM162.59 56.80h5.75v5.23h-5.75zM136.54 62.79h5.75v5.23h-5.75zM221.20 62.79h5.75v5.23h-5.75zM90.95 68.78h5.75v5.23h-5.75zM221.20 68.78h5.75v5.23h-5.75zM6.28 74.76h5.75v5.23h-5.75zM90.95 74.76h5.75v5.23h-5.75zM123.51 74.76h5.75v5.23h-5.75zM227.72 74.76h5.75v5.23h-5.75zM6.28 80.75h5.75v5.23h-5.75zM64.90 80.75h5.75v5.23h-5.75zM90.95 80.75h5.75v5.23h-5.75zM214.69 80.75h5.75v5.23h-5.75zM51.87 86.73h5.75v5.23h-5.75zM77.92 86.73h5.75v5.23h-5.75zM90.95 86.73h5.75v5.23h-5.75zM64.90 92.72h5.75v5.23h-5.75zM123.51 92.72h5.75v5.23h-5.75zM136.54 92.72h5.75v5.23h-5.75zM227.72 92.72h5.75v5.23h-5.75zM64.90 98.70h5.75v5.23h-5.75zM130.02 98.70h5.75v5.23h-5.75zM25.82 104.69h5.75v5.23h-5.75zM38.84 104.69h5.75v5.23h-5.75zM51.87 104.69h5.75v5.23h-5.75zM201.66 104.69h5.75v5.23h-5.75zM208.18 104.69h5.75v5.23h-5.75zM234.23 104.69h5.75v5.23h-5.75zM6.28 110.67h5.75v5.23h-5.75zM45.36 110.67h5.75v5.23h-5.75zM51.87 110.67h5.75v5.23h-5.75zM64.90 110.67h5.75v5.23h-5.75zM77.92 110.67h5.75v5.23h-5.75zM84.43 110.67h5.75v5.23h-5.75zM169.10 110.67h5.75v5.23h-5.75zM214.69 110.67h5.75v5.23h-5.75zM227.72 110.67h5.75v5.23h-5.75zM64.90 116.66h5.75v5.23h-5.75zM90.95 116.66h5.75v5.23h-5.75zM162.59 116.66h5.75v5.23h-5.75zM12.79 122.64h5.75v5.23h-5.75zM38.84 122.64h5.75v5.23h-5.75zM227.72 122.64h5.75v5.23h-5.75zM12.79 128.62h5.75v5.23h-5.75zM19.31 134.61h5.75v5.23h-5.75zM90.95 134.61h5.75v5.23h-5.75zM38.84 140.59h5.75v5.23h-5.75zM64.90 140.59h5.75v5.23h-5.75zM64.90 146.58h5.75v5.23h-5.75zM71.41 146.58h5.75v5.23h-5.75zM123.51 146.58h5.75v5.23h-5.75zM162.59 146.58h5.75v5.23h-5.75zM214.69 146.58h5.75v5.23h-5.75zM12.79 152.56h5.75v5.23h-5.75zM38.84 152.56h5.75v5.23h-5.75zM64.90 152.56h5.75v5.23h-5.75zM182.13 152.56h5.75v5.23h-5.75zM227.72 152.56h5.75v5.23h-5.75zM38.84 158.55h5.75v5.23h-5.75zM45.36 158.55h5.75v5.23h-5.75zM103.97 158.55h5.75v5.23h-5.75zM227.72 158.55h5.75v5.23h-5.75zM234.23 158.55h5.75v5.23h-5.75zM38.84 164.53h5.75v5.23h-5.75zM25.82 170.52h5.75v5.23h-5.75zM123.51 170.52h5.75v5.23h-5.75zM201.66 170.52h5.75v5.23h-5.75zM64.90 176.50h5.75v5.23h-5.75zM90.95 176.50h5.75v5.23h-5.75zM123.51 176.50h5.75v5.23h-5.75zM214.69 176.50h5.75v5.23h-5.75zM227.72 176.50h5.75v5.23h-5.75zM64.90 182.49h5.75v5.23h-5.75zM77.92 182.49h5.75v5.23h-5.75zM117.00 182.49h5.75v5.23h-5.75zM227.72 182.49h5.75v5.23h-5.75zM71.41 188.47h5.75v5.23h-5.75zM103.97 188.47h5.75v5.23h-5.75zM182.13 188.47h5.75v5.23h-5.75zM38.84 194.46h5.75v5.23h-5.75zM45.36 194.46h5.75v5.23h-5.75zM227.72 194.46h5.75v5.23h-5.75zM19.31 200.44h5.75v5.23h-5.75zM64.90 200.44h5.75v5.23h-5.75zM84.43 200.44h5.75v5.23h-5.75zM90.95 200.44h5.75v5.23h-5.75zM110.49 200.44h5.75v5.23h-5.75zM136.54 200.44h5.75v5.23h-5.75zM149.56 200.44h5.75v5.23h-5.75zM156.07 200.44h5.75v5.23h-5.75zM162.59 200.44h5.75v5.23h-5.75zM214.69 200.44h5.75v5.23h-5.75zM234.23 200.44h5.75v5.23h-5.75zM38.84 206.43h5.75v5.23h-5.75zM149.56 206.43h5.75v5.23h-5.75zM227.72 206.43h5.75v5.23h-5.75zM38.84 212.41h5.75v5.23h-5.75zM149.56 212.41h5.75v5.23h-5.75zM38.84 218.40h5.75v5.23h-5.75zM90.95 218.40h5.75v5.23h-5.75zM130.02 218.40h5.75v5.23h-5.75zM136.54 218.40h5.75v5.23h-5.75zM214.69 218.40h5.75v5.23h-5.75zM38.84 224.39h5.75v5.23h-5.75zM71.41 230.37h5.75v5.23h-5.75zM182.13 230.37h5.75v5.23h-5.75zM6.28 236.36h5.75v5.23h-5.75zM51.87 236.36h5.75v5.23h-5.75zM64.90 236.36h5.75v5.23h-5.75zM71.41 236.36h5.75v5.23h-5.75zM123.51 236.36h5.75v5.23h-5.75zM130.02 236.36h5.75v5.23h-5.75zM162.59 236.36h5.75v5.23h-5.75zM208.18 236.36h5.75v5.23h-5.75zM221.20 236.36h5.75v5.23h-5.75zM64.90 242.34h5.75v5.23h-5.75zM71.41 242.34h5.75v5.23h-5.75zM143.05 242.34h5.75v5.23h-5.75zM214.69 242.34h5.75v5.23h-5.75zM227.72 242.34h5.75v5.23h-5.75zM19.31 248.33h5.75v5.23h-5.75zM38.84 248.33h5.75v5.23h-5.75zM162.59 248.33h5.75v5.23h-5.75zM214.69 248.33h5.75v5.23h-5.75zM221.20 248.33h5.75v5.23h-5.75zM38.84 254.31h5.75v5.23h-5.75zM234.23 254.31h5.75v5.23h-5.75zM45.36 260.30h5.75v5.23h-5.75zM64.90 260.30h5.75v5.23h-5.75zM130.02 260.30h5.75v5.23h-5.75zM64.90 266.28h5.75v5.23h-5.75zM90.95 266.28h5.75v5.23h-5.75zM214.69 266.28h5.75v5.23h-5.75zM6.28 272.26h5.75v5.23h-5.75zM162.59 272.26h5.75v5.23h-5.75zM208.18 272.26h5.75v5.23h-5.75zM221.20 272.26h5.75v5.23h-5.75zM84.43 278.25h5.75v5.23h-5.75zM12.79 284.24h5.75v5.23h-5.75zM38.84 284.24h5.75v5.23h-5.75zM77.92 290.22h5.75v5.23h-5.75zM162.59 290.22h5.75v5.23h-5.75zM51.87 296.20h5.75v5.23h-5.75zM64.90 296.20h5.75v5.23h-5.75zM143.05 296.20h5.75v5.23h-5.75zM214.69 296.20h5.75v5.23h-5.75zM227.72 296.20h5.75v5.23h-5.75zM103.97 302.19h5.75v5.23h-5.75zM110.49 302.19h5.75v5.23h-5.75zM143.05 302.19h5.75v5.23h-5.75zM156.07 302.19h5.75v5.23h-5.75zM175.61 302.19h5.75v5.23h-5.75zM221.20 302.19h5.75v5.23h-5.75zM234.23 302.19h5.75v5.23h-5.75zM64.90 308.18h5.75v5.23h-5.75zM214.69 308.18h5.75v5.23h-5.75zM227.72 308.18h5.75v5.23h-5.75zM214.69 314.16h5.75v5.23h-5.75zM221.20 314.16h5.75v5.23h-5.75zM227.72 314.16h5.75v5.23h-5.75zM175.61 320.15h5.75v5.23h-5.75zM201.66 320.15h5.75v5.23h-5.75zM240.74 326.13h5.75v5.23h-5.75zM247.25 326.13h5.75v5.23h-5.75zM253.77 326.13h5.75v5.23h-5.75zM240.74 332.12h5.75v5.23h-5.75zM247.25 332.12h5.75v5.23h-5.75zM253.77 332.12h5.75v5.23h-5.75zM25.82 338.10h5.75v5.23h-5.75zM240.74 338.10h5.75v5.23h-5.75zM247.25 338.10h5.75v5.23h-5.75zM253.77 338.10h5.75v5.23h-5.75zM12.79 344.09h5.75v5.23h-5.75zM240.74 344.09h5.75v5.23h-5.75zM247.25 344.09h5.75v5.23h-5.75zM253.77 344.09h5.75v5.23h-5.75zM6.28 350.07h5.75v5.23h-5.75zM12.79 350.07h5.75v5.23h-5.75zM19.31 350.07h5.75v5.23h-5.75zM32.33 350.07h5.75v5.23h-5.75zM38.84 350.07h5.75v5.23h-5.75zM136.54 350.07h5.75v5.23h-5.75zM240.74 350.07h5.75v5.23h-5.75zM247.25 350.07h5.75v5.23h-5.75zM253.77 350.07h5.75v5.23h-5.75zM6.28 356.06h5.75v5.23h-5.75zM25.82 356.06h5.75v5.23h-5.75zM45.36 356.06h5.75v5.23h-5.75zM188.64 356.06h5.75v5.23h-5.75zM234.23 356.06h5.75v5.23h-5.75zM240.74 356.06h5.75v5.23h-5.75zM247.25 356.06h5.75v5.23h-5.75zM253.77 356.06h5.75v5.23h-5.75zM136.54 362.04h5.75v5.23h-5.75zM143.05 362.04h5.75v5.23h-5.75zM195.15 362.04h5.75v5.23h-5.75zM227.72 362.04h5.75v5.23h-5.75zM240.74 362.04h5.75v5.23h-5.75zM247.25 362.04h5.75v5.23h-5.75zM110.49 368.03h5.75v5.23h-5.75zM240.74 368.03h5.75v5.23h-5.75zM247.25 368.03h5.75v5.23h-5.75zM253.77 368.03h5.75v5.23h-5.75zM247.25 374.01h5.75v5.23h-5.75zM253.77 374.01h5.75v5.23h-5.75zM214.69 380.00h5.75v5.23h-5.75zM240.74 380.00h5.75v5.23h-5.75zM253.77 380.00h5.75v5.23h-5.75zM123.51 385.98h5.75v5.23h-5.75zM149.56 385.98h5.75v5.23h-5.75zM175.61 385.98h5.75v5.23h-5.75zM188.64 385.98h5.75v5.23h-5.75zM201.66 385.98h5.75v5.23h-5.75zM227.72 385.98h5.75v5.23h-5.75zM240.74 385.98h5.75v5.23h-5.75zM247.25 385.98h5.75v5.23h-5.75zM253.77 385.98h5.75v5.23h-5.75zM6.28 391.97h5.75v5.23h-5.75zM12.79 391.97h5.75v5.23h-5.75zM123.51 391.97h5.75v5.23h-5.75zM234.23 391.97h5.75v5.23h-5.75zM240.74 391.97h5.75v5.23h-5.75zM247.25 391.97h5.75v5.23h-5.75zM240.74 397.95h5.75v5.23h-5.75zM247.25 397.95h5.75v5.23h-5.75zM253.77 397.95h5.75v5.23h-5.75zM240.74 403.94h5.75v5.23h-5.75zM253.77 403.94h5.75v5.23h-5.75zM247.25 409.92h5.75v5.23h-5.75zM253.77 409.92h5.75v5.23h-5.75zM6.28 415.91h5.75v5.23h-5.75zM19.31 415.91h5.75v5.23h-5.75zM38.84 415.91h5.75v5.23h-5.75zM149.56 415.91h5.75v5.23h-5.75zM240.74 415.91h5.75v5.23h-5.75zM247.25 415.91h5.75v5.23h-5.75zM253.77 415.91h5.75v5.23h-5.75zM136.54 421.89h5.75v5.23h-5.75zM156.07 421.89h5.75v5.23h-5.75zM247.25 421.89h5.75v5.23h-5.75zM253.77 421.89h5.75v5.23h-5.75zM64.90 427.88h5.75v5.23h-5.75zM136.54 427.88h5.75v5.23h-5.75zM149.56 427.88h5.75v5.23h-5.75zM247.25 427.88h5.75v5.23h-5.75zM253.77 427.88h5.75v5.23h-5.75zM6.28 433.86h5.75v5.23h-5.75zM103.97 439.85h5.75v5.23h-5.75zM234.23 439.85h5.75v5.23h-5.75zM240.74 439.85h5.75v5.23h-5.75zM247.25 439.85h5.75v5.23h-5.75zM253.77 439.85h5.75v5.23h-5.75zM234.23 445.83h5.75v5.23h-5.75zM247.25 445.83h5.75v5.23h-5.75zM253.77 445.83h5.75v5.23h-5.75zM32.33 451.81h5.75v5.23h-5.75zM240.74 451.81h5.75v5.23h-5.75zM247.25 451.81h5.75v5.23h-5.75zM253.77 451.81h5.75v5.23h-5.75zM149.56 457.80h5.75v5.23h-5.75zM156.07 457.80h5.75v5.23h-5.75zM188.64 457.80h5.75v5.23h-5.75zM234.23 457.80h5.75v5.23h-5.75zM247.25 457.80h5.75v5.23h-5.75zM253.77 457.80h5.75v5.23h-5.75zM38.84 463.79h5.75v5.23h-5.75zM156.07 463.79h5.75v5.23h-5.75zM227.72 463.79h5.75v5.23h-5.75zM247.25 463.79h5.75v5.23h-5.75zM156.07 469.77h5.75v5.23h-5.75zM175.61 469.77h5.75v5.23h-5.75zM214.69 469.77h5.75v5.23h-5.75zM227.72 469.77h5.75v5.23h-5.75zM247.25 469.77h5.75v5.23h-5.75zM253.77 469.77h5.75v5.23h-5.75zM64.90 475.75h5.75v5.23h-5.75zM156.07 475.75h5.75v5.23h-5.75zM234.23 475.75h5.75v5.23h-5.75zM247.25 475.75h5.75v5.23h-5.75zM253.77 475.75h5.75v5.23h-5.75zM156.07 481.74h5.75v5.23h-5.75zM175.61 481.74h5.75v5.23h-5.75zM234.23 481.74h5.75v5.23h-5.75zM247.25 481.74h5.75v5.23h-5.75zM253.77 481.74h5.75v5.23h-5.75zM12.79 487.73h5.75v5.23h-5.75zM19.31 487.73h5.75v5.23h-5.75zM234.23 487.73h5.75v5.23h-5.75zM247.25 487.73h5.75v5.23h-5.75zM253.77 493.71h5.75v5.23h-5.75zM51.87 499.69h5.75v5.23h-5.75zM84.43 499.69h5.75v5.23h-5.75zM103.97 499.69h5.75v5.23h-5.75zM247.25 499.69h5.75v5.23h-5.75zM253.77 499.69h5.75v5.23h-5.75zM25.82 505.68h5.75v5.23h-5.75zM149.56 505.68h5.75v5.23h-5.75zM247.25 505.68h5.75v5.23h-5.75zM253.77 505.68h5.75v5.23h-5.75zM201.66 511.67h5.75v5.23h-5.75zM240.74 511.67h5.75v5.23h-5.75zM247.25 511.67h5.75v5.23h-5.75zM136.54 517.65h5.75v5.23h-5.75zM149.56 517.65h5.75v5.23h-5.75zM240.74 517.65h5.75v5.23h-5.75zM247.25 517.65h5.75v5.23h-5.75zM253.77 517.65h5.75v5.23h-5.75zM12.79 523.64h5.75v5.23h-5.75zM32.33 523.64h5.75v5.23h-5.75zM38.84 523.64h5.75v5.23h-5.75zM240.74 523.64h5.75v5.23h-5.75zM253.77 523.64h5.75v5.23h-5.75zM64.90 529.62h5.75v5.23h-5.75zM84.43 529.62h5.75v5.23h-5.75zM136.54 529.62h5.75v5.23h-5.75zM201.66 529.62h5.75v5.23h-5.75zM247.25 529.62h5.75v5.23h-5.75zM253.77 529.62h5.75v5.23h-5.75zM64.90 535.61h5.75v5.23h-5.75zM214.69 535.61h5.75v5.23h-5.75zM227.72 535.61h5.75v5.23h-5.75zM38.84 541.59h5.75v5.23h-5.75zM64.90 541.59h5.75v5.23h-5.75zM103.97 541.59h5.75v5.23h-5.75zM240.74 541.59h5.75v5.23h-5.75zM221.20 547.58h5.75v5.23h-5.75zM247.25 547.58h5.75v5.23h-5.75zM253.77 547.58h5.75v5.23h-5.75zM156.07 553.56h5.75v5.23h-5.75zM188.64 553.56h5.75v5.23h-5.75zM247.25 553.56h5.75v5.23h-5.75zM253.77 553.56h5.75v5.23h-5.75zM240.74 559.55h5.75v5.23h-5.75zM253.77 559.55h5.75v5.23h-5.75zM19.31 565.53h5.75v5.23h-5.75zM247.25 565.53h5.75v5.23h-5.75zM253.77 565.53h5.75v5.23h-5.75zM64.90 571.51h5.75v5.23h-5.75zM136.54 571.51h5.75v5.23h-5.75zM227.72 571.51h5.75v5.23h-5.75zM234.23 571.51h5.75v5.23h-5.75zM247.25 571.51h5.75v5.23h-5.75zM253.77 571.51h5.75v5.23h-5.75zM201.66 577.50h5.75v5.23h-5.75zM247.25 577.50h5.75v5.23h-5.75zM253.77 577.50h5.75v5.23h-5.75zM149.56 583.49h5.75v5.23h-5.75zM19.31 589.47h5.75v5.23h-5.75zM25.82 589.47h5.75v5.23h-5.75zM77.92 589.47h5.75v5.23h-5.75zM90.95 589.47h5.75v5.23h-5.75zM247.25 589.47h5.75v5.23h-5.75zM253.77 589.47h5.75v5.23h-5.75zM12.79 595.46h5.75v5.23h-5.75zM123.51 595.46h5.75v5.23h-5.75zM136.54 595.46h5.75v5.23h-5.75zM214.69 595.46h5.75v5.23h-5.75zM227.72 595.46h5.75v5.23h-5.75zM149.56 601.44h5.75v5.23h-5.75zM234.23 601.44h5.75v5.23h-5.75zM253.77 601.44h5.75v5.23h-5.75zM234.23 607.43h5.75v5.23h-5.75zM240.74 607.43h5.75v5.23h-5.75zM253.77 607.43h5.75v5.23h-5.75zM240.74 613.41h5.75v5.23h-5.75zM253.77 613.41h5.75v5.23h-5.75zM58.38 619.39h5.75v5.23h-5.75zM84.43 619.39h5.75v5.23h-5.75zM240.74 619.39h5.75v5.23h-5.75zM247.25 619.39h5.75v5.23h-5.75z"/>
</g>
<rect x="5.9" y="325.15" width="254.00" height="1.2" fill="#f4c6ae"/>
<path d="M6,23 C6,20 7,19 10,19 L116,19 C119,19 121,18 122.3,15.5 C123.6,18 125.6,19 128.6,19 L234,19 C237,19 238.8,20 239,22.5" fill="none" stroke="#111" stroke-width="1.3"/>
<path d="M239.6,22.5 C240,20.5 241,19.6 243,19.6 L247,19.6 C248.6,19.6 249.3,19 249.6,17.3 C249.9,19 250.6,19.6 252.2,19.6 L257.5,19.6 C259.5,19.6 260.2,20.5 260.2,22.5" fill="none" stroke="#111" stroke-width="1.3"/>
<text x="111.0" y="13.6" font-size="10" fill="#1a1a1a" stroke="#1a1a1a" stroke-width="0.25" font-family="Liberation Sans, sans-serif">T-ALL</text>
<text x="226.8" y="14.1" font-size="10.2" fill="#1a1a1a" stroke="#1a1a1a" stroke-width="0.25" font-family="Liberation Sans, sans-serif">MLL T-ALL</text>
<line x1="259.8" y1="34.25" x2="296.4" y2="31.75" stroke="#111" stroke-width="1.5"/>
<text x="300.0" y="35.83" font-size="9.3" fill="#c4363c" stroke="#c4363c" stroke-width="0.28" font-family="Liberation Sans, sans-serif">CD2</text>
<line x1="259.8" y1="46.25" x2="296.4" y2="46.25" stroke="#111" stroke-width="1.5"/>
<text x="300.0" y="49.33" font-size="9.3" fill="#1e1e1e" stroke="#1e1e1e" stroke-width="0.28" font-family="Liberation Sans, sans-serif">MCM2</text>
<line x1="259.8" y1="77.5" x2="296.4" y2="65.75" stroke="#111" stroke-width="1.5"/>
<text x="300.0" y="69.83" font-size="9.3" fill="#1e1e1e" stroke="#1e1e1e" stroke-width="0.28" font-family="Liberation Sans, sans-serif">Thymidylate synthase</text>
<line x1="259.8" y1="90.75" x2="296.4" y2="83.0" stroke="#111" stroke-width="1.5"/>
<text x="300.0" y="86.83" font-size="9.3" fill="#1e1e1e" stroke="#1e1e1e" stroke-width="0.28" font-family="Liberation Sans, sans-serif">Dihydrofolate reductase</text>
<line x1="259.8" y1="101.25" x2="296.4" y2="101.25" stroke="#111" stroke-width="1.5"/>
<text x="300.0" y="104.33" font-size="9.3" fill="#1e1e1e" stroke="#1e1e1e" stroke-width="0.28" font-family="Liberation Sans, sans-serif">CDK2</text>
<line x1="259.8" y1="117.0" x2="296.4" y2="117.0" stroke="#111" stroke-width="1.5"/>
<text x="300.0" y="120.83" font-size="9.3" fill="#c4363c" stroke="#c4363c" stroke-width="0.28" font-family="Liberation Sans, sans-serif">TDT</text>
<line x1="259.8" y1="145.3" x2="296.4" y2="129.3" stroke="#111" stroke-width="1.5"/>
<text x="300.0" y="132.83" font-size="9.3" fill="#1e1e1e" stroke="#1e1e1e" stroke-width="0.28" font-family="Liberation Sans, sans-serif">Hypoxanthine phosphoribosyltransferase</text>
<line x1="259.8" y1="150.8" x2="296.4" y2="140.7" stroke="#111" stroke-width="1.5"/>
<text x="300.0" y="144.33" font-size="9.3" fill="#1e1e1e" stroke="#1e1e1e" stroke-width="0.28" font-family="Liberation Sans, sans-serif">DNA topoisomerase II</text>
<line x1="259.8" y1="162.2" x2="296.4" y2="151.9" stroke="#111" stroke-width="1.5"/>
<text x="300.0" y="155.13" font-size="9.3" fill="#1e1e1e" stroke="#1e1e1e" stroke-width="0.28" font-family="Liberation Sans, sans-serif">RNA Polymerase II</text>
<line x1="259.8" y1="174.5" x2="296.4" y2="163.5" stroke="#111" stroke-width="1.5"/>
<text x="300.0" y="166.63" font-size="9.3" fill="#1e1e1e" stroke="#1e1e1e" stroke-width="0.28" font-family="Liberation Sans, sans-serif">Dedicator of cyto-kinesis 2</text>
<line x1="259.8" y1="185.8" x2="296.4" y2="174.5" stroke="#111" stroke-width="1.5"/>
<text x="300.0" y="177.63" font-size="9.3" fill="#1e1e1e" stroke="#1e1e1e" stroke-width="0.28" font-family="Liberation Sans, sans-serif">PCNA</text>
<line x1="259.8" y1="195.5" x2="296.4" y2="185.8" stroke="#111" stroke-width="1.5"/>
<text x="300.0" y="188.63" font-size="9.3" fill="#1e1e1e" stroke="#1e1e1e" stroke-width="0.28" font-family="Liberation Sans, sans-serif">C-MYC</text>
<line x1="259.8" y1="209.7" x2="296.4" y2="203.5" stroke="#111" stroke-width="1.5"/>
<text x="300.0" y="206.83" font-size="9.3" fill="#1e1e1e" stroke="#1e1e1e" stroke-width="0.28" font-family="Liberation Sans, sans-serif">Translation elongation factor 1 delta</text>
<line x1="259.8" y1="216.5" x2="296.4" y2="214.3" stroke="#111" stroke-width="1.5"/>
<text x="300.0" y="217.63" font-size="9.3" fill="#1e1e1e" stroke="#1e1e1e" stroke-width="0.28" font-family="Liberation Sans, sans-serif">Ribosomal protein S4</text>
<line x1="259.8" y1="230.3" x2="296.4" y2="230.3" stroke="#111" stroke-width="1.5"/>
<text x="300.0" y="234.33" font-size="9.3" fill="#1e1e1e" stroke="#1e1e1e" stroke-width="0.28" font-family="Liberation Sans, sans-serif">Guanosine 5'-Monophosphate Synthase</text>
<line x1="259.8" y1="241.5" x2="296.4" y2="250.8" stroke="#111" stroke-width="1.5"/>
<text x="300.0" y="252.83" font-size="9.3" fill="#1e1e1e" stroke="#1e1e1e" stroke-width="0.28" font-family="Liberation Sans, sans-serif">MYC</text>
<line x1="259.8" y1="253.8" x2="296.4" y2="261.5" stroke="#111" stroke-width="1.5"/>
<text x="300.0" y="264.33" font-size="9.3" fill="#1e1e1e" stroke="#1e1e1e" stroke-width="0.28" font-family="Liberation Sans, sans-serif">CDC46</text>
<line x1="259.8" y1="277.4" x2="296.4" y2="272.0" stroke="#111" stroke-width="1.5"/>
<text x="300.0" y="275.33" font-size="9.3" fill="#1e1e1e" stroke="#1e1e1e" stroke-width="0.28" font-family="Liberation Sans, sans-serif">Nucleoside transporter 1 (ENT1)</text>
<line x1="259.8" y1="288.2" x2="296.4" y2="283.5" stroke="#111" stroke-width="1.5"/>
<text x="300.0" y="286.83" font-size="9.3" fill="#1e1e1e" stroke="#1e1e1e" stroke-width="0.28" font-family="Liberation Sans, sans-serif">Neutral amino acid transporter</text>
<line x1="259.8" y1="295.4" x2="296.4" y2="295.4" stroke="#111" stroke-width="1.5"/>
<text x="300.0" y="298.53" font-size="9.3" fill="#1e1e1e" stroke="#1e1e1e" stroke-width="0.28" font-family="Liberation Sans, sans-serif">Glutamine synthase</text>
<line x1="259.8" y1="307.0" x2="296.4" y2="307.0" stroke="#111" stroke-width="1.5"/>
<text x="300.0" y="310.13" font-size="9.3" fill="#1e1e1e" stroke="#1e1e1e" stroke-width="0.28" font-family="Liberation Sans, sans-serif">Ribonucleotide-diphosphate reductase</text>
<line x1="259.8" y1="311.2" x2="296.4" y2="318.0" stroke="#111" stroke-width="1.5"/>
<text x="300.0" y="320.83" font-size="9.3" fill="#1e1e1e" stroke="#1e1e1e" stroke-width="0.28" font-family="Liberation Sans, sans-serif">DNA polymerase alpha</text>
<line x1="259.8" y1="336.0" x2="296.4" y2="336.0" stroke="#111" stroke-width="1.5"/>
<text x="300.0" y="339.33" font-size="9.3" fill="#1e1e1e" stroke="#1e1e1e" stroke-width="0.28" font-family="Liberation Sans, sans-serif">E2-2</text>
<line x1="259.8" y1="348.4" x2="296.4" y2="356.5" stroke="#111" stroke-width="1.5"/>
<text x="300.0" y="359.83" font-size="9.3" fill="#c4363c" stroke="#c4363c" stroke-width="0.28" font-family="Liberation Sans, sans-serif">CD34</text>
<line x1="259.8" y1="355.0" x2="296.4" y2="368.0" stroke="#111" stroke-width="1.5"/>
<text x="300.0" y="371.13" font-size="9.3" fill="#c4363c" stroke="#c4363c" stroke-width="0.28" font-family="Liberation Sans, sans-serif">TCRG</text>
<line x1="259.8" y1="378.5" x2="296.4" y2="389.7" stroke="#111" stroke-width="1.5"/>
<text x="300.0" y="392.03" font-size="9.3" fill="#c4363c" stroke="#c4363c" stroke-width="0.28" font-family="Liberation Sans, sans-serif">CD3 Epsilon</text>
<line x1="259.8" y1="385.4" x2="296.4" y2="402.0" stroke="#111" stroke-width="1.5"/>
<text x="300.0" y="403.63" font-size="9.3" fill="#1e1e1e" stroke="#1e1e1e" stroke-width="0.28" font-family="Liberation Sans, sans-serif">BMI1</text>
<line x1="259.8" y1="397.7" x2="296.4" y2="412.3" stroke="#111" stroke-width="1.5"/>
<text x="300.0" y="414.33" font-size="9.3" fill="#1e1e1e" stroke="#1e1e1e" stroke-width="0.28" font-family="Liberation Sans, sans-serif">GATA3</text>
<line x1="259.8" y1="407.0" x2="296.4" y2="423.8" stroke="#111" stroke-width="1.5"/>
<text x="300.0" y="425.83" font-size="9.3" fill="#c4363c" stroke="#c4363c" stroke-width="0.28" font-family="Liberation Sans, sans-serif">Selectin L</text>
<line x1="259.8" y1="427.2" x2="296.4" y2="432.8" stroke="#111" stroke-width="1.5"/>
<text x="300.0" y="436.53" font-size="9.3" fill="#1e1e1e" stroke="#1e1e1e" stroke-width="0.28" font-family="Liberation Sans, sans-serif">NF-IL3</text>
<line x1="259.8" y1="484.2" x2="296.4" y2="487.7" stroke="#111" stroke-width="1.5"/>
<text x="300.0" y="491.33" font-size="9.3" fill="#1e1e1e" stroke="#1e1e1e" stroke-width="0.28" font-family="Liberation Sans, sans-serif">FGR oncogene</text>
<line x1="259.8" y1="496.5" x2="296.4" y2="499.7" stroke="#111" stroke-width="1.5"/>
<text x="300.0" y="502.03" font-size="9.3" fill="#1e1e1e" stroke="#1e1e1e" stroke-width="0.28" font-family="Liberation Sans, sans-serif">HOXA9</text>
<line x1="259.8" y1="508.0" x2="296.4" y2="509.6" stroke="#111" stroke-width="1.5"/>
<text x="300.0" y="512.93" font-size="9.3" fill="#1e1e1e" stroke="#1e1e1e" stroke-width="0.28" font-family="Liberation Sans, sans-serif">p65  NF-kappaB</text>
<line x1="259.8" y1="557.3" x2="296.4" y2="557.3" stroke="#111" stroke-width="1.5"/>
<text x="300.0" y="560.83" font-size="9.3" fill="#1e1e1e" stroke="#1e1e1e" stroke-width="0.28" font-family="Liberation Sans, sans-serif">Ikaros</text>
<line x1="259.8" y1="562.6" x2="296.4" y2="569.5" stroke="#111" stroke-width="1.5"/>
<text x="300.0" y="572.83" font-size="9.3" fill="#1e1e1e" stroke="#1e1e1e" stroke-width="0.28" font-family="Liberation Sans, sans-serif">GATA3</text>
<line x1="259.8" y1="609.7" x2="296.4" y2="609.7" stroke="#111" stroke-width="1.5"/>
<text x="300.0" y="613.03" font-size="9.3" fill="#1e1e1e" stroke="#1e1e1e" stroke-width="0.28" font-family="Liberation Sans, sans-serif">ID3</text>
<line x1="259.8" y1="615.7" x2="296.4" y2="621.2" stroke="#111" stroke-width="1.5"/>
<text x="300.0" y="624.53" font-size="9.3" fill="#1e1e1e" stroke="#1e1e1e" stroke-width="0.28" font-family="Liberation Sans, sans-serif">SMAD1</text>
<rect x="494.4" y="26.7" width="12" height="11.30" fill="#ee3b42" stroke="rgba(40,10,40,0.35)" stroke-width="0.6"/>
<rect x="494.4" y="38.0" width="12" height="11.30" fill="#4f2a58" stroke="rgba(40,10,40,0.35)" stroke-width="0.6"/>
<rect x="494.4" y="61.8" width="12" height="10.80" fill="#4f2a58" stroke="rgba(40,10,40,0.35)" stroke-width="0.6"/>
<rect x="494.4" y="78.5" width="12" height="10.80" fill="#4f2a58" stroke="rgba(40,10,40,0.35)" stroke-width="0.6"/>
<rect x="494.4" y="95.6" width="12" height="11.10" fill="#4f2a58" stroke="rgba(40,10,40,0.35)" stroke-width="0.6"/>
<rect x="494.4" y="123.7" width="12" height="67.90" fill="#4f2a58" stroke="rgba(40,10,40,0.35)" stroke-width="0.6"/>
<rect x="494.4" y="197.8" width="12" height="22.80" fill="#4f2a58" stroke="rgba(40,10,40,0.35)" stroke-width="0.6"/>
<rect x="494.4" y="226.3" width="12" height="11.40" fill="#4f2a58" stroke="rgba(40,10,40,0.35)" stroke-width="0.6"/>
<rect x="494.4" y="243.5" width="12" height="79.00" fill="#4f2a58" stroke="rgba(40,10,40,0.35)" stroke-width="0.6"/>
<rect x="494.4" y="351.4" width="12" height="22.20" fill="#ee3b42" stroke="rgba(40,10,40,0.35)" stroke-width="0.6"/>
<rect x="494.4" y="383.4" width="12" height="10.60" fill="#ee3b42" stroke="rgba(40,10,40,0.35)" stroke-width="0.6"/>
<rect x="494.4" y="417.2" width="12" height="11.00" fill="#ee3b42" stroke="rgba(40,10,40,0.35)" stroke-width="0.6"/>
<text x="8.26" y="637.2" font-size="10.2" fill="#222" stroke="#222" stroke-width="0.25" text-anchor="middle" font-family="Liberation Sans, sans-serif">1</text>
<text x="21.28" y="637.2" font-size="10.2" fill="#222" stroke="#222" stroke-width="0.25" text-anchor="middle" font-family="Liberation Sans, sans-serif">3</text>
<text x="40.82" y="637.2" font-size="10.2" fill="#222" stroke="#222" stroke-width="0.25" text-anchor="middle" font-family="Liberation Sans, sans-serif">6</text>
<text x="60.36" y="637.2" font-size="10.2" fill="#222" stroke="#222" stroke-width="0.25" text-anchor="middle" font-family="Liberation Sans, sans-serif">9</text>
<text x="79.90" y="637.2" font-size="10.2" fill="#222" stroke="#222" stroke-width="0.25" text-anchor="middle" font-family="Liberation Sans, sans-serif">12</text>
<text x="99.44" y="637.2" font-size="10.2" fill="#222" stroke="#222" stroke-width="0.25" text-anchor="middle" font-family="Liberation Sans, sans-serif">15</text>
<text x="118.97" y="637.2" font-size="10.2" fill="#222" stroke="#222" stroke-width="0.25" text-anchor="middle" font-family="Liberation Sans, sans-serif">18</text>
<text x="138.51" y="637.2" font-size="10.2" fill="#222" stroke="#222" stroke-width="0.25" text-anchor="middle" font-family="Liberation Sans, sans-serif">21</text>
<text x="158.05" y="637.2" font-size="10.2" fill="#222" stroke="#222" stroke-width="0.25" text-anchor="middle" font-family="Liberation Sans, sans-serif">24</text>
<text x="177.59" y="637.2" font-size="10.2" fill="#222" stroke="#222" stroke-width="0.25" text-anchor="middle" font-family="Liberation Sans, sans-serif">27</text>
<text x="197.13" y="637.2" font-size="10.2" fill="#222" stroke="#222" stroke-width="0.25" text-anchor="middle" font-family="Liberation Sans, sans-serif">30</text>
<text x="216.67" y="637.2" font-size="10.2" fill="#222" stroke="#222" stroke-width="0.25" text-anchor="middle" font-family="Liberation Sans, sans-serif">33</text>
<text x="236.21" y="637.2" font-size="10.2" fill="#222" stroke="#222" stroke-width="0.25" text-anchor="middle" font-family="Liberation Sans, sans-serif">36</text>
<text x="255.74" y="637.2" font-size="10.2" fill="#222" stroke="#222" stroke-width="0.25" text-anchor="middle" font-family="Liberation Sans, sans-serif">39</text>
<rect x="70.0" y="641.5" width="131.0" height="10.70" fill="#3c1832"/>
<rect x="70.60" y="642.1" width="8.88" height="9.50" fill="#6a2a58"/>
<rect x="80.68" y="642.1" width="8.88" height="9.50" fill="#4c2650"/>
<rect x="90.75" y="642.1" width="8.88" height="9.50" fill="#8a4a72"/>
<rect x="100.83" y="642.1" width="8.88" height="9.50" fill="#c0809a"/>
<rect x="110.91" y="642.1" width="8.88" height="9.50" fill="#f7c8d6"/>
<rect x="120.98" y="642.1" width="8.88" height="9.50" fill="#f8e0e8"/>
<rect x="131.06" y="642.1" width="8.88" height="9.50" fill="#f7c6cc"/>
<rect x="141.14" y="642.1" width="8.88" height="9.50" fill="#f5898a"/>
<rect x="151.22" y="642.1" width="8.88" height="9.50" fill="#f07575"/>
<rect x="161.29" y="642.1" width="8.88" height="9.50" fill="#ee5050"/>
<rect x="171.37" y="642.1" width="8.88" height="9.50" fill="#ec4242"/>
<rect x="181.45" y="642.1" width="8.88" height="9.50" fill="#e83a3a"/>
<rect x="191.52" y="642.1" width="8.88" height="9.50" fill="#ee3a3a"/>
<text x="75.7" y="669.7" font-size="10.2" fill="#222" stroke="#222" stroke-width="0.25" text-anchor="middle" font-family="Liberation Sans, sans-serif">-3</text>
<text x="97.6" y="669.7" font-size="10.2" fill="#222" stroke="#222" stroke-width="0.25" text-anchor="middle" font-family="Liberation Sans, sans-serif">-2</text>
<text x="116.0" y="669.7" font-size="10.2" fill="#222" stroke="#222" stroke-width="0.25" text-anchor="middle" font-family="Liberation Sans, sans-serif">-1</text>
<text x="134.5" y="669.7" font-size="10.2" fill="#222" stroke="#222" stroke-width="0.25" text-anchor="middle" font-family="Liberation Sans, sans-serif">0</text>
<text x="152.5" y="669.7" font-size="10.2" fill="#222" stroke="#222" stroke-width="0.25" text-anchor="middle" font-family="Liberation Sans, sans-serif">1</text>
<text x="171.0" y="669.7" font-size="10.2" fill="#222" stroke="#222" stroke-width="0.25" text-anchor="middle" font-family="Liberation Sans, sans-serif">2</text>
<text x="190.0" y="669.7" font-size="10.2" fill="#222" stroke="#222" stroke-width="0.25" text-anchor="middle" font-family="Liberation Sans, sans-serif">3</text>
<rect x="342.4" y="626.7" width="173.7" height="37.7" fill="none" stroke="#333" stroke-width="1.2"/>
<rect x="350.2" y="633.8" width="8" height="7.3" fill="#4a2a4c"/>
<rect x="350.2" y="646.4" width="8" height="7.3" fill="#e2323e"/>
<text x="365.0" y="641.1" font-size="11.3" fill="#222" stroke="#222" stroke-width="0.25" font-family="Liberation Sans, sans-serif">Cell growth and proliferation</text>
<text x="365.0" y="655.1" font-size="11.3" fill="#222" stroke="#222" stroke-width="0.25" font-family="Liberation Sans, sans-serif">T-cell differentiation</text>
</svg></body></html>
